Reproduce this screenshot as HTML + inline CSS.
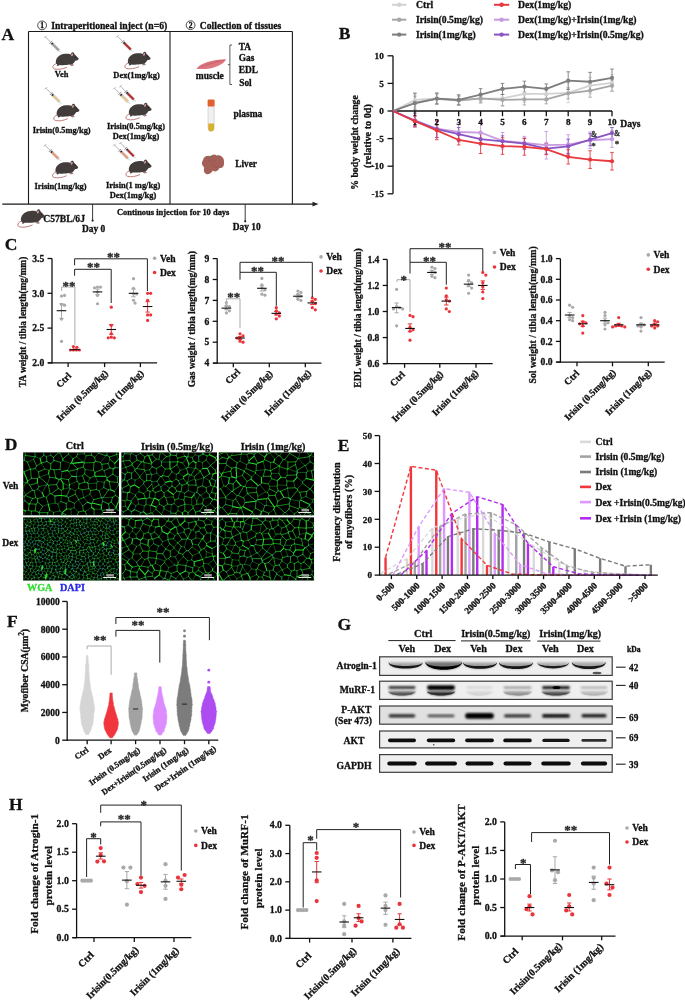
<!DOCTYPE html>
<html><head><meta charset="utf-8"><title>Irisin figure</title>
<style>
html,body{margin:0;padding:0;background:#fff;}
svg{display:block;filter:blur(0.35px);}
text{font-family:"Liberation Serif","Times New Roman",serif;font-weight:bold;stroke-width:0.3px;stroke-linejoin:round;}
</style></head><body>
<svg width="685" height="1001" viewBox="0 0 685 1001">
<defs>
<g id="mouse">
<path d="M1.8,11.4 C-2,12.4 -3.6,16 -0.4,17 C3,17.9 8,17 12,15.2" fill="none" stroke="#b9706c" stroke-width="0.9"/>
<path d="M1,11.5 C0,6.5 4,2.2 10,1.8 C13,1.4 15,1.8 16.6,2.8 L18.2,1.2 C20,2.4 21.6,4.6 23.6,6.4 C23.8,7.6 22.6,8.4 20.6,8.6 C19.6,10 18.6,11.2 17.6,12 L18.8,13.6 L16.2,13.8 L14.6,12.6 C11.5,13.2 7,13.4 4.5,13 L3,14 L1.6,13.6 L2.4,12.6 Z" fill="#423c3b"/>
<ellipse cx="17.4" cy="2.5" rx="1.7" ry="2.3" fill="#423c3b" transform="rotate(20 17.4 2.5)"/><ellipse cx="17.1" cy="2.9" rx="0.9" ry="1.5" fill="#d79a9a" transform="rotate(20 17.1 2.9)"/>
<circle cx="20.4" cy="5" r="0.55" fill="#111"/>
<path d="M14.6,12.6 L16.2,13.8 L18.8,13.6 L17.6,12 Z" fill="#d79a9a" opacity="0.7"/>
</g>
</defs>
<rect x="0" y="0" width="685" height="1001" fill="#ffffff"/>
<text x="1.5" y="40" font-size="17.5" fill="#111" stroke="#111">A</text>
<circle cx="42.1" cy="25.4" r="4.4" fill="none" stroke="#111" stroke-width="0.75"/>
<text x="42.1" y="28.1" font-size="7.6" text-anchor="middle" font-weight="normal" fill="#111" stroke="#111">1</text>
<text x="51.2" y="28.6" font-size="9.66" fill="#111" stroke="#111">Intraperitioneal inject (n=6)</text>
<circle cx="190.6" cy="25.2" r="4.4" fill="none" stroke="#111" stroke-width="0.75"/>
<text x="190.6" y="27.9" font-size="7.6" text-anchor="middle" font-weight="normal" fill="#111" stroke="#111">2</text>
<text x="199.8" y="28.6" font-size="9.66" fill="#111" stroke="#111">Collection of tissues</text>
<line x1="28.5" y1="31.5" x2="292.4" y2="31.5" stroke="#1a1a1a" stroke-width="1.1"/>
<line x1="28.5" y1="31.5" x2="28.5" y2="204" stroke="#1a1a1a" stroke-width="1.1"/>
<line x1="170" y1="31.5" x2="170" y2="204" stroke="#1a1a1a" stroke-width="1.1"/>
<line x1="292.4" y1="31.5" x2="292.4" y2="204" stroke="#1a1a1a" stroke-width="1.1"/>
<line x1="2.3" y1="204.1" x2="313.5" y2="204.1" stroke="#1a1a1a" stroke-width="1.2"/>
<polygon points="312.5,201.7 318.5,204.1 312.5,206.5" fill="#222" stroke="none" stroke-width="1"/>
<line x1="92.6" y1="204" x2="92.6" y2="220.6" stroke="#222" stroke-width="0.9"/>
<circle cx="92.6" cy="220.6" r="1.1" fill="#222" stroke="none" stroke-width="1"/>
<line x1="245.2" y1="204" x2="245.2" y2="221.3" stroke="#222" stroke-width="0.9"/>
<circle cx="245.2" cy="221.3" r="1.1" fill="#222" stroke="none" stroke-width="1"/>
<text x="82" y="232" font-size="9.42" fill="#111" stroke="#111">Day 0</text>
<text x="232.7" y="230.4" font-size="9.42" fill="#111" stroke="#111">Day 10</text>
<text x="117" y="215.2" font-size="8.45" fill="#111" stroke="#111">Continous injection for 10 days</text>
<text x="43.3" y="222" font-size="9.62" fill="#111" stroke="#111">C57BL/6J</text>
<use href="#mouse" transform="translate(20 209) scale(1.05)"/>
<g transform="translate(61 52.5) rotate(225)"><line x1="0" y1="0" x2="3" y2="0" stroke="#6aa6ad" stroke-width="0.5"/><rect x="3" y="-1.25" width="11.5" height="2.5" fill="#eeeeee" stroke="#8a8a8a" stroke-width="0.35"/><rect x="3.2" y="-1.0" width="8.6" height="2.0" fill="#9a9a9a"/><rect x="11.8" y="-1.0" width="1.5" height="2.0" fill="#222"/><line x1="14.5" y1="-2" x2="14.5" y2="2" stroke="#888" stroke-width="0.7"/><line x1="14.5" y1="0" x2="22" y2="0" stroke="#999" stroke-width="0.7"/><line x1="22" y1="-1.6" x2="22" y2="1.6" stroke="#999" stroke-width="0.7"/></g>
<use href="#mouse" transform="translate(55 52) scale(1)"/>
<text x="61.5" y="77.3" font-size="8.4" text-anchor="middle" fill="#111" stroke="#111">Veh</text>
<g transform="translate(133 51.8) rotate(225)"><line x1="0" y1="0" x2="3" y2="0" stroke="#6aa6ad" stroke-width="0.5"/><rect x="3" y="-1.25" width="11.5" height="2.5" fill="#eeeeee" stroke="#8a8a8a" stroke-width="0.35"/><rect x="3.2" y="-1.0" width="8.6" height="2.0" fill="#b52a2a"/><rect x="11.8" y="-1.0" width="1.5" height="2.0" fill="#222"/><line x1="14.5" y1="-2" x2="14.5" y2="2" stroke="#888" stroke-width="0.7"/><line x1="14.5" y1="0" x2="22" y2="0" stroke="#999" stroke-width="0.7"/><line x1="22" y1="-1.6" x2="22" y2="1.6" stroke="#999" stroke-width="0.7"/></g>
<use href="#mouse" transform="translate(127 51.5) scale(1)"/>
<text x="136.6" y="78.3" font-size="8.46" text-anchor="middle" fill="#111" stroke="#111">Dex(1mg/kg)</text>
<g transform="translate(61.5 103.8) rotate(225)"><line x1="0" y1="0" x2="3" y2="0" stroke="#6aa6ad" stroke-width="0.5"/><rect x="3" y="-1.25" width="11.5" height="2.5" fill="#eeeeee" stroke="#8a8a8a" stroke-width="0.35"/><rect x="3.2" y="-1.0" width="8.6" height="2.0" fill="#e6c68e"/><rect x="11.8" y="-1.0" width="1.5" height="2.0" fill="#222"/><line x1="14.5" y1="-2" x2="14.5" y2="2" stroke="#888" stroke-width="0.7"/><line x1="14.5" y1="0" x2="22" y2="0" stroke="#999" stroke-width="0.7"/><line x1="22" y1="-1.6" x2="22" y2="1.6" stroke="#999" stroke-width="0.7"/></g>
<use href="#mouse" transform="translate(55.8 103.5) scale(1)"/>
<text x="61.7" y="132.7" font-size="8.39" text-anchor="middle" fill="#111" stroke="#111">Irisin(0.5mg/kg)</text>
<g transform="translate(130 103.8) rotate(225)"><line x1="0" y1="0" x2="3" y2="0" stroke="#6aa6ad" stroke-width="0.5"/><rect x="3" y="-1.25" width="11.5" height="2.5" fill="#eeeeee" stroke="#8a8a8a" stroke-width="0.35"/><rect x="3.2" y="-1.0" width="8.6" height="2.0" fill="#e6c68e"/><rect x="11.8" y="-1.0" width="1.5" height="2.0" fill="#222"/><line x1="14.5" y1="-2" x2="14.5" y2="2" stroke="#888" stroke-width="0.7"/><line x1="14.5" y1="0" x2="22" y2="0" stroke="#999" stroke-width="0.7"/><line x1="22" y1="-1.6" x2="22" y2="1.6" stroke="#999" stroke-width="0.7"/></g>
<g transform="translate(136 101.8) rotate(225)"><line x1="0" y1="0" x2="3" y2="0" stroke="#6aa6ad" stroke-width="0.5"/><rect x="3" y="-1.25" width="11.5" height="2.5" fill="#eeeeee" stroke="#8a8a8a" stroke-width="0.35"/><rect x="3.2" y="-1.0" width="8.6" height="2.0" fill="#b52a2a"/><rect x="11.8" y="-1.0" width="1.5" height="2.0" fill="#222"/><line x1="14.5" y1="-2" x2="14.5" y2="2" stroke="#888" stroke-width="0.7"/><line x1="14.5" y1="0" x2="22" y2="0" stroke="#999" stroke-width="0.7"/><line x1="22" y1="-1.6" x2="22" y2="1.6" stroke="#999" stroke-width="0.7"/></g>
<use href="#mouse" transform="translate(128 102.5) scale(1)"/>
<text x="136" y="128.8" font-size="8.39" text-anchor="middle" fill="#111" stroke="#111">Irisin(0.5mg/kg)</text>
<text x="136" y="139.3" font-size="8.46" text-anchor="middle" fill="#111" stroke="#111">Dex(1mg/kg)</text>
<g transform="translate(60.5 160.8) rotate(225)"><line x1="0" y1="0" x2="3" y2="0" stroke="#6aa6ad" stroke-width="0.5"/><rect x="3" y="-1.25" width="11.5" height="2.5" fill="#eeeeee" stroke="#8a8a8a" stroke-width="0.35"/><rect x="3.2" y="-1.0" width="8.6" height="2.0" fill="#e8987a"/><rect x="11.8" y="-1.0" width="1.5" height="2.0" fill="#222"/><line x1="14.5" y1="-2" x2="14.5" y2="2" stroke="#888" stroke-width="0.7"/><line x1="14.5" y1="0" x2="22" y2="0" stroke="#999" stroke-width="0.7"/><line x1="22" y1="-1.6" x2="22" y2="1.6" stroke="#999" stroke-width="0.7"/></g>
<use href="#mouse" transform="translate(54.6 160.5) scale(1)"/>
<text x="60.6" y="189" font-size="8.46" text-anchor="middle" fill="#111" stroke="#111">Irisin(1mg/kg)</text>
<g transform="translate(130 160.5) rotate(225)"><line x1="0" y1="0" x2="3" y2="0" stroke="#6aa6ad" stroke-width="0.5"/><rect x="3" y="-1.25" width="11.5" height="2.5" fill="#eeeeee" stroke="#8a8a8a" stroke-width="0.35"/><rect x="3.2" y="-1.0" width="8.6" height="2.0" fill="#e8987a"/><rect x="11.8" y="-1.0" width="1.5" height="2.0" fill="#222"/><line x1="14.5" y1="-2" x2="14.5" y2="2" stroke="#888" stroke-width="0.7"/><line x1="14.5" y1="0" x2="22" y2="0" stroke="#999" stroke-width="0.7"/><line x1="22" y1="-1.6" x2="22" y2="1.6" stroke="#999" stroke-width="0.7"/></g>
<g transform="translate(136 158.5) rotate(225)"><line x1="0" y1="0" x2="3" y2="0" stroke="#6aa6ad" stroke-width="0.5"/><rect x="3" y="-1.25" width="11.5" height="2.5" fill="#eeeeee" stroke="#8a8a8a" stroke-width="0.35"/><rect x="3.2" y="-1.0" width="8.6" height="2.0" fill="#b52a2a"/><rect x="11.8" y="-1.0" width="1.5" height="2.0" fill="#222"/><line x1="14.5" y1="-2" x2="14.5" y2="2" stroke="#888" stroke-width="0.7"/><line x1="14.5" y1="0" x2="22" y2="0" stroke="#999" stroke-width="0.7"/><line x1="22" y1="-1.6" x2="22" y2="1.6" stroke="#999" stroke-width="0.7"/></g>
<use href="#mouse" transform="translate(128 159.4) scale(1)"/>
<text x="133.1" y="188.4" font-size="8.46" text-anchor="middle" fill="#111" stroke="#111">Irisin(1 mg/kg)</text>
<text x="133" y="198.4" font-size="8.46" text-anchor="middle" fill="#111" stroke="#111">Dex(1mg/kg)</text>
<path d="M196.4,68.9 C200,63 212,59.6 226.2,59.2 C223,65.5 211,70.2 196.4,68.9 Z" fill="#de7680" stroke="none" stroke-width="1"/>
<path d="M199,67.8 C207,64.5 216,62 224.5,60.2 M201,66.5 C209,63.2 217,61 224,60.6" fill="none" stroke="#b8555f" stroke-width="0.35"/>
<text x="195.8" y="79.2" font-size="9.51" fill="#111" stroke="#111">muscle</text>
<line x1="229.9" y1="45" x2="229.9" y2="84.5" stroke="#333" stroke-width="0.8"/>
<line x1="229.9" y1="45" x2="232" y2="45" stroke="#333" stroke-width="0.8"/>
<line x1="229.9" y1="84.5" x2="232" y2="84.5" stroke="#333" stroke-width="0.8"/>
<line x1="227.8" y1="64.7" x2="229.9" y2="64.7" stroke="#333" stroke-width="0.8"/>
<text x="238.7" y="50" font-size="9.35" fill="#111" stroke="#111">TA</text>
<text x="238.7" y="61.2" font-size="9.35" fill="#111" stroke="#111">Gas</text>
<text x="238.7" y="73.4" font-size="9.35" fill="#111" stroke="#111">EDL</text>
<text x="239.2" y="86.2" font-size="9.35" fill="#111" stroke="#111">Sol</text>
<rect x="208" y="105" width="6.2" height="26" fill="#f0f0f0" stroke="#b8b8b8" stroke-width="0.5" rx="3"/>
<path d="M208.2,123.5 L214,123.5 L214,128.5 A2.9,2.9 0 0 1 208.2,128.5 Z" fill="#d8b030" stroke="none" stroke-width="1"/>
<rect x="207.6" y="99.5" width="7" height="7" fill="#e0602f" stroke="none" stroke-width="1" rx="1.2"/>
<text x="233.4" y="116.9" font-size="9.46" fill="#111" stroke="#111">plasma</text>
<path d="M203,160 C204,156 208,155 211,156.5 C212,154 215,153.8 216.5,155.5 C220,154.5 224.3,157 224,162 C224.5,166 222.5,168.5 219.5,168 C218,171.5 214.5,172.5 213,170.5 C210.5,174.5 206.5,175.5 204.5,172.5 C203,170 205,167.5 203.5,166.5 C201.5,165 201.5,162 203,160 Z" fill="#a35f58" stroke="none" stroke-width="1"/>
<path d="M208,160 C211,162 214,162 216,160 M212,163 C213,166 215,168 218,167" fill="none" stroke="#8c4c46" stroke-width="0.4"/>
<circle cx="211.2" cy="156.5" r="0.9" fill="#3c8a3c" stroke="none" stroke-width="1"/>
<text x="235.2" y="166.6" font-size="9.35" fill="#111" stroke="#111">Liver</text>
<text x="338.8" y="39.4" font-size="17.5" fill="#111" stroke="#111">B</text>
<line x1="392" y1="4.8" x2="406.3" y2="4.8" stroke="#d2d2d2" stroke-width="2"/>
<circle cx="399.2" cy="4.8" r="2.2" fill="#d2d2d2" stroke="none" stroke-width="1"/>
<text x="416" y="8.4" font-size="9.7" fill="#111" stroke="#111">Ctrl</text>
<line x1="392" y1="19.7" x2="406.3" y2="19.7" stroke="#a6a6a6" stroke-width="2"/>
<circle cx="399.2" cy="19.7" r="2.2" fill="#a6a6a6" stroke="none" stroke-width="1"/>
<text x="416" y="23.3" font-size="9.7" fill="#111" stroke="#111">Irisin(0.5mg/kg)</text>
<line x1="392" y1="34.6" x2="406.3" y2="34.6" stroke="#7e7e7e" stroke-width="2"/>
<circle cx="399.2" cy="34.6" r="2.2" fill="#7e7e7e" stroke="none" stroke-width="1"/>
<text x="416" y="38.2" font-size="9.7" fill="#111" stroke="#111">Irisin(1mg/kg)</text>
<line x1="494" y1="4.8" x2="509.2" y2="4.8" stroke="#e8383e" stroke-width="2"/>
<circle cx="501.6" cy="4.8" r="2.2" fill="#e8383e" stroke="none" stroke-width="1"/>
<text x="518" y="8.4" font-size="9.7" fill="#111" stroke="#111">Dex(1mg/kg)</text>
<line x1="494" y1="19.7" x2="509.2" y2="19.7" stroke="#c79be0" stroke-width="2"/>
<circle cx="501.6" cy="19.7" r="2.2" fill="#c79be0" stroke="none" stroke-width="1"/>
<text x="518" y="23.3" font-size="9.7" fill="#111" stroke="#111">Dex(1mg/kg)+Irisin(1mg/kg)</text>
<line x1="494" y1="34.6" x2="509.2" y2="34.6" stroke="#8a55c2" stroke-width="2"/>
<circle cx="501.6" cy="34.6" r="2.2" fill="#8a55c2" stroke="none" stroke-width="1"/>
<text x="518" y="38.2" font-size="9.7" fill="#111" stroke="#111">Dex(1mg/kg)+Irisin(0.5mg/kg)</text>
<line x1="393" y1="55.8" x2="393" y2="193.8" stroke="#111" stroke-width="1.3"/>
<line x1="387.5" y1="55.8" x2="393" y2="55.8" stroke="#111" stroke-width="1.3"/>
<text x="383.8" y="59" font-size="9.2" text-anchor="end" fill="#111" stroke="#111">10</text>
<line x1="387.5" y1="83.4" x2="393" y2="83.4" stroke="#111" stroke-width="1.3"/>
<text x="383.8" y="86.6" font-size="9.2" text-anchor="end" fill="#111" stroke="#111">5</text>
<line x1="387.5" y1="111" x2="393" y2="111" stroke="#111" stroke-width="1.3"/>
<text x="383.8" y="114.2" font-size="9.2" text-anchor="end" fill="#111" stroke="#111">0</text>
<line x1="387.5" y1="138.6" x2="393" y2="138.6" stroke="#111" stroke-width="1.3"/>
<text x="383.8" y="141.8" font-size="9.2" text-anchor="end" fill="#111" stroke="#111">-5</text>
<line x1="387.5" y1="166.2" x2="393" y2="166.2" stroke="#111" stroke-width="1.3"/>
<text x="383.8" y="169.4" font-size="9.2" text-anchor="end" fill="#111" stroke="#111">-10</text>
<line x1="387.5" y1="193.8" x2="393" y2="193.8" stroke="#111" stroke-width="1.3"/>
<text x="383.8" y="197" font-size="9.2" text-anchor="end" fill="#111" stroke="#111">-15</text>
<text x="357.5" y="142.5" font-size="9.75" text-anchor="middle" fill="#111" stroke="#111" transform="rotate(-90 357.5 142.5)">% body weight change</text>
<text x="371" y="136" font-size="10.2" text-anchor="middle" fill="#111" stroke="#111" transform="rotate(-90 371 136)">(relative to 0d)</text>
<line x1="414.9" y1="92.78" x2="414.9" y2="107.14" stroke="#d2d2d2" stroke-width="0.9"/>
<line x1="413.1" y1="92.78" x2="416.7" y2="92.78" stroke="#d2d2d2" stroke-width="0.9"/>
<line x1="413.1" y1="107.14" x2="416.7" y2="107.14" stroke="#d2d2d2" stroke-width="0.9"/>
<line x1="436.8" y1="92.78" x2="436.8" y2="103.82" stroke="#d2d2d2" stroke-width="0.9"/>
<line x1="435" y1="92.78" x2="438.6" y2="92.78" stroke="#d2d2d2" stroke-width="0.9"/>
<line x1="435" y1="103.82" x2="438.6" y2="103.82" stroke="#d2d2d2" stroke-width="0.9"/>
<line x1="458.7" y1="94.44" x2="458.7" y2="105.48" stroke="#d2d2d2" stroke-width="0.9"/>
<line x1="456.9" y1="94.44" x2="460.5" y2="94.44" stroke="#d2d2d2" stroke-width="0.9"/>
<line x1="456.9" y1="105.48" x2="460.5" y2="105.48" stroke="#d2d2d2" stroke-width="0.9"/>
<line x1="480.6" y1="94.44" x2="480.6" y2="103.27" stroke="#d2d2d2" stroke-width="0.9"/>
<line x1="478.8" y1="94.44" x2="482.4" y2="94.44" stroke="#d2d2d2" stroke-width="0.9"/>
<line x1="478.8" y1="103.27" x2="482.4" y2="103.27" stroke="#d2d2d2" stroke-width="0.9"/>
<line x1="502.5" y1="90.02" x2="502.5" y2="106.58" stroke="#d2d2d2" stroke-width="0.9"/>
<line x1="500.7" y1="90.02" x2="504.3" y2="90.02" stroke="#d2d2d2" stroke-width="0.9"/>
<line x1="500.7" y1="106.58" x2="504.3" y2="106.58" stroke="#d2d2d2" stroke-width="0.9"/>
<line x1="524.4" y1="85.61" x2="524.4" y2="102.17" stroke="#d2d2d2" stroke-width="0.9"/>
<line x1="522.6" y1="85.61" x2="526.2" y2="85.61" stroke="#d2d2d2" stroke-width="0.9"/>
<line x1="522.6" y1="102.17" x2="526.2" y2="102.17" stroke="#d2d2d2" stroke-width="0.9"/>
<line x1="546.3" y1="87.26" x2="546.3" y2="100.51" stroke="#d2d2d2" stroke-width="0.9"/>
<line x1="544.5" y1="87.26" x2="548.1" y2="87.26" stroke="#d2d2d2" stroke-width="0.9"/>
<line x1="544.5" y1="100.51" x2="548.1" y2="100.51" stroke="#d2d2d2" stroke-width="0.9"/>
<line x1="568.2" y1="82.85" x2="568.2" y2="102.72" stroke="#d2d2d2" stroke-width="0.9"/>
<line x1="566.4" y1="82.85" x2="570" y2="82.85" stroke="#d2d2d2" stroke-width="0.9"/>
<line x1="566.4" y1="102.72" x2="570" y2="102.72" stroke="#d2d2d2" stroke-width="0.9"/>
<line x1="590.1" y1="77.33" x2="590.1" y2="93.89" stroke="#d2d2d2" stroke-width="0.9"/>
<line x1="588.3" y1="77.33" x2="591.9" y2="77.33" stroke="#d2d2d2" stroke-width="0.9"/>
<line x1="588.3" y1="93.89" x2="591.9" y2="93.89" stroke="#d2d2d2" stroke-width="0.9"/>
<line x1="612" y1="74.57" x2="612" y2="91.13" stroke="#d2d2d2" stroke-width="0.9"/>
<line x1="610.2" y1="74.57" x2="613.8" y2="74.57" stroke="#d2d2d2" stroke-width="0.9"/>
<line x1="610.2" y1="91.13" x2="613.8" y2="91.13" stroke="#d2d2d2" stroke-width="0.9"/>
<line x1="414.9" y1="96.1" x2="414.9" y2="109.34" stroke="#a6a6a6" stroke-width="0.9"/>
<line x1="413.1" y1="96.1" x2="416.7" y2="96.1" stroke="#a6a6a6" stroke-width="0.9"/>
<line x1="413.1" y1="109.34" x2="416.7" y2="109.34" stroke="#a6a6a6" stroke-width="0.9"/>
<line x1="436.8" y1="93.89" x2="436.8" y2="103.82" stroke="#a6a6a6" stroke-width="0.9"/>
<line x1="435" y1="93.89" x2="438.6" y2="93.89" stroke="#a6a6a6" stroke-width="0.9"/>
<line x1="435" y1="103.82" x2="438.6" y2="103.82" stroke="#a6a6a6" stroke-width="0.9"/>
<line x1="458.7" y1="96.1" x2="458.7" y2="104.93" stroke="#a6a6a6" stroke-width="0.9"/>
<line x1="456.9" y1="96.1" x2="460.5" y2="96.1" stroke="#a6a6a6" stroke-width="0.9"/>
<line x1="456.9" y1="104.93" x2="460.5" y2="104.93" stroke="#a6a6a6" stroke-width="0.9"/>
<line x1="480.6" y1="93.89" x2="480.6" y2="102.72" stroke="#a6a6a6" stroke-width="0.9"/>
<line x1="478.8" y1="93.89" x2="482.4" y2="93.89" stroke="#a6a6a6" stroke-width="0.9"/>
<line x1="478.8" y1="102.72" x2="482.4" y2="102.72" stroke="#a6a6a6" stroke-width="0.9"/>
<line x1="502.5" y1="94.44" x2="502.5" y2="105.48" stroke="#a6a6a6" stroke-width="0.9"/>
<line x1="500.7" y1="94.44" x2="504.3" y2="94.44" stroke="#a6a6a6" stroke-width="0.9"/>
<line x1="500.7" y1="105.48" x2="504.3" y2="105.48" stroke="#a6a6a6" stroke-width="0.9"/>
<line x1="524.4" y1="93.89" x2="524.4" y2="104.93" stroke="#a6a6a6" stroke-width="0.9"/>
<line x1="522.6" y1="93.89" x2="526.2" y2="93.89" stroke="#a6a6a6" stroke-width="0.9"/>
<line x1="522.6" y1="104.93" x2="526.2" y2="104.93" stroke="#a6a6a6" stroke-width="0.9"/>
<line x1="546.3" y1="94.99" x2="546.3" y2="103.82" stroke="#a6a6a6" stroke-width="0.9"/>
<line x1="544.5" y1="94.99" x2="548.1" y2="94.99" stroke="#a6a6a6" stroke-width="0.9"/>
<line x1="544.5" y1="103.82" x2="548.1" y2="103.82" stroke="#a6a6a6" stroke-width="0.9"/>
<line x1="568.2" y1="87.82" x2="568.2" y2="98.86" stroke="#a6a6a6" stroke-width="0.9"/>
<line x1="566.4" y1="87.82" x2="570" y2="87.82" stroke="#a6a6a6" stroke-width="0.9"/>
<line x1="566.4" y1="98.86" x2="570" y2="98.86" stroke="#a6a6a6" stroke-width="0.9"/>
<line x1="590.1" y1="83.95" x2="590.1" y2="97.2" stroke="#a6a6a6" stroke-width="0.9"/>
<line x1="588.3" y1="83.95" x2="591.9" y2="83.95" stroke="#a6a6a6" stroke-width="0.9"/>
<line x1="588.3" y1="97.2" x2="591.9" y2="97.2" stroke="#a6a6a6" stroke-width="0.9"/>
<line x1="612" y1="80.09" x2="612" y2="91.13" stroke="#a6a6a6" stroke-width="0.9"/>
<line x1="610.2" y1="80.09" x2="613.8" y2="80.09" stroke="#a6a6a6" stroke-width="0.9"/>
<line x1="610.2" y1="91.13" x2="613.8" y2="91.13" stroke="#a6a6a6" stroke-width="0.9"/>
<line x1="414.9" y1="93.34" x2="414.9" y2="113.21" stroke="#7e7e7e" stroke-width="0.9"/>
<line x1="413.1" y1="93.34" x2="416.7" y2="93.34" stroke="#7e7e7e" stroke-width="0.9"/>
<line x1="413.1" y1="113.21" x2="416.7" y2="113.21" stroke="#7e7e7e" stroke-width="0.9"/>
<line x1="436.8" y1="93.06" x2="436.8" y2="104.1" stroke="#7e7e7e" stroke-width="0.9"/>
<line x1="435" y1="93.06" x2="438.6" y2="93.06" stroke="#7e7e7e" stroke-width="0.9"/>
<line x1="435" y1="104.1" x2="438.6" y2="104.1" stroke="#7e7e7e" stroke-width="0.9"/>
<line x1="458.7" y1="94.99" x2="458.7" y2="104.93" stroke="#7e7e7e" stroke-width="0.9"/>
<line x1="456.9" y1="94.99" x2="460.5" y2="94.99" stroke="#7e7e7e" stroke-width="0.9"/>
<line x1="456.9" y1="104.93" x2="460.5" y2="104.93" stroke="#7e7e7e" stroke-width="0.9"/>
<line x1="480.6" y1="88.64" x2="480.6" y2="100.79" stroke="#7e7e7e" stroke-width="0.9"/>
<line x1="478.8" y1="88.64" x2="482.4" y2="88.64" stroke="#7e7e7e" stroke-width="0.9"/>
<line x1="478.8" y1="100.79" x2="482.4" y2="100.79" stroke="#7e7e7e" stroke-width="0.9"/>
<line x1="502.5" y1="83.4" x2="502.5" y2="94.44" stroke="#7e7e7e" stroke-width="0.9"/>
<line x1="500.7" y1="83.4" x2="504.3" y2="83.4" stroke="#7e7e7e" stroke-width="0.9"/>
<line x1="500.7" y1="94.44" x2="504.3" y2="94.44" stroke="#7e7e7e" stroke-width="0.9"/>
<line x1="524.4" y1="81.19" x2="524.4" y2="92.23" stroke="#7e7e7e" stroke-width="0.9"/>
<line x1="522.6" y1="81.19" x2="526.2" y2="81.19" stroke="#7e7e7e" stroke-width="0.9"/>
<line x1="522.6" y1="92.23" x2="526.2" y2="92.23" stroke="#7e7e7e" stroke-width="0.9"/>
<line x1="546.3" y1="83.95" x2="546.3" y2="93.89" stroke="#7e7e7e" stroke-width="0.9"/>
<line x1="544.5" y1="83.95" x2="548.1" y2="83.95" stroke="#7e7e7e" stroke-width="0.9"/>
<line x1="544.5" y1="93.89" x2="548.1" y2="93.89" stroke="#7e7e7e" stroke-width="0.9"/>
<line x1="568.2" y1="71.81" x2="568.2" y2="89.47" stroke="#7e7e7e" stroke-width="0.9"/>
<line x1="566.4" y1="71.81" x2="570" y2="71.81" stroke="#7e7e7e" stroke-width="0.9"/>
<line x1="566.4" y1="89.47" x2="570" y2="89.47" stroke="#7e7e7e" stroke-width="0.9"/>
<line x1="590.1" y1="72.36" x2="590.1" y2="91.13" stroke="#7e7e7e" stroke-width="0.9"/>
<line x1="588.3" y1="72.36" x2="591.9" y2="72.36" stroke="#7e7e7e" stroke-width="0.9"/>
<line x1="588.3" y1="91.13" x2="591.9" y2="91.13" stroke="#7e7e7e" stroke-width="0.9"/>
<line x1="612" y1="69.05" x2="612" y2="86.71" stroke="#7e7e7e" stroke-width="0.9"/>
<line x1="610.2" y1="69.05" x2="613.8" y2="69.05" stroke="#7e7e7e" stroke-width="0.9"/>
<line x1="610.2" y1="86.71" x2="613.8" y2="86.71" stroke="#7e7e7e" stroke-width="0.9"/>
<line x1="414.9" y1="113.21" x2="414.9" y2="127.56" stroke="#c79be0" stroke-width="0.9"/>
<line x1="413.1" y1="113.21" x2="416.7" y2="113.21" stroke="#c79be0" stroke-width="0.9"/>
<line x1="413.1" y1="127.56" x2="416.7" y2="127.56" stroke="#c79be0" stroke-width="0.9"/>
<line x1="436.8" y1="119.83" x2="436.8" y2="137.5" stroke="#c79be0" stroke-width="0.9"/>
<line x1="435" y1="119.83" x2="438.6" y2="119.83" stroke="#c79be0" stroke-width="0.9"/>
<line x1="435" y1="137.5" x2="438.6" y2="137.5" stroke="#c79be0" stroke-width="0.9"/>
<line x1="458.7" y1="122.04" x2="458.7" y2="141.91" stroke="#c79be0" stroke-width="0.9"/>
<line x1="456.9" y1="122.04" x2="460.5" y2="122.04" stroke="#c79be0" stroke-width="0.9"/>
<line x1="456.9" y1="141.91" x2="460.5" y2="141.91" stroke="#c79be0" stroke-width="0.9"/>
<line x1="480.6" y1="121.49" x2="480.6" y2="143.57" stroke="#c79be0" stroke-width="0.9"/>
<line x1="478.8" y1="121.49" x2="482.4" y2="121.49" stroke="#c79be0" stroke-width="0.9"/>
<line x1="478.8" y1="143.57" x2="482.4" y2="143.57" stroke="#c79be0" stroke-width="0.9"/>
<line x1="502.5" y1="132.53" x2="502.5" y2="149.09" stroke="#c79be0" stroke-width="0.9"/>
<line x1="500.7" y1="132.53" x2="504.3" y2="132.53" stroke="#c79be0" stroke-width="0.9"/>
<line x1="500.7" y1="149.09" x2="504.3" y2="149.09" stroke="#c79be0" stroke-width="0.9"/>
<line x1="524.4" y1="136.39" x2="524.4" y2="149.64" stroke="#c79be0" stroke-width="0.9"/>
<line x1="522.6" y1="136.39" x2="526.2" y2="136.39" stroke="#c79be0" stroke-width="0.9"/>
<line x1="522.6" y1="149.64" x2="526.2" y2="149.64" stroke="#c79be0" stroke-width="0.9"/>
<line x1="546.3" y1="131.42" x2="546.3" y2="159.02" stroke="#c79be0" stroke-width="0.9"/>
<line x1="544.5" y1="131.42" x2="548.1" y2="131.42" stroke="#c79be0" stroke-width="0.9"/>
<line x1="544.5" y1="159.02" x2="548.1" y2="159.02" stroke="#c79be0" stroke-width="0.9"/>
<line x1="568.2" y1="134.74" x2="568.2" y2="154.61" stroke="#c79be0" stroke-width="0.9"/>
<line x1="566.4" y1="134.74" x2="570" y2="134.74" stroke="#c79be0" stroke-width="0.9"/>
<line x1="566.4" y1="154.61" x2="570" y2="154.61" stroke="#c79be0" stroke-width="0.9"/>
<line x1="590.1" y1="131.98" x2="590.1" y2="148.54" stroke="#c79be0" stroke-width="0.9"/>
<line x1="588.3" y1="131.98" x2="591.9" y2="131.98" stroke="#c79be0" stroke-width="0.9"/>
<line x1="588.3" y1="148.54" x2="591.9" y2="148.54" stroke="#c79be0" stroke-width="0.9"/>
<line x1="612" y1="130.87" x2="612" y2="147.43" stroke="#c79be0" stroke-width="0.9"/>
<line x1="610.2" y1="130.87" x2="613.8" y2="130.87" stroke="#c79be0" stroke-width="0.9"/>
<line x1="610.2" y1="147.43" x2="613.8" y2="147.43" stroke="#c79be0" stroke-width="0.9"/>
<line x1="414.9" y1="115.97" x2="414.9" y2="125.9" stroke="#8a55c2" stroke-width="0.9"/>
<line x1="413.1" y1="115.97" x2="416.7" y2="115.97" stroke="#8a55c2" stroke-width="0.9"/>
<line x1="413.1" y1="125.9" x2="416.7" y2="125.9" stroke="#8a55c2" stroke-width="0.9"/>
<line x1="436.8" y1="120.94" x2="436.8" y2="137.5" stroke="#8a55c2" stroke-width="0.9"/>
<line x1="435" y1="120.94" x2="438.6" y2="120.94" stroke="#8a55c2" stroke-width="0.9"/>
<line x1="435" y1="137.5" x2="438.6" y2="137.5" stroke="#8a55c2" stroke-width="0.9"/>
<line x1="458.7" y1="127.56" x2="458.7" y2="140.81" stroke="#8a55c2" stroke-width="0.9"/>
<line x1="456.9" y1="127.56" x2="460.5" y2="127.56" stroke="#8a55c2" stroke-width="0.9"/>
<line x1="456.9" y1="140.81" x2="460.5" y2="140.81" stroke="#8a55c2" stroke-width="0.9"/>
<line x1="480.6" y1="133.63" x2="480.6" y2="144.67" stroke="#8a55c2" stroke-width="0.9"/>
<line x1="478.8" y1="133.63" x2="482.4" y2="133.63" stroke="#8a55c2" stroke-width="0.9"/>
<line x1="478.8" y1="144.67" x2="482.4" y2="144.67" stroke="#8a55c2" stroke-width="0.9"/>
<line x1="502.5" y1="135.84" x2="502.5" y2="146.88" stroke="#8a55c2" stroke-width="0.9"/>
<line x1="500.7" y1="135.84" x2="504.3" y2="135.84" stroke="#8a55c2" stroke-width="0.9"/>
<line x1="500.7" y1="146.88" x2="504.3" y2="146.88" stroke="#8a55c2" stroke-width="0.9"/>
<line x1="524.4" y1="138.05" x2="524.4" y2="149.09" stroke="#8a55c2" stroke-width="0.9"/>
<line x1="522.6" y1="138.05" x2="526.2" y2="138.05" stroke="#8a55c2" stroke-width="0.9"/>
<line x1="522.6" y1="149.09" x2="526.2" y2="149.09" stroke="#8a55c2" stroke-width="0.9"/>
<line x1="546.3" y1="143.02" x2="546.3" y2="154.06" stroke="#8a55c2" stroke-width="0.9"/>
<line x1="544.5" y1="143.02" x2="548.1" y2="143.02" stroke="#8a55c2" stroke-width="0.9"/>
<line x1="544.5" y1="154.06" x2="548.1" y2="154.06" stroke="#8a55c2" stroke-width="0.9"/>
<line x1="568.2" y1="139.15" x2="568.2" y2="153.5" stroke="#8a55c2" stroke-width="0.9"/>
<line x1="566.4" y1="139.15" x2="570" y2="139.15" stroke="#8a55c2" stroke-width="0.9"/>
<line x1="566.4" y1="153.5" x2="570" y2="153.5" stroke="#8a55c2" stroke-width="0.9"/>
<line x1="590.1" y1="133.63" x2="590.1" y2="145.78" stroke="#8a55c2" stroke-width="0.9"/>
<line x1="588.3" y1="133.63" x2="591.9" y2="133.63" stroke="#8a55c2" stroke-width="0.9"/>
<line x1="588.3" y1="145.78" x2="591.9" y2="145.78" stroke="#8a55c2" stroke-width="0.9"/>
<line x1="612" y1="127.56" x2="612" y2="138.6" stroke="#8a55c2" stroke-width="0.9"/>
<line x1="610.2" y1="127.56" x2="613.8" y2="127.56" stroke="#8a55c2" stroke-width="0.9"/>
<line x1="610.2" y1="138.6" x2="613.8" y2="138.6" stroke="#8a55c2" stroke-width="0.9"/>
<line x1="414.9" y1="115.69" x2="414.9" y2="126.73" stroke="#e8383e" stroke-width="0.9"/>
<line x1="413.1" y1="115.69" x2="416.7" y2="115.69" stroke="#e8383e" stroke-width="0.9"/>
<line x1="413.1" y1="126.73" x2="416.7" y2="126.73" stroke="#e8383e" stroke-width="0.9"/>
<line x1="436.8" y1="120.94" x2="436.8" y2="139.7" stroke="#e8383e" stroke-width="0.9"/>
<line x1="435" y1="120.94" x2="438.6" y2="120.94" stroke="#e8383e" stroke-width="0.9"/>
<line x1="435" y1="139.7" x2="438.6" y2="139.7" stroke="#e8383e" stroke-width="0.9"/>
<line x1="458.7" y1="135.01" x2="458.7" y2="144.95" stroke="#e8383e" stroke-width="0.9"/>
<line x1="456.9" y1="135.01" x2="460.5" y2="135.01" stroke="#e8383e" stroke-width="0.9"/>
<line x1="456.9" y1="144.95" x2="460.5" y2="144.95" stroke="#e8383e" stroke-width="0.9"/>
<line x1="480.6" y1="133.63" x2="480.6" y2="153.5" stroke="#e8383e" stroke-width="0.9"/>
<line x1="478.8" y1="133.63" x2="482.4" y2="133.63" stroke="#e8383e" stroke-width="0.9"/>
<line x1="478.8" y1="153.5" x2="482.4" y2="153.5" stroke="#e8383e" stroke-width="0.9"/>
<line x1="502.5" y1="137.77" x2="502.5" y2="154.33" stroke="#e8383e" stroke-width="0.9"/>
<line x1="500.7" y1="137.77" x2="504.3" y2="137.77" stroke="#e8383e" stroke-width="0.9"/>
<line x1="500.7" y1="154.33" x2="504.3" y2="154.33" stroke="#e8383e" stroke-width="0.9"/>
<line x1="524.4" y1="138.6" x2="524.4" y2="155.16" stroke="#e8383e" stroke-width="0.9"/>
<line x1="522.6" y1="138.6" x2="526.2" y2="138.6" stroke="#e8383e" stroke-width="0.9"/>
<line x1="522.6" y1="155.16" x2="526.2" y2="155.16" stroke="#e8383e" stroke-width="0.9"/>
<line x1="546.3" y1="143.57" x2="546.3" y2="154.61" stroke="#e8383e" stroke-width="0.9"/>
<line x1="544.5" y1="143.57" x2="548.1" y2="143.57" stroke="#e8383e" stroke-width="0.9"/>
<line x1="544.5" y1="154.61" x2="548.1" y2="154.61" stroke="#e8383e" stroke-width="0.9"/>
<line x1="568.2" y1="149.64" x2="568.2" y2="163.99" stroke="#e8383e" stroke-width="0.9"/>
<line x1="566.4" y1="149.64" x2="570" y2="149.64" stroke="#e8383e" stroke-width="0.9"/>
<line x1="566.4" y1="163.99" x2="570" y2="163.99" stroke="#e8383e" stroke-width="0.9"/>
<line x1="590.1" y1="150.74" x2="590.1" y2="168.41" stroke="#e8383e" stroke-width="0.9"/>
<line x1="588.3" y1="150.74" x2="591.9" y2="150.74" stroke="#e8383e" stroke-width="0.9"/>
<line x1="588.3" y1="168.41" x2="591.9" y2="168.41" stroke="#e8383e" stroke-width="0.9"/>
<line x1="612" y1="152.4" x2="612" y2="170.06" stroke="#e8383e" stroke-width="0.9"/>
<line x1="610.2" y1="152.4" x2="613.8" y2="152.4" stroke="#e8383e" stroke-width="0.9"/>
<line x1="610.2" y1="170.06" x2="613.8" y2="170.06" stroke="#e8383e" stroke-width="0.9"/>
<line x1="393" y1="111" x2="612" y2="111" stroke="#111" stroke-width="1.3"/>
<line x1="414.9" y1="111" x2="414.9" y2="116.2" stroke="#111" stroke-width="1.3"/>
<text x="414.9" y="125.3" font-size="9.2" text-anchor="middle" fill="#111" stroke="#111">1</text>
<line x1="436.8" y1="111" x2="436.8" y2="116.2" stroke="#111" stroke-width="1.3"/>
<text x="436.8" y="125.3" font-size="9.2" text-anchor="middle" fill="#111" stroke="#111">2</text>
<line x1="458.7" y1="111" x2="458.7" y2="116.2" stroke="#111" stroke-width="1.3"/>
<text x="458.7" y="125.3" font-size="9.2" text-anchor="middle" fill="#111" stroke="#111">3</text>
<line x1="480.6" y1="111" x2="480.6" y2="116.2" stroke="#111" stroke-width="1.3"/>
<text x="480.6" y="125.3" font-size="9.2" text-anchor="middle" fill="#111" stroke="#111">4</text>
<line x1="502.5" y1="111" x2="502.5" y2="116.2" stroke="#111" stroke-width="1.3"/>
<text x="502.5" y="125.3" font-size="9.2" text-anchor="middle" fill="#111" stroke="#111">5</text>
<line x1="524.4" y1="111" x2="524.4" y2="116.2" stroke="#111" stroke-width="1.3"/>
<text x="524.4" y="125.3" font-size="9.2" text-anchor="middle" fill="#111" stroke="#111">6</text>
<line x1="546.3" y1="111" x2="546.3" y2="116.2" stroke="#111" stroke-width="1.3"/>
<text x="546.3" y="125.3" font-size="9.2" text-anchor="middle" fill="#111" stroke="#111">7</text>
<line x1="568.2" y1="111" x2="568.2" y2="116.2" stroke="#111" stroke-width="1.3"/>
<text x="568.2" y="125.3" font-size="9.2" text-anchor="middle" fill="#111" stroke="#111">8</text>
<line x1="590.1" y1="111" x2="590.1" y2="116.2" stroke="#111" stroke-width="1.3"/>
<text x="590.1" y="125.3" font-size="9.2" text-anchor="middle" fill="#111" stroke="#111">9</text>
<line x1="612" y1="111" x2="612" y2="116.2" stroke="#111" stroke-width="1.3"/>
<text x="612" y="125.3" font-size="9.2" text-anchor="middle" fill="#111" stroke="#111">10</text>
<text x="620.3" y="126.5" font-size="9.6" fill="#111" stroke="#111">Days</text>
<polyline points="393,111 414.9,99.96 436.8,98.3 458.7,99.96 480.6,98.86 502.5,98.3 524.4,93.89 546.3,93.89 568.2,92.78 590.1,85.61 612,82.85" fill="none" stroke="#d2d2d2" stroke-width="1.8" stroke-linejoin="round"/>
<circle cx="414.9" cy="99.96" r="2.1" fill="#d2d2d2" stroke="none" stroke-width="1"/>
<circle cx="436.8" cy="98.3" r="2.1" fill="#d2d2d2" stroke="none" stroke-width="1"/>
<circle cx="458.7" cy="99.96" r="2.1" fill="#d2d2d2" stroke="none" stroke-width="1"/>
<circle cx="480.6" cy="98.86" r="2.1" fill="#d2d2d2" stroke="none" stroke-width="1"/>
<circle cx="502.5" cy="98.3" r="2.1" fill="#d2d2d2" stroke="none" stroke-width="1"/>
<circle cx="524.4" cy="93.89" r="2.1" fill="#d2d2d2" stroke="none" stroke-width="1"/>
<circle cx="546.3" cy="93.89" r="2.1" fill="#d2d2d2" stroke="none" stroke-width="1"/>
<circle cx="568.2" cy="92.78" r="2.1" fill="#d2d2d2" stroke="none" stroke-width="1"/>
<circle cx="590.1" cy="85.61" r="2.1" fill="#d2d2d2" stroke="none" stroke-width="1"/>
<circle cx="612" cy="82.85" r="2.1" fill="#d2d2d2" stroke="none" stroke-width="1"/>
<polyline points="393,111 414.9,102.72 436.8,98.86 458.7,100.51 480.6,98.3 502.5,99.96 524.4,99.41 546.3,99.41 568.2,93.34 590.1,90.58 612,85.61" fill="none" stroke="#a6a6a6" stroke-width="1.8" stroke-linejoin="round"/>
<circle cx="414.9" cy="102.72" r="2.1" fill="#a6a6a6" stroke="none" stroke-width="1"/>
<circle cx="436.8" cy="98.86" r="2.1" fill="#a6a6a6" stroke="none" stroke-width="1"/>
<circle cx="458.7" cy="100.51" r="2.1" fill="#a6a6a6" stroke="none" stroke-width="1"/>
<circle cx="480.6" cy="98.3" r="2.1" fill="#a6a6a6" stroke="none" stroke-width="1"/>
<circle cx="502.5" cy="99.96" r="2.1" fill="#a6a6a6" stroke="none" stroke-width="1"/>
<circle cx="524.4" cy="99.41" r="2.1" fill="#a6a6a6" stroke="none" stroke-width="1"/>
<circle cx="546.3" cy="99.41" r="2.1" fill="#a6a6a6" stroke="none" stroke-width="1"/>
<circle cx="568.2" cy="93.34" r="2.1" fill="#a6a6a6" stroke="none" stroke-width="1"/>
<circle cx="590.1" cy="90.58" r="2.1" fill="#a6a6a6" stroke="none" stroke-width="1"/>
<circle cx="612" cy="85.61" r="2.1" fill="#a6a6a6" stroke="none" stroke-width="1"/>
<polyline points="393,111 414.9,103.27 436.8,98.58 458.7,99.96 480.6,94.72 502.5,88.92 524.4,86.71 546.3,88.92 568.2,80.64 590.1,81.74 612,77.88" fill="none" stroke="#7e7e7e" stroke-width="1.8" stroke-linejoin="round"/>
<circle cx="414.9" cy="103.27" r="2.1" fill="#7e7e7e" stroke="none" stroke-width="1"/>
<circle cx="436.8" cy="98.58" r="2.1" fill="#7e7e7e" stroke="none" stroke-width="1"/>
<circle cx="458.7" cy="99.96" r="2.1" fill="#7e7e7e" stroke="none" stroke-width="1"/>
<circle cx="480.6" cy="94.72" r="2.1" fill="#7e7e7e" stroke="none" stroke-width="1"/>
<circle cx="502.5" cy="88.92" r="2.1" fill="#7e7e7e" stroke="none" stroke-width="1"/>
<circle cx="524.4" cy="86.71" r="2.1" fill="#7e7e7e" stroke="none" stroke-width="1"/>
<circle cx="546.3" cy="88.92" r="2.1" fill="#7e7e7e" stroke="none" stroke-width="1"/>
<circle cx="568.2" cy="80.64" r="2.1" fill="#7e7e7e" stroke="none" stroke-width="1"/>
<circle cx="590.1" cy="81.74" r="2.1" fill="#7e7e7e" stroke="none" stroke-width="1"/>
<circle cx="612" cy="77.88" r="2.1" fill="#7e7e7e" stroke="none" stroke-width="1"/>
<polyline points="393,111 414.9,120.38 436.8,128.66 458.7,131.98 480.6,132.53 502.5,140.81 524.4,143.02 546.3,145.22 568.2,144.67 590.1,140.26 612,139.15" fill="none" stroke="#c79be0" stroke-width="1.8" stroke-linejoin="round"/>
<circle cx="414.9" cy="120.38" r="2.1" fill="#c79be0" stroke="none" stroke-width="1"/>
<circle cx="436.8" cy="128.66" r="2.1" fill="#c79be0" stroke="none" stroke-width="1"/>
<circle cx="458.7" cy="131.98" r="2.1" fill="#c79be0" stroke="none" stroke-width="1"/>
<circle cx="480.6" cy="132.53" r="2.1" fill="#c79be0" stroke="none" stroke-width="1"/>
<circle cx="502.5" cy="140.81" r="2.1" fill="#c79be0" stroke="none" stroke-width="1"/>
<circle cx="524.4" cy="143.02" r="2.1" fill="#c79be0" stroke="none" stroke-width="1"/>
<circle cx="546.3" cy="145.22" r="2.1" fill="#c79be0" stroke="none" stroke-width="1"/>
<circle cx="568.2" cy="144.67" r="2.1" fill="#c79be0" stroke="none" stroke-width="1"/>
<circle cx="590.1" cy="140.26" r="2.1" fill="#c79be0" stroke="none" stroke-width="1"/>
<circle cx="612" cy="139.15" r="2.1" fill="#c79be0" stroke="none" stroke-width="1"/>
<polyline points="393,111 414.9,120.94 436.8,129.22 458.7,134.18 480.6,139.15 502.5,141.36 524.4,143.57 546.3,148.54 568.2,146.33 590.1,139.7 612,133.08" fill="none" stroke="#8a55c2" stroke-width="1.8" stroke-linejoin="round"/>
<circle cx="414.9" cy="120.94" r="2.1" fill="#8a55c2" stroke="none" stroke-width="1"/>
<circle cx="436.8" cy="129.22" r="2.1" fill="#8a55c2" stroke="none" stroke-width="1"/>
<circle cx="458.7" cy="134.18" r="2.1" fill="#8a55c2" stroke="none" stroke-width="1"/>
<circle cx="480.6" cy="139.15" r="2.1" fill="#8a55c2" stroke="none" stroke-width="1"/>
<circle cx="502.5" cy="141.36" r="2.1" fill="#8a55c2" stroke="none" stroke-width="1"/>
<circle cx="524.4" cy="143.57" r="2.1" fill="#8a55c2" stroke="none" stroke-width="1"/>
<circle cx="546.3" cy="148.54" r="2.1" fill="#8a55c2" stroke="none" stroke-width="1"/>
<circle cx="568.2" cy="146.33" r="2.1" fill="#8a55c2" stroke="none" stroke-width="1"/>
<circle cx="590.1" cy="139.7" r="2.1" fill="#8a55c2" stroke="none" stroke-width="1"/>
<circle cx="612" cy="133.08" r="2.1" fill="#8a55c2" stroke="none" stroke-width="1"/>
<polyline points="393,111 414.9,121.21 436.8,130.32 458.7,139.98 480.6,143.57 502.5,146.05 524.4,146.88 546.3,149.09 568.2,156.82 590.1,159.58 612,161.23" fill="none" stroke="#e8383e" stroke-width="1.8" stroke-linejoin="round"/>
<circle cx="414.9" cy="121.21" r="2.1" fill="#e8383e" stroke="none" stroke-width="1"/>
<circle cx="436.8" cy="130.32" r="2.1" fill="#e8383e" stroke="none" stroke-width="1"/>
<circle cx="458.7" cy="139.98" r="2.1" fill="#e8383e" stroke="none" stroke-width="1"/>
<circle cx="480.6" cy="143.57" r="2.1" fill="#e8383e" stroke="none" stroke-width="1"/>
<circle cx="502.5" cy="146.05" r="2.1" fill="#e8383e" stroke="none" stroke-width="1"/>
<circle cx="524.4" cy="146.88" r="2.1" fill="#e8383e" stroke="none" stroke-width="1"/>
<circle cx="546.3" cy="149.09" r="2.1" fill="#e8383e" stroke="none" stroke-width="1"/>
<circle cx="568.2" cy="156.82" r="2.1" fill="#e8383e" stroke="none" stroke-width="1"/>
<circle cx="590.1" cy="159.58" r="2.1" fill="#e8383e" stroke="none" stroke-width="1"/>
<circle cx="612" cy="161.23" r="2.1" fill="#e8383e" stroke="none" stroke-width="1"/>
<text x="594" y="137.3" font-size="7.4" text-anchor="middle" fill="#333" stroke="#333">&amp;</text>
<text x="617.2" y="136.4" font-size="7.4" text-anchor="middle" fill="#333" stroke="#333">&amp;</text>
<text x="593.6" y="149.3" font-size="9" text-anchor="middle" fill="#333" stroke="#333">*</text>
<text x="617" y="146.6" font-size="9" text-anchor="middle" fill="#333" stroke="#333">*</text>
<text x="4.8" y="249.7" font-size="17.5" fill="#111" stroke="#111">C</text>
<line x1="52" y1="258.5" x2="52" y2="363.4" stroke="#111" stroke-width="1.3"/>
<line x1="48" y1="362.9" x2="157.1" y2="362.9" stroke="#111" stroke-width="1.3"/>
<line x1="47.5" y1="362.9" x2="52" y2="362.9" stroke="#111" stroke-width="1.3"/>
<text x="44.2" y="366.1" font-size="9.6" text-anchor="end" fill="#111" stroke="#111">2.0</text>
<line x1="47.5" y1="328.1" x2="52" y2="328.1" stroke="#111" stroke-width="1.3"/>
<text x="44.2" y="331.3" font-size="9.6" text-anchor="end" fill="#111" stroke="#111">2.5</text>
<line x1="47.5" y1="293.3" x2="52" y2="293.3" stroke="#111" stroke-width="1.3"/>
<text x="44.2" y="296.5" font-size="9.6" text-anchor="end" fill="#111" stroke="#111">3.0</text>
<line x1="47.5" y1="258.5" x2="52" y2="258.5" stroke="#111" stroke-width="1.3"/>
<text x="44.2" y="261.7" font-size="9.6" text-anchor="end" fill="#111" stroke="#111">3.5</text>
<line x1="68.1" y1="362.9" x2="68.1" y2="367.1" stroke="#111" stroke-width="1.3"/>
<line x1="104.6" y1="362.9" x2="104.6" y2="367.1" stroke="#111" stroke-width="1.3"/>
<line x1="140.4" y1="362.9" x2="140.4" y2="367.1" stroke="#111" stroke-width="1.3"/>
<text x="25.8" y="322" font-size="9.4" text-anchor="middle" fill="#111" stroke="#111" transform="rotate(-90 25.8 322)">TA weight / tibia length(mg/mm)</text>
<text x="71.9" y="376.3" font-size="9.5" text-anchor="end" fill="#111" stroke="#111" transform="rotate(-45 71.9 376.3)">Ctrl</text>
<text x="108.4" y="373.7" font-size="9.5" text-anchor="end" fill="#111" stroke="#111" transform="rotate(-45 108.4 373.7)">Irisin (0.5mg/kg)</text>
<text x="144.2" y="373.7" font-size="9.5" text-anchor="end" fill="#111" stroke="#111" transform="rotate(-45 144.2 373.7)">Irisin (1mg/kg)</text>
<circle cx="61.5" cy="296.08" r="1.6" fill="#a9a9a9" stroke="none" stroke-width="1"/>
<circle cx="64.54" cy="295.39" r="1.6" fill="#a9a9a9" stroke="none" stroke-width="1"/>
<circle cx="61.5" cy="304.44" r="1.6" fill="#a9a9a9" stroke="none" stroke-width="1"/>
<circle cx="64.54" cy="305.13" r="1.6" fill="#a9a9a9" stroke="none" stroke-width="1"/>
<circle cx="61.5" cy="319.05" r="1.6" fill="#a9a9a9" stroke="none" stroke-width="1"/>
<circle cx="61.5" cy="341.32" r="1.6" fill="#a9a9a9" stroke="none" stroke-width="1"/>
<line x1="61.5" y1="318.36" x2="61.5" y2="303.74" stroke="#a9a9a9" stroke-width="1"/>
<line x1="59.3" y1="318.36" x2="63.7" y2="318.36" stroke="#a9a9a9" stroke-width="1"/>
<line x1="59.3" y1="303.74" x2="63.7" y2="303.74" stroke="#a9a9a9" stroke-width="1"/>
<line x1="56.7" y1="310.7" x2="66.3" y2="310.7" stroke="#111" stroke-width="1.1"/>
<circle cx="73.4" cy="346.54" r="1.6" fill="#e8343a" stroke="none" stroke-width="1"/>
<circle cx="76.9" cy="347.24" r="1.6" fill="#e8343a" stroke="none" stroke-width="1"/>
<circle cx="70.4" cy="350.02" r="1.6" fill="#e8343a" stroke="none" stroke-width="1"/>
<circle cx="73.4" cy="350.02" r="1.6" fill="#e8343a" stroke="none" stroke-width="1"/>
<circle cx="76.4" cy="350.02" r="1.6" fill="#e8343a" stroke="none" stroke-width="1"/>
<circle cx="79.4" cy="350.02" r="1.6" fill="#e8343a" stroke="none" stroke-width="1"/>
<line x1="74.9" y1="350.02" x2="74.9" y2="348.98" stroke="#e8343a" stroke-width="1"/>
<line x1="72.7" y1="350.02" x2="77.1" y2="350.02" stroke="#e8343a" stroke-width="1"/>
<line x1="72.7" y1="348.98" x2="77.1" y2="348.98" stroke="#e8343a" stroke-width="1"/>
<line x1="70.1" y1="349.68" x2="79.7" y2="349.68" stroke="#111" stroke-width="1.1"/>
<circle cx="97.5" cy="287.04" r="1.6" fill="#a9a9a9" stroke="none" stroke-width="1"/>
<circle cx="100.54" cy="287.04" r="1.6" fill="#a9a9a9" stroke="none" stroke-width="1"/>
<circle cx="94.46" cy="287.73" r="1.6" fill="#a9a9a9" stroke="none" stroke-width="1"/>
<circle cx="97.5" cy="291.91" r="1.6" fill="#a9a9a9" stroke="none" stroke-width="1"/>
<circle cx="97.5" cy="295.39" r="1.6" fill="#a9a9a9" stroke="none" stroke-width="1"/>
<circle cx="97.5" cy="303.74" r="1.6" fill="#a9a9a9" stroke="none" stroke-width="1"/>
<line x1="97.5" y1="294.69" x2="97.5" y2="289.12" stroke="#a9a9a9" stroke-width="1"/>
<line x1="95.3" y1="294.69" x2="99.7" y2="294.69" stroke="#a9a9a9" stroke-width="1"/>
<line x1="95.3" y1="289.12" x2="99.7" y2="289.12" stroke="#a9a9a9" stroke-width="1"/>
<line x1="92.7" y1="291.91" x2="102.3" y2="291.91" stroke="#111" stroke-width="1.1"/>
<circle cx="111.3" cy="307.22" r="1.6" fill="#e8343a" stroke="none" stroke-width="1"/>
<circle cx="111.3" cy="325.32" r="1.6" fill="#e8343a" stroke="none" stroke-width="1"/>
<circle cx="111.3" cy="333.67" r="1.6" fill="#e8343a" stroke="none" stroke-width="1"/>
<circle cx="111.3" cy="337.15" r="1.6" fill="#e8343a" stroke="none" stroke-width="1"/>
<circle cx="114.34" cy="337.84" r="1.6" fill="#e8343a" stroke="none" stroke-width="1"/>
<circle cx="108.26" cy="337.84" r="1.6" fill="#e8343a" stroke="none" stroke-width="1"/>
<line x1="111.3" y1="334.36" x2="111.3" y2="324.62" stroke="#e8343a" stroke-width="1"/>
<line x1="109.1" y1="334.36" x2="113.5" y2="334.36" stroke="#e8343a" stroke-width="1"/>
<line x1="109.1" y1="324.62" x2="113.5" y2="324.62" stroke="#e8343a" stroke-width="1"/>
<line x1="106.5" y1="329.49" x2="116.1" y2="329.49" stroke="#111" stroke-width="1.1"/>
<circle cx="133.5" cy="278.68" r="1.6" fill="#a9a9a9" stroke="none" stroke-width="1"/>
<circle cx="133.5" cy="288.43" r="1.6" fill="#a9a9a9" stroke="none" stroke-width="1"/>
<circle cx="133.5" cy="294" r="1.6" fill="#a9a9a9" stroke="none" stroke-width="1"/>
<circle cx="136.54" cy="294" r="1.6" fill="#a9a9a9" stroke="none" stroke-width="1"/>
<circle cx="133.5" cy="300.26" r="1.6" fill="#a9a9a9" stroke="none" stroke-width="1"/>
<circle cx="135.02" cy="303.04" r="1.6" fill="#a9a9a9" stroke="none" stroke-width="1"/>
<line x1="133.5" y1="296.78" x2="133.5" y2="289.12" stroke="#a9a9a9" stroke-width="1"/>
<line x1="131.3" y1="296.78" x2="135.7" y2="296.78" stroke="#a9a9a9" stroke-width="1"/>
<line x1="131.3" y1="289.12" x2="135.7" y2="289.12" stroke="#a9a9a9" stroke-width="1"/>
<line x1="128.7" y1="293.3" x2="138.3" y2="293.3" stroke="#111" stroke-width="1.1"/>
<circle cx="147.6" cy="293.3" r="1.6" fill="#e8343a" stroke="none" stroke-width="1"/>
<circle cx="150.64" cy="293.3" r="1.6" fill="#e8343a" stroke="none" stroke-width="1"/>
<circle cx="147.6" cy="300.26" r="1.6" fill="#e8343a" stroke="none" stroke-width="1"/>
<circle cx="147.6" cy="314.88" r="1.6" fill="#e8343a" stroke="none" stroke-width="1"/>
<circle cx="150.64" cy="314.88" r="1.6" fill="#e8343a" stroke="none" stroke-width="1"/>
<circle cx="147.6" cy="320.44" r="1.6" fill="#e8343a" stroke="none" stroke-width="1"/>
<line x1="147.6" y1="312.09" x2="147.6" y2="301.65" stroke="#e8343a" stroke-width="1"/>
<line x1="145.4" y1="312.09" x2="149.8" y2="312.09" stroke="#e8343a" stroke-width="1"/>
<line x1="145.4" y1="301.65" x2="149.8" y2="301.65" stroke="#e8343a" stroke-width="1"/>
<line x1="142.8" y1="306.52" x2="152.4" y2="306.52" stroke="#111" stroke-width="1.1"/>
<polyline points="61.6,291 61.6,287 74.9,287 74.9,344.7" fill="none" stroke="#aaaaaa" stroke-width="1"/>
<text x="69" y="289.8" font-size="13" text-anchor="middle" font-weight="normal" fill="#222" stroke="#222" stroke-width="0.15">**</text>
<polyline points="74.6,275.7 74.6,269.3 111.2,269.3 111.2,303" fill="none" stroke="#222" stroke-width="1"/>
<text x="93.4" y="271.4" font-size="13" text-anchor="middle" font-weight="normal" fill="#222" stroke="#222" stroke-width="0.15">**</text>
<polyline points="74.6,265.3 74.6,258.8 147.4,258.8 147.4,291" fill="none" stroke="#222" stroke-width="1"/>
<text x="113.4" y="260.9" font-size="13" text-anchor="middle" font-weight="normal" fill="#222" stroke="#222" stroke-width="0.15">**</text>
<circle cx="154.6" cy="258.2" r="1.8" fill="#a9a9a9" stroke="none" stroke-width="1"/>
<circle cx="154.6" cy="272.5" r="1.8" fill="#e8343a" stroke="none" stroke-width="1"/>
<text x="159.9" y="261.5" font-size="9.6" fill="#111" stroke="#111">Veh</text>
<text x="159.9" y="275.8" font-size="9.6" fill="#111" stroke="#111">Dex</text>
<line x1="217.2" y1="258.6" x2="217.2" y2="363.6" stroke="#111" stroke-width="1.3"/>
<line x1="213.2" y1="363.1" x2="321.4" y2="363.1" stroke="#111" stroke-width="1.3"/>
<line x1="212.7" y1="363.1" x2="217.2" y2="363.1" stroke="#111" stroke-width="1.3"/>
<text x="209.4" y="366.3" font-size="9.6" text-anchor="end" fill="#111" stroke="#111">4</text>
<line x1="212.7" y1="342.2" x2="217.2" y2="342.2" stroke="#111" stroke-width="1.3"/>
<text x="209.4" y="345.4" font-size="9.6" text-anchor="end" fill="#111" stroke="#111">5</text>
<line x1="212.7" y1="321.3" x2="217.2" y2="321.3" stroke="#111" stroke-width="1.3"/>
<text x="209.4" y="324.5" font-size="9.6" text-anchor="end" fill="#111" stroke="#111">6</text>
<line x1="212.7" y1="300.4" x2="217.2" y2="300.4" stroke="#111" stroke-width="1.3"/>
<text x="209.4" y="303.6" font-size="9.6" text-anchor="end" fill="#111" stroke="#111">7</text>
<line x1="212.7" y1="279.5" x2="217.2" y2="279.5" stroke="#111" stroke-width="1.3"/>
<text x="209.4" y="282.7" font-size="9.6" text-anchor="end" fill="#111" stroke="#111">8</text>
<line x1="212.7" y1="258.6" x2="217.2" y2="258.6" stroke="#111" stroke-width="1.3"/>
<text x="209.4" y="261.8" font-size="9.6" text-anchor="end" fill="#111" stroke="#111">9</text>
<line x1="233.3" y1="363.1" x2="233.3" y2="367.3" stroke="#111" stroke-width="1.3"/>
<line x1="269.3" y1="363.1" x2="269.3" y2="367.3" stroke="#111" stroke-width="1.3"/>
<line x1="305.3" y1="363.1" x2="305.3" y2="367.3" stroke="#111" stroke-width="1.3"/>
<text x="195.1" y="319.2" font-size="9.5" text-anchor="middle" fill="#111" stroke="#111" transform="rotate(-90 195.1 319.2)">Gas weight / tibia length(mg/mm)</text>
<text x="240.9" y="372.6" font-size="9.5" text-anchor="end" fill="#111" stroke="#111" transform="rotate(-45 240.9 372.6)">Ctrl</text>
<text x="273.1" y="373.9" font-size="9.5" text-anchor="end" fill="#111" stroke="#111" transform="rotate(-45 273.1 373.9)">Irisin (0.5mg/kg)</text>
<text x="311.4" y="373.4" font-size="9.5" text-anchor="end" fill="#111" stroke="#111" transform="rotate(-45 311.4 373.4)">Irisin (1mg/kg)</text>
<circle cx="226.4" cy="302.49" r="1.6" fill="#a9a9a9" stroke="none" stroke-width="1"/>
<circle cx="226.4" cy="305.62" r="1.6" fill="#a9a9a9" stroke="none" stroke-width="1"/>
<circle cx="229.44" cy="306.67" r="1.6" fill="#a9a9a9" stroke="none" stroke-width="1"/>
<circle cx="226.4" cy="308.76" r="1.6" fill="#a9a9a9" stroke="none" stroke-width="1"/>
<circle cx="229.44" cy="310.85" r="1.6" fill="#a9a9a9" stroke="none" stroke-width="1"/>
<circle cx="226.4" cy="312.94" r="1.6" fill="#a9a9a9" stroke="none" stroke-width="1"/>
<line x1="226.4" y1="309.81" x2="226.4" y2="306.25" stroke="#a9a9a9" stroke-width="1"/>
<line x1="224.2" y1="309.81" x2="228.6" y2="309.81" stroke="#a9a9a9" stroke-width="1"/>
<line x1="224.2" y1="306.25" x2="228.6" y2="306.25" stroke="#a9a9a9" stroke-width="1"/>
<line x1="221.6" y1="308.13" x2="231.2" y2="308.13" stroke="#111" stroke-width="1.1"/>
<circle cx="240" cy="333.84" r="1.6" fill="#e8343a" stroke="none" stroke-width="1"/>
<circle cx="243.04" cy="335.93" r="1.6" fill="#e8343a" stroke="none" stroke-width="1"/>
<circle cx="240" cy="338.02" r="1.6" fill="#e8343a" stroke="none" stroke-width="1"/>
<circle cx="236.96" cy="338.02" r="1.6" fill="#e8343a" stroke="none" stroke-width="1"/>
<circle cx="240" cy="341.16" r="1.6" fill="#e8343a" stroke="none" stroke-width="1"/>
<circle cx="243.04" cy="342.2" r="1.6" fill="#e8343a" stroke="none" stroke-width="1"/>
<line x1="240" y1="339.48" x2="240" y2="336.56" stroke="#e8343a" stroke-width="1"/>
<line x1="237.8" y1="339.48" x2="242.2" y2="339.48" stroke="#e8343a" stroke-width="1"/>
<line x1="237.8" y1="336.56" x2="242.2" y2="336.56" stroke="#e8343a" stroke-width="1"/>
<line x1="235.2" y1="338.02" x2="244.8" y2="338.02" stroke="#111" stroke-width="1.1"/>
<circle cx="261.9" cy="278.46" r="1.6" fill="#a9a9a9" stroke="none" stroke-width="1"/>
<circle cx="261.9" cy="284.73" r="1.6" fill="#a9a9a9" stroke="none" stroke-width="1"/>
<circle cx="261.9" cy="287.86" r="1.6" fill="#a9a9a9" stroke="none" stroke-width="1"/>
<circle cx="264.94" cy="289.95" r="1.6" fill="#a9a9a9" stroke="none" stroke-width="1"/>
<circle cx="261.9" cy="294.13" r="1.6" fill="#a9a9a9" stroke="none" stroke-width="1"/>
<circle cx="264.94" cy="295.18" r="1.6" fill="#a9a9a9" stroke="none" stroke-width="1"/>
<line x1="261.9" y1="291" x2="261.9" y2="285.77" stroke="#a9a9a9" stroke-width="1"/>
<line x1="259.7" y1="291" x2="264.1" y2="291" stroke="#a9a9a9" stroke-width="1"/>
<line x1="259.7" y1="285.77" x2="264.1" y2="285.77" stroke="#a9a9a9" stroke-width="1"/>
<line x1="257.1" y1="288.28" x2="266.7" y2="288.28" stroke="#111" stroke-width="1.1"/>
<circle cx="276.3" cy="307.72" r="1.6" fill="#e8343a" stroke="none" stroke-width="1"/>
<circle cx="276.3" cy="310.85" r="1.6" fill="#e8343a" stroke="none" stroke-width="1"/>
<circle cx="279.34" cy="312.94" r="1.6" fill="#e8343a" stroke="none" stroke-width="1"/>
<circle cx="276.3" cy="313.99" r="1.6" fill="#e8343a" stroke="none" stroke-width="1"/>
<circle cx="279.34" cy="316.08" r="1.6" fill="#e8343a" stroke="none" stroke-width="1"/>
<circle cx="276.3" cy="318.79" r="1.6" fill="#e8343a" stroke="none" stroke-width="1"/>
<line x1="276.3" y1="315.03" x2="276.3" y2="311.48" stroke="#e8343a" stroke-width="1"/>
<line x1="274.1" y1="315.03" x2="278.5" y2="315.03" stroke="#e8343a" stroke-width="1"/>
<line x1="274.1" y1="311.48" x2="278.5" y2="311.48" stroke="#e8343a" stroke-width="1"/>
<line x1="271.5" y1="313.36" x2="281.1" y2="313.36" stroke="#111" stroke-width="1.1"/>
<circle cx="297.9" cy="291" r="1.6" fill="#a9a9a9" stroke="none" stroke-width="1"/>
<circle cx="300.94" cy="292.46" r="1.6" fill="#a9a9a9" stroke="none" stroke-width="1"/>
<circle cx="297.9" cy="294.13" r="1.6" fill="#a9a9a9" stroke="none" stroke-width="1"/>
<circle cx="300.94" cy="296.22" r="1.6" fill="#a9a9a9" stroke="none" stroke-width="1"/>
<circle cx="297.9" cy="299.36" r="1.6" fill="#a9a9a9" stroke="none" stroke-width="1"/>
<circle cx="300.94" cy="300.4" r="1.6" fill="#a9a9a9" stroke="none" stroke-width="1"/>
<line x1="297.9" y1="297.68" x2="297.9" y2="294.55" stroke="#a9a9a9" stroke-width="1"/>
<line x1="295.7" y1="297.68" x2="300.1" y2="297.68" stroke="#a9a9a9" stroke-width="1"/>
<line x1="295.7" y1="294.55" x2="300.1" y2="294.55" stroke="#a9a9a9" stroke-width="1"/>
<line x1="293.1" y1="296.22" x2="302.7" y2="296.22" stroke="#111" stroke-width="1.1"/>
<circle cx="312.3" cy="297.89" r="1.6" fill="#e8343a" stroke="none" stroke-width="1"/>
<circle cx="315.34" cy="299.36" r="1.6" fill="#e8343a" stroke="none" stroke-width="1"/>
<circle cx="312.3" cy="301.45" r="1.6" fill="#e8343a" stroke="none" stroke-width="1"/>
<circle cx="315.34" cy="303.54" r="1.6" fill="#e8343a" stroke="none" stroke-width="1"/>
<circle cx="312.3" cy="307.72" r="1.6" fill="#e8343a" stroke="none" stroke-width="1"/>
<circle cx="315.34" cy="309.81" r="1.6" fill="#e8343a" stroke="none" stroke-width="1"/>
<line x1="312.3" y1="304.58" x2="312.3" y2="301.03" stroke="#e8343a" stroke-width="1"/>
<line x1="310.1" y1="304.58" x2="314.5" y2="304.58" stroke="#e8343a" stroke-width="1"/>
<line x1="310.1" y1="301.03" x2="314.5" y2="301.03" stroke="#e8343a" stroke-width="1"/>
<line x1="307.5" y1="302.91" x2="317.1" y2="302.91" stroke="#111" stroke-width="1.1"/>
<polyline points="226.4,300.8 226.4,298.8 240,298.8 240,328.1" fill="none" stroke="#aaaaaa" stroke-width="1"/>
<text x="233.8" y="301.4" font-size="13" text-anchor="middle" font-weight="normal" fill="#222" stroke="#222" stroke-width="0.15">**</text>
<polyline points="240,279.7 240,272.3 276.3,272.3 276.3,305.8" fill="none" stroke="#222" stroke-width="1"/>
<text x="257.6" y="274.6" font-size="13" text-anchor="middle" font-weight="normal" fill="#222" stroke="#222" stroke-width="0.15">**</text>
<polyline points="240,272.3 240,262.3 312.3,262.3 312.3,297" fill="none" stroke="#222" stroke-width="1"/>
<text x="278" y="264.7" font-size="13" text-anchor="middle" font-weight="normal" fill="#222" stroke="#222" stroke-width="0.15">**</text>
<circle cx="321" cy="256.9" r="1.8" fill="#a9a9a9" stroke="none" stroke-width="1"/>
<circle cx="321" cy="271" r="1.8" fill="#e8343a" stroke="none" stroke-width="1"/>
<text x="326.3" y="260.2" font-size="9.6" fill="#111" stroke="#111">Veh</text>
<text x="326.3" y="274.3" font-size="9.6" fill="#111" stroke="#111">Dex</text>
<line x1="387.2" y1="259.4" x2="387.2" y2="364.1" stroke="#111" stroke-width="1.3"/>
<line x1="383.2" y1="363.6" x2="492.7" y2="363.6" stroke="#111" stroke-width="1.3"/>
<line x1="382.7" y1="363.6" x2="387.2" y2="363.6" stroke="#111" stroke-width="1.3"/>
<text x="379.4" y="366.8" font-size="9.6" text-anchor="end" fill="#111" stroke="#111">0.6</text>
<line x1="382.7" y1="337.55" x2="387.2" y2="337.55" stroke="#111" stroke-width="1.3"/>
<text x="379.4" y="340.75" font-size="9.6" text-anchor="end" fill="#111" stroke="#111">0.8</text>
<line x1="382.7" y1="311.5" x2="387.2" y2="311.5" stroke="#111" stroke-width="1.3"/>
<text x="379.4" y="314.7" font-size="9.6" text-anchor="end" fill="#111" stroke="#111">1.0</text>
<line x1="382.7" y1="285.45" x2="387.2" y2="285.45" stroke="#111" stroke-width="1.3"/>
<text x="379.4" y="288.65" font-size="9.6" text-anchor="end" fill="#111" stroke="#111">1.2</text>
<line x1="382.7" y1="259.4" x2="387.2" y2="259.4" stroke="#111" stroke-width="1.3"/>
<text x="379.4" y="262.6" font-size="9.6" text-anchor="end" fill="#111" stroke="#111">1.4</text>
<line x1="404.6" y1="363.6" x2="404.6" y2="367.8" stroke="#111" stroke-width="1.3"/>
<line x1="439.8" y1="363.6" x2="439.8" y2="367.8" stroke="#111" stroke-width="1.3"/>
<line x1="476" y1="363.6" x2="476" y2="367.8" stroke="#111" stroke-width="1.3"/>
<text x="361.2" y="318" font-size="9.5" text-anchor="middle" fill="#111" stroke="#111" transform="rotate(-90 361.2 318)">EDL weight / tibia length(mg/mm)</text>
<text x="405.6" y="375" font-size="9.5" text-anchor="end" fill="#111" stroke="#111" transform="rotate(-45 405.6 375)">Ctrl</text>
<text x="443.6" y="374.4" font-size="9.5" text-anchor="end" fill="#111" stroke="#111" transform="rotate(-45 443.6 374.4)">Irisin (0.5mg/kg)</text>
<text x="478.8" y="373.4" font-size="9.5" text-anchor="end" fill="#111" stroke="#111" transform="rotate(-45 478.8 373.4)">Irisin (1mg/kg)</text>
<circle cx="396.6" cy="289.36" r="1.6" fill="#a9a9a9" stroke="none" stroke-width="1"/>
<circle cx="396.6" cy="306.29" r="1.6" fill="#a9a9a9" stroke="none" stroke-width="1"/>
<circle cx="399.64" cy="307.59" r="1.6" fill="#a9a9a9" stroke="none" stroke-width="1"/>
<circle cx="393.56" cy="308.9" r="1.6" fill="#a9a9a9" stroke="none" stroke-width="1"/>
<circle cx="402.68" cy="308.9" r="1.6" fill="#a9a9a9" stroke="none" stroke-width="1"/>
<circle cx="396.6" cy="325.83" r="1.6" fill="#a9a9a9" stroke="none" stroke-width="1"/>
<line x1="396.6" y1="312.8" x2="396.6" y2="303.03" stroke="#a9a9a9" stroke-width="1"/>
<line x1="394.4" y1="312.8" x2="398.8" y2="312.8" stroke="#a9a9a9" stroke-width="1"/>
<line x1="394.4" y1="303.03" x2="398.8" y2="303.03" stroke="#a9a9a9" stroke-width="1"/>
<line x1="391.8" y1="307.59" x2="401.4" y2="307.59" stroke="#111" stroke-width="1.1"/>
<circle cx="410" cy="315.41" r="1.6" fill="#e8343a" stroke="none" stroke-width="1"/>
<circle cx="413.04" cy="316.71" r="1.6" fill="#e8343a" stroke="none" stroke-width="1"/>
<circle cx="410" cy="327.13" r="1.6" fill="#e8343a" stroke="none" stroke-width="1"/>
<circle cx="413.04" cy="329.74" r="1.6" fill="#e8343a" stroke="none" stroke-width="1"/>
<circle cx="410" cy="331.04" r="1.6" fill="#e8343a" stroke="none" stroke-width="1"/>
<circle cx="410" cy="340.16" r="1.6" fill="#e8343a" stroke="none" stroke-width="1"/>
<line x1="410" y1="331.69" x2="410" y2="323.87" stroke="#e8343a" stroke-width="1"/>
<line x1="407.8" y1="331.69" x2="412.2" y2="331.69" stroke="#e8343a" stroke-width="1"/>
<line x1="407.8" y1="323.87" x2="412.2" y2="323.87" stroke="#e8343a" stroke-width="1"/>
<line x1="405.2" y1="328.43" x2="414.8" y2="328.43" stroke="#111" stroke-width="1.1"/>
<circle cx="431.9" cy="267.22" r="1.6" fill="#a9a9a9" stroke="none" stroke-width="1"/>
<circle cx="434.94" cy="268.52" r="1.6" fill="#a9a9a9" stroke="none" stroke-width="1"/>
<circle cx="431.9" cy="271.12" r="1.6" fill="#a9a9a9" stroke="none" stroke-width="1"/>
<circle cx="434.94" cy="272.43" r="1.6" fill="#a9a9a9" stroke="none" stroke-width="1"/>
<circle cx="431.9" cy="276.33" r="1.6" fill="#a9a9a9" stroke="none" stroke-width="1"/>
<circle cx="434.94" cy="277.63" r="1.6" fill="#a9a9a9" stroke="none" stroke-width="1"/>
<line x1="431.9" y1="274.38" x2="431.9" y2="270.47" stroke="#a9a9a9" stroke-width="1"/>
<line x1="429.7" y1="274.38" x2="434.1" y2="274.38" stroke="#a9a9a9" stroke-width="1"/>
<line x1="429.7" y1="270.47" x2="434.1" y2="270.47" stroke="#a9a9a9" stroke-width="1"/>
<line x1="427.1" y1="272.43" x2="436.7" y2="272.43" stroke="#111" stroke-width="1.1"/>
<circle cx="446.3" cy="288.06" r="1.6" fill="#e8343a" stroke="none" stroke-width="1"/>
<circle cx="446.3" cy="295.87" r="1.6" fill="#e8343a" stroke="none" stroke-width="1"/>
<circle cx="446.3" cy="299.78" r="1.6" fill="#e8343a" stroke="none" stroke-width="1"/>
<circle cx="449.34" cy="301.08" r="1.6" fill="#e8343a" stroke="none" stroke-width="1"/>
<circle cx="446.3" cy="308.9" r="1.6" fill="#e8343a" stroke="none" stroke-width="1"/>
<circle cx="449.34" cy="311.5" r="1.6" fill="#e8343a" stroke="none" stroke-width="1"/>
<line x1="446.3" y1="304.99" x2="446.3" y2="297.17" stroke="#e8343a" stroke-width="1"/>
<line x1="444.1" y1="304.99" x2="448.5" y2="304.99" stroke="#e8343a" stroke-width="1"/>
<line x1="444.1" y1="297.17" x2="448.5" y2="297.17" stroke="#e8343a" stroke-width="1"/>
<line x1="441.5" y1="301.08" x2="451.1" y2="301.08" stroke="#111" stroke-width="1.1"/>
<circle cx="468.6" cy="275.03" r="1.6" fill="#a9a9a9" stroke="none" stroke-width="1"/>
<circle cx="468.6" cy="280.24" r="1.6" fill="#a9a9a9" stroke="none" stroke-width="1"/>
<circle cx="471.64" cy="282.85" r="1.6" fill="#a9a9a9" stroke="none" stroke-width="1"/>
<circle cx="468.6" cy="285.45" r="1.6" fill="#a9a9a9" stroke="none" stroke-width="1"/>
<circle cx="471.64" cy="288.06" r="1.6" fill="#a9a9a9" stroke="none" stroke-width="1"/>
<circle cx="468.6" cy="293.27" r="1.6" fill="#a9a9a9" stroke="none" stroke-width="1"/>
<line x1="468.6" y1="286.75" x2="468.6" y2="281.54" stroke="#a9a9a9" stroke-width="1"/>
<line x1="466.4" y1="286.75" x2="470.8" y2="286.75" stroke="#a9a9a9" stroke-width="1"/>
<line x1="466.4" y1="281.54" x2="470.8" y2="281.54" stroke="#a9a9a9" stroke-width="1"/>
<line x1="463.8" y1="284.15" x2="473.4" y2="284.15" stroke="#111" stroke-width="1.1"/>
<circle cx="482.8" cy="272.43" r="1.6" fill="#e8343a" stroke="none" stroke-width="1"/>
<circle cx="485.84" cy="275.03" r="1.6" fill="#e8343a" stroke="none" stroke-width="1"/>
<circle cx="482.8" cy="282.85" r="1.6" fill="#e8343a" stroke="none" stroke-width="1"/>
<circle cx="482.8" cy="286.75" r="1.6" fill="#e8343a" stroke="none" stroke-width="1"/>
<circle cx="482.8" cy="291.96" r="1.6" fill="#e8343a" stroke="none" stroke-width="1"/>
<circle cx="482.8" cy="298.48" r="1.6" fill="#e8343a" stroke="none" stroke-width="1"/>
<line x1="482.8" y1="289.36" x2="482.8" y2="280.89" stroke="#e8343a" stroke-width="1"/>
<line x1="480.6" y1="289.36" x2="485" y2="289.36" stroke="#e8343a" stroke-width="1"/>
<line x1="480.6" y1="280.89" x2="485" y2="280.89" stroke="#e8343a" stroke-width="1"/>
<line x1="478" y1="285.45" x2="487.6" y2="285.45" stroke="#111" stroke-width="1.1"/>
<polyline points="397,282 397,279.7 410,279.7 410,312" fill="none" stroke="#aaaaaa" stroke-width="1"/>
<text x="403.8" y="283.8" font-size="13" text-anchor="middle" font-weight="normal" fill="#222" stroke="#222" stroke-width="0.15">*</text>
<polyline points="410,273.5 410,262.3 446.3,262.3 446.3,284.7" fill="none" stroke="#222" stroke-width="1"/>
<text x="429.5" y="264.9" font-size="13" text-anchor="middle" font-weight="normal" fill="#222" stroke="#222" stroke-width="0.15">**</text>
<polyline points="410,262.3 410,248.7 482.8,248.7 482.8,271" fill="none" stroke="#222" stroke-width="1"/>
<text x="445" y="251.1" font-size="13" text-anchor="middle" font-weight="normal" fill="#222" stroke="#222" stroke-width="0.15">**</text>
<circle cx="494.5" cy="252.5" r="1.8" fill="#a9a9a9" stroke="none" stroke-width="1"/>
<circle cx="494.5" cy="267" r="1.8" fill="#e8343a" stroke="none" stroke-width="1"/>
<text x="499.8" y="255.8" font-size="9.6" fill="#111" stroke="#111">Veh</text>
<text x="499.8" y="270.3" font-size="9.6" fill="#111" stroke="#111">Dex</text>
<line x1="560.4" y1="258.6" x2="560.4" y2="362.6" stroke="#111" stroke-width="1.3"/>
<line x1="556.4" y1="362.1" x2="664.7" y2="362.1" stroke="#111" stroke-width="1.3"/>
<line x1="555.9" y1="362.1" x2="560.4" y2="362.1" stroke="#111" stroke-width="1.3"/>
<text x="552.6" y="365.3" font-size="9.6" text-anchor="end" fill="#111" stroke="#111">0.0</text>
<line x1="555.9" y1="341.4" x2="560.4" y2="341.4" stroke="#111" stroke-width="1.3"/>
<text x="552.6" y="344.6" font-size="9.6" text-anchor="end" fill="#111" stroke="#111">0.2</text>
<line x1="555.9" y1="320.7" x2="560.4" y2="320.7" stroke="#111" stroke-width="1.3"/>
<text x="552.6" y="323.9" font-size="9.6" text-anchor="end" fill="#111" stroke="#111">0.4</text>
<line x1="555.9" y1="300" x2="560.4" y2="300" stroke="#111" stroke-width="1.3"/>
<text x="552.6" y="303.2" font-size="9.6" text-anchor="end" fill="#111" stroke="#111">0.6</text>
<line x1="555.9" y1="279.3" x2="560.4" y2="279.3" stroke="#111" stroke-width="1.3"/>
<text x="552.6" y="282.5" font-size="9.6" text-anchor="end" fill="#111" stroke="#111">0.8</text>
<line x1="555.9" y1="258.6" x2="560.4" y2="258.6" stroke="#111" stroke-width="1.3"/>
<text x="552.6" y="261.8" font-size="9.6" text-anchor="end" fill="#111" stroke="#111">1.0</text>
<line x1="577" y1="362.1" x2="577" y2="366.3" stroke="#111" stroke-width="1.3"/>
<line x1="612.5" y1="362.1" x2="612.5" y2="366.3" stroke="#111" stroke-width="1.3"/>
<line x1="648.3" y1="362.1" x2="648.3" y2="366.3" stroke="#111" stroke-width="1.3"/>
<text x="536.3" y="314.9" font-size="9.8" text-anchor="middle" fill="#111" stroke="#111" transform="rotate(-90 536.3 314.9)">Sol weight / tibia length(mg/mm)</text>
<text x="579.8" y="373.9" font-size="9.5" text-anchor="end" fill="#111" stroke="#111" transform="rotate(-45 579.8 373.9)">Ctrl</text>
<text x="616.3" y="372.9" font-size="9.5" text-anchor="end" fill="#111" stroke="#111" transform="rotate(-45 616.3 372.9)">Irisin (0.5mg/kg)</text>
<text x="652.1" y="372.9" font-size="9.5" text-anchor="end" fill="#111" stroke="#111" transform="rotate(-45 652.1 372.9)">Irisin (1mg/kg)</text>
<circle cx="569.6" cy="305.18" r="1.6" fill="#a9a9a9" stroke="none" stroke-width="1"/>
<circle cx="572.64" cy="307.25" r="1.6" fill="#a9a9a9" stroke="none" stroke-width="1"/>
<circle cx="569.6" cy="315.53" r="1.6" fill="#a9a9a9" stroke="none" stroke-width="1"/>
<circle cx="572.64" cy="317.6" r="1.6" fill="#a9a9a9" stroke="none" stroke-width="1"/>
<circle cx="569.6" cy="319.67" r="1.6" fill="#a9a9a9" stroke="none" stroke-width="1"/>
<circle cx="572.64" cy="320.7" r="1.6" fill="#a9a9a9" stroke="none" stroke-width="1"/>
<line x1="569.6" y1="317.6" x2="569.6" y2="312.42" stroke="#a9a9a9" stroke-width="1"/>
<line x1="567.4" y1="317.6" x2="571.8" y2="317.6" stroke="#a9a9a9" stroke-width="1"/>
<line x1="567.4" y1="312.42" x2="571.8" y2="312.42" stroke="#a9a9a9" stroke-width="1"/>
<line x1="564.8" y1="315.01" x2="574.4" y2="315.01" stroke="#111" stroke-width="1.1"/>
<circle cx="582.8" cy="315.53" r="1.6" fill="#e8343a" stroke="none" stroke-width="1"/>
<circle cx="582.8" cy="321.74" r="1.6" fill="#e8343a" stroke="none" stroke-width="1"/>
<circle cx="585.84" cy="322.77" r="1.6" fill="#e8343a" stroke="none" stroke-width="1"/>
<circle cx="579.76" cy="323.81" r="1.6" fill="#e8343a" stroke="none" stroke-width="1"/>
<circle cx="582.8" cy="325.88" r="1.6" fill="#e8343a" stroke="none" stroke-width="1"/>
<circle cx="582.8" cy="333.12" r="1.6" fill="#e8343a" stroke="none" stroke-width="1"/>
<line x1="582.8" y1="326.39" x2="582.8" y2="321.22" stroke="#e8343a" stroke-width="1"/>
<line x1="580.6" y1="326.39" x2="585" y2="326.39" stroke="#e8343a" stroke-width="1"/>
<line x1="580.6" y1="321.22" x2="585" y2="321.22" stroke="#e8343a" stroke-width="1"/>
<line x1="578" y1="323.81" x2="587.6" y2="323.81" stroke="#111" stroke-width="1.1"/>
<circle cx="605" cy="312.42" r="1.6" fill="#a9a9a9" stroke="none" stroke-width="1"/>
<circle cx="605" cy="315.53" r="1.6" fill="#a9a9a9" stroke="none" stroke-width="1"/>
<circle cx="605" cy="320.7" r="1.6" fill="#a9a9a9" stroke="none" stroke-width="1"/>
<circle cx="608.04" cy="322.77" r="1.6" fill="#a9a9a9" stroke="none" stroke-width="1"/>
<circle cx="605" cy="324.84" r="1.6" fill="#a9a9a9" stroke="none" stroke-width="1"/>
<circle cx="605" cy="328.98" r="1.6" fill="#a9a9a9" stroke="none" stroke-width="1"/>
<line x1="605" y1="323.29" x2="605" y2="318.11" stroke="#a9a9a9" stroke-width="1"/>
<line x1="602.8" y1="323.29" x2="607.2" y2="323.29" stroke="#a9a9a9" stroke-width="1"/>
<line x1="602.8" y1="318.11" x2="607.2" y2="318.11" stroke="#a9a9a9" stroke-width="1"/>
<line x1="600.2" y1="320.7" x2="609.8" y2="320.7" stroke="#111" stroke-width="1.1"/>
<circle cx="618.7" cy="317.6" r="1.6" fill="#e8343a" stroke="none" stroke-width="1"/>
<circle cx="618.7" cy="324.84" r="1.6" fill="#e8343a" stroke="none" stroke-width="1"/>
<circle cx="621.74" cy="325.88" r="1.6" fill="#e8343a" stroke="none" stroke-width="1"/>
<circle cx="615.66" cy="325.88" r="1.6" fill="#e8343a" stroke="none" stroke-width="1"/>
<circle cx="624.78" cy="326.91" r="1.6" fill="#e8343a" stroke="none" stroke-width="1"/>
<circle cx="612.62" cy="326.91" r="1.6" fill="#e8343a" stroke="none" stroke-width="1"/>
<line x1="618.7" y1="326.39" x2="618.7" y2="323.29" stroke="#e8343a" stroke-width="1"/>
<line x1="616.5" y1="326.39" x2="620.9" y2="326.39" stroke="#e8343a" stroke-width="1"/>
<line x1="616.5" y1="323.29" x2="620.9" y2="323.29" stroke="#e8343a" stroke-width="1"/>
<line x1="613.9" y1="324.84" x2="623.5" y2="324.84" stroke="#111" stroke-width="1.1"/>
<circle cx="641" cy="317.6" r="1.6" fill="#a9a9a9" stroke="none" stroke-width="1"/>
<circle cx="641" cy="323.81" r="1.6" fill="#a9a9a9" stroke="none" stroke-width="1"/>
<circle cx="644.04" cy="324.84" r="1.6" fill="#a9a9a9" stroke="none" stroke-width="1"/>
<circle cx="637.96" cy="325.88" r="1.6" fill="#a9a9a9" stroke="none" stroke-width="1"/>
<circle cx="641" cy="326.91" r="1.6" fill="#a9a9a9" stroke="none" stroke-width="1"/>
<circle cx="641" cy="331.05" r="1.6" fill="#a9a9a9" stroke="none" stroke-width="1"/>
<line x1="641" y1="326.39" x2="641" y2="323.29" stroke="#a9a9a9" stroke-width="1"/>
<line x1="638.8" y1="326.39" x2="643.2" y2="326.39" stroke="#a9a9a9" stroke-width="1"/>
<line x1="638.8" y1="323.29" x2="643.2" y2="323.29" stroke="#a9a9a9" stroke-width="1"/>
<line x1="636.2" y1="324.84" x2="645.8" y2="324.84" stroke="#111" stroke-width="1.1"/>
<circle cx="654.7" cy="320.7" r="1.6" fill="#e8343a" stroke="none" stroke-width="1"/>
<circle cx="657.74" cy="321.74" r="1.6" fill="#e8343a" stroke="none" stroke-width="1"/>
<circle cx="654.7" cy="323.81" r="1.6" fill="#e8343a" stroke="none" stroke-width="1"/>
<circle cx="657.74" cy="325.88" r="1.6" fill="#e8343a" stroke="none" stroke-width="1"/>
<circle cx="651.66" cy="325.88" r="1.6" fill="#e8343a" stroke="none" stroke-width="1"/>
<circle cx="654.7" cy="327.95" r="1.6" fill="#e8343a" stroke="none" stroke-width="1"/>
<line x1="654.7" y1="325.88" x2="654.7" y2="323.29" stroke="#e8343a" stroke-width="1"/>
<line x1="652.5" y1="325.88" x2="656.9" y2="325.88" stroke="#e8343a" stroke-width="1"/>
<line x1="652.5" y1="323.29" x2="656.9" y2="323.29" stroke="#e8343a" stroke-width="1"/>
<line x1="649.9" y1="324.84" x2="659.5" y2="324.84" stroke="#111" stroke-width="1.1"/>
<circle cx="648.3" cy="254.9" r="1.8" fill="#a9a9a9" stroke="none" stroke-width="1"/>
<circle cx="648.3" cy="269.3" r="1.8" fill="#e8343a" stroke="none" stroke-width="1"/>
<text x="653.6" y="258.2" font-size="9.6" fill="#111" stroke="#111">Veh</text>
<text x="653.6" y="272.6" font-size="9.6" fill="#111" stroke="#111">Dex</text>
<text x="4.8" y="450.4" font-size="17.5" fill="#111" stroke="#111">D</text>
<text x="74.8" y="449.4" font-size="10.1" text-anchor="middle" fill="#111" stroke="#111">Ctrl</text>
<text x="177.2" y="449.5" font-size="10.1" text-anchor="middle" fill="#111" stroke="#111">Irisin (0.5mg/kg)</text>
<text x="273.1" y="449.5" font-size="10.1" text-anchor="middle" fill="#111" stroke="#111">Irisin (1mg/kg)</text>
<text x="10.5" y="488.5" font-size="9.6" text-anchor="middle" fill="#111" stroke="#111">Veh</text>
<text x="10.3" y="546.2" font-size="9.6" text-anchor="middle" fill="#111" stroke="#111">Dex</text>
<clipPath id="clip00"><rect x="23.1" y="452.2" width="95.9" height="63.4"/></clipPath>
<g clip-path="url(#clip00)">
<rect x="23.1" y="452.2" width="95.9" height="63.4" fill="#000" stroke="none" stroke-width="1"/>
<path d="M75.28,490.77L75.4,494.11M75.28,490.77L70.09,488.56M38.48,471.81L35.02,468.69M44.99,469.07L41.43,463.04M39.63,477.24L48.57,473.79M49.1,470.25L44.99,469.07M33.57,459.21L27.47,462.13M30.55,469.26L30.34,469.17M38.98,486.48L46.24,485.02M37.63,488.97L42.21,492.84M46.24,485.02L42.21,492.84M74.5,503.3L78.39,499.87M74,507.64L78.61,512.02M74,507.64L74.5,503.3M78.39,499.87L82.7,505.78M75.28,490.77L78.45,488.33M82.02,489.85L83.71,497.52M96.48,489.36L96.77,483.07M88.1,483.73L96.77,483.07M104.25,482.2L97.45,481.58M103.76,487.52L99.12,490.8M96.77,483.07L97.45,481.58M85.18,469.62L93.49,470.53M97.45,481.58L95.32,476.34M94.78,475.77L95.32,476.34M87.62,482.76L90.12,478.13M33.57,459.21L35,456.85M19.6,480.5L25.55,483.05M35.23,456.61L40.1,458.46M70.54,463.37L62.75,460.6M70.54,463.37L67.61,470.38M62.75,460.6L60.61,462.34M62.05,471.48L60.12,469.53M43.91,455.26L46.28,456.46M49.1,470.25L50.55,469.07M63.12,483.2L69.31,485.84M63.13,489.09L69.38,487.77M69.31,485.84L69.38,487.77M60.6,478.91L61.11,478.36M49.74,477.29L47.42,484.08M50.11,493.61L51.41,493.76M62.05,471.48L61.11,478.36M46.28,497.2L43.91,496.58M38.98,486.48L37.37,482.98M37.63,488.97L34.22,490.74M25.55,483.05L22.65,489.06M22.65,489.06L25.45,494.71M22.49,509.72L20.77,504.35M89.92,493.97L83.79,497.53M83.79,497.53L87.44,502.17M85.27,511.51L91.54,507.49M94.15,509.27L101.27,509.23M89.92,493.97L93.62,499.71M102.64,501.04L102.03,498.01M118.56,483.77L117.65,482.46M120.94,474.45L117.5,477.25M120.94,474.45L124.76,476.9M76.55,456.66L83.22,462.14M77.48,454.16L84.47,453.78M83.22,462.14L84,462.55M84,462.55L86.06,455.91M84.47,453.78L86.06,455.91M76.66,451.03L77.48,454.16M25.39,450.98L25.94,442.67M32.96,450.37L31.38,442.38M25.39,450.98L25.2,451.15M46.28,456.46L50.77,455.33M59.92,452.82L64.17,448.66M73.01,458.8L68.66,454.06M69.57,484.71L77.2,481.29M68.68,471.33L71.86,476.34M77.36,469.32L76.35,476.65M82.57,475.7L76.35,476.65M61.22,490.3L61.54,495.26M48.38,504.4L55.09,503.08M87.12,516.34L93.59,518.04M101.27,509.23L102.4,510.58M102.34,513.83L102.4,510.58M102.34,513.83L97.28,518.96M25.45,494.71L25.31,495.38M20.77,504.35L24.91,500.75M24.91,500.75L24.66,496.21M24.66,496.21L25.31,495.38M122.63,450.38L118.94,449.34M125,455.47L116.65,454.25M123.82,461.94L118.48,459.25M118.48,459.25L116.42,454.71M116.42,454.71L116.65,454.25M18.45,463.35L23.26,460.52M22.82,471.71L18.45,463.35M24.2,460.18L23.26,460.52M34.71,451.09L38.95,448.6M55.09,503.08L57.99,504.07M61.71,495.47L60.83,501.59M60.83,501.59L57.99,504.07M68.97,500.91L66.09,503.39M120.94,474.45L121.52,470.67M119.87,468.1L123.82,461.94M111.71,510.06L109.35,509.03M115.88,508.58L115.99,507.44M102.34,513.83L109.2,519.56M110.82,518.64L111.71,510.06M103.13,497.59L112.55,497.34M125.54,491.16L118.32,485.51M115.36,495.53L114.39,491.52M114.39,491.52L118.32,485.51M107.19,451.22L100.44,447.18M100.59,462.48L105.87,455.63M94.73,457.41L98.58,453.28M102.23,469.41L104.16,470.68M104.16,470.68L105.72,476.32M109.88,459.31L107.95,463.58M114.73,463.34L115.13,467.58M50.77,455.33L50.57,450.34M50.57,450.34L48.46,447.82M74,507.64L71.01,508.97M71.33,517.98L71.01,508.97M53.6,512.35L59.91,511.03M59.91,511.03L62.3,512.57M57.99,504.07L59.91,511.03M24.36,515.76L28.15,521.56M24.36,515.76L25.34,510.98M25.34,510.98L28.51,509.99M53.6,512.35L49.8,510.53M49.8,510.53L47.81,512.61M48.37,504.42L42.69,506.28M31.36,517.36L37.2,519.1M37.2,519.1L39.56,516.55M28.15,521.56L31.36,517.36" fill="none" stroke="#27dc27" stroke-width="0.5" stroke-linecap="round" opacity="0.75"/>
<path d="M68.22,497.53L75.4,494.11M68.22,497.53L66.64,496.17M66.64,496.17L70.09,488.56M38.48,471.81L44.99,469.07M36.55,465.87L35.02,468.69M36.55,465.87L41.26,462.96M41.26,462.96L41.43,463.04M39.63,477.24L39.25,477.15M39.25,477.15L38.48,471.81M33.57,459.21L36.55,465.87M30.55,469.26L35.02,468.69M30.34,469.17L27.47,462.13M38.98,486.48L37.63,488.97M37.4,478.66L31.32,478.25M37.37,482.98L29.71,485.1M31.32,478.25L27.72,481.29M29.71,485.1L27.05,482.58M30.55,469.26L31.32,478.25M39.25,477.15L37.4,478.66M23.75,471.8L30.34,469.17M74.5,503.3L68.97,500.91M68.97,500.91L68.22,497.53M75.4,494.11L78.49,499.57M83.36,510.8L78.61,512.02M83.36,510.8L82.7,505.78M78.45,488.33L82.02,489.85M78.49,499.57L83.71,497.52M88.85,488.7L88.1,483.73M88.85,488.7L90.64,490.61M90.64,490.61L96.48,489.36M96.48,489.36L99.12,490.8M104.25,482.2L103.76,487.52M85.18,469.62L84.53,473.87M94.88,472.39L93.49,470.53M94.78,475.77L90.12,478.13M84.53,473.87L90.12,478.13M88.1,483.73L87.62,482.76M85.18,469.62L83.33,466.95M93.49,470.53L94.04,462.52M94.04,462.52L84.16,462.94M83.33,466.95L84.16,462.94M85.13,447.98L76.66,451.03M75.51,449.43L76.66,451.03M35,456.85L25.21,455.39M27.47,462.13L24.2,460.18M24.2,460.18L25.21,455.39M23.75,471.8L22.82,471.71M25.55,483.05L27.05,482.58M19.56,474.34L22.82,471.71M35,456.85L35.23,456.61M60.12,469.53L60.61,462.34M41.43,463.04L46.94,461.51M43.91,455.26L40.1,458.46M46.28,456.46L46.94,461.51M60.12,469.53L53.91,469.77M60.61,462.34L53.95,460.38M50.55,469.07L53.91,469.77M50.55,469.07L50.82,463.85M53.95,460.38L50.82,463.85M46.94,461.51L50.82,463.85M61.11,478.36L68.42,479.7M69.57,484.71L68.42,479.7M56.53,484.59L48.33,485.14M56.53,484.59L59.21,479.6M55.92,478.03L49.74,477.29M48.33,485.14L47.47,484.43M47.42,484.08L47.47,484.43M50.11,493.61L48.33,485.14M51.41,493.76L58.33,488.37M58.33,488.37L56.53,484.59M60.6,478.91L59.21,479.6M63.13,489.09L61.22,490.3M58.33,488.37L61.22,490.3M53.91,469.77L55.92,478.03M48.57,473.79L49.74,477.29M39.63,477.24L47.42,484.08M46.24,485.02L47.47,484.43M50.11,493.61L46.28,497.2M37.57,498.82L43.91,496.58M37.57,498.82L35.67,497.63M35.67,497.63L34.22,490.74M29.71,485.1L32.43,490.08M25.45,494.71L32.43,490.08M34.22,490.74L32.43,490.08M15.99,512.04L22.49,509.72M88.85,488.7L82.02,489.85M90.64,490.61L89.92,493.97M83.71,497.52L83.79,497.53M82.7,505.78L87.44,502.17M83.36,510.8L85.27,511.51M91.54,507.49L91.54,503.71M91.54,503.71L92.04,503.04M99.12,490.8L101.48,497.66M101.48,497.66L93.62,499.71M93.62,499.71L92.04,503.04M101.46,505.27L102.64,501.04M101.48,497.66L102.03,498.01M108.41,489.86L103.76,487.52M108.41,489.86L103.13,497.59M103.13,497.59L102.03,498.01M118.56,483.77L124.47,482.31M117.65,482.46L117.5,477.25M104.25,482.2L106.97,479.79M108.41,489.86L110.6,489.68M110.6,489.68L109.39,481.65M76.55,456.66L77.48,454.16M71.51,462.92L72.21,463.37M73.01,458.8L76.55,456.66M85.13,447.98L84.47,453.78M77.63,468.71L72.21,463.37M77.63,468.71L83.33,466.95M84.16,462.94L84,462.55M25.39,450.98L32.96,450.37M25.21,455.39L25.2,451.15M35.23,456.61L34.71,451.09M32.96,450.37L34.71,451.09M53.95,460.38L53.47,457.4M50.77,455.33L53.47,457.4M62.84,458.97L59.92,452.82M62.84,458.97L68.66,454.06M68.66,454.06L68.07,449.22M53.47,457.4L58.49,452.78M58.49,452.78L59.92,452.82M70.54,463.37L71.51,462.92M84.53,473.87L82.57,475.7M87.62,482.76L84.81,482.15M82.57,475.7L84.81,482.15M78.45,488.33L79.11,483.91M70.09,488.56L69.38,487.77M77.2,481.29L79.11,483.91M79.11,483.91L84.81,482.15M68.68,471.33L77.36,469.32M76.35,476.65L76.22,476.79M67.61,470.38L68.68,471.33M68.42,479.7L71.86,476.34M77.63,468.71L77.36,469.32M77.2,481.29L76.22,476.79M51.41,493.76L54.89,496.01M46.28,497.2L48.38,504.4M54.89,496.01L55.09,503.08M61.71,495.47L61.54,495.26M85.27,511.51L87.12,516.34M94.15,509.27L94.11,517.92M78.61,512.02L76.13,517.62M35.67,497.63L32.56,498.63M32.56,498.63L25.31,495.38M18.78,496.71L24.66,496.21M116.17,519.27L120,517.57M120,517.57L122.25,518.99M94.04,462.52L95.31,461.09M95.31,461.09L94.73,457.41M86.06,455.91L91.39,455.1M91.39,455.1L94.73,457.41M91.39,455.1L91.09,447.36M118.94,449.34L116.95,452.25M116.95,452.25L116.65,454.25M109.49,447.74L116.95,452.25M94.88,472.39L102.23,469.41M95.31,461.09L100.59,462.48M100.59,462.48L101.88,464.22M102.23,469.41L101.88,464.22M25.2,451.15L18.58,449.91M23.26,460.52L18.15,454.61M43.91,455.26L43.17,450.55M43.17,450.55L38.95,448.6M60.83,501.59L66.09,503.39M32.56,498.63L29.6,503.8M24.91,500.75L29.1,504.15M120,517.57L119.94,511.46M119.94,511.46L122.67,510.07M111.71,510.06L115.88,508.58M115.99,507.44L111.11,501.99M109.35,509.03L108.62,504.05M108.62,504.05L111.11,501.99M102.4,510.58L109.35,509.03M119.94,511.46L115.88,508.58M118.37,501.94L124.5,506.56M102.64,501.04L108.62,504.05M112.55,497.34L111.11,501.99M122.2,496.99L118.65,497.48M118.65,497.48L115.36,495.53M118.37,501.94L118.65,497.48M112.55,497.34L115.36,495.53M118.56,483.77L118.32,485.51M117.65,482.46L109.39,481.65M107.19,451.22L106.89,455.32M105.87,455.63L106.89,455.32M105.87,455.63L98.58,453.28M98.58,453.28L98.27,448.89M109.49,447.74L107.19,451.22M116.42,454.71L109.53,457.06M109.53,457.06L106.89,455.32M106.97,479.79L107.01,477.87M105.72,476.32L107.01,477.87M117.5,477.25L112.85,474.13M107.01,477.87L112.85,474.13M109.88,459.31L114.73,463.34M107.95,463.58L110.07,467.96M110.07,467.96L113.17,468.92M109.53,457.06L109.88,459.31M101.88,464.22L107.95,463.58M104.16,470.68L110.07,467.96M119.87,468.1L115.13,467.58M112.85,474.13L113.17,468.92M58.49,452.78L55.95,450.23M50.57,450.34L55.95,450.23M43.17,450.55L48.46,447.82M55.95,450.23L56.27,444.51M66.09,503.39L66.4,509.08M71.01,508.97L66.4,509.08M53.6,512.35L53.03,519.06M53.03,519.06L61.8,514.9M71.33,517.98L62.36,512.8M18.18,519.15L24.36,515.76M29.1,504.15L28.51,509.99M37.57,498.82L37.65,502.2M29.6,503.8L36.03,504.22M37.65,502.2L36.03,504.22M47.29,518.69L47.81,512.61M48.38,504.4L48.37,504.42M37.65,502.2L42.69,506.28M31.3,511.25L31.36,517.36M31.3,511.25L35.22,510.8M35.22,510.8L39,512.4M39.56,516.55L39.21,512.74M39.21,512.74L39,512.4M28.51,509.99L31.3,511.25M36.03,504.22L35.22,510.8M42.69,506.28L39,512.4M45.17,520.27L39.56,516.55M47.81,512.61L39.21,512.74" fill="none" stroke="#27dc27" stroke-width="0.66" stroke-linecap="round" opacity="0.95"/>
<path d="M49.1,470.25L48.57,473.79M37.4,478.66L37.37,482.98M27.72,481.29L27.05,482.58M23.75,471.8L27.72,481.29M78.39,499.87L78.49,499.57M94.88,472.39L94.78,475.77M41.26,462.96L40.1,458.46M62.05,471.48L67.61,470.38M63.12,483.2L63.13,489.09M60.6,478.91L63.12,483.2M69.57,484.71L69.31,485.84M59.21,479.6L55.92,478.03M42.21,492.84L43.91,496.58M22.65,489.06L17.42,489.48M87.44,502.17L91.54,503.71M91.54,507.49L94.15,509.27M101.27,509.23L101.46,505.27M101.46,505.27L92.04,503.04M106.97,479.79L109.39,481.65M71.51,462.92L73.01,458.8M72.21,463.37L83.22,462.14M62.75,460.6L62.84,458.97M71.86,476.34L76.22,476.79M54.89,496.01L61.54,495.26M66.64,496.17L61.71,495.47M87.12,516.34L83.18,523.23M121.52,470.67L119.87,468.1M29.6,503.8L29.1,504.15M118.37,501.94L115.99,507.44M110.6,489.68L114.39,491.52M95.32,476.34L105.72,476.32M115.13,467.58L113.17,468.92M118.48,459.25L114.73,463.34M61.8,514.9L62.36,512.8M62.36,512.8L62.3,512.57M61.41,522.96L61.8,514.9M66.4,509.08L62.3,512.57M22.49,509.72L25.34,510.98M49.8,510.53L48.37,504.42" fill="none" stroke="#27dc27" stroke-width="1.05" stroke-linecap="round" opacity="1"/>
<path d="M60.83,501.59h0.01M37.63,488.97h0.01M101.27,509.23h0.01M102.64,501.04h0.01M115.13,467.58h0.01M24.91,500.75h0.01M82.7,505.78h0.01M36.55,465.87h0.01M105.87,455.63h0.01M46.94,461.51h0.01M91.54,503.71h0.01M94.78,475.77h0.01M31.32,478.25h0.01M68.22,497.53h0.01M105.72,476.32h0.01M97.45,481.58h0.01M54.89,496.01h0.01M70.09,488.56h0.01M57.99,504.07h0.01M83.22,462.14h0.01M103.13,497.59h0.01M25.45,494.71h0.01M42.69,506.28h0.01M83.36,510.8h0.01M107.95,463.58h0.01M76.35,476.65h0.01M78.49,499.57h0.01M62.36,512.8h0.01M61.11,478.36h0.01M50.77,455.33h0.01M60.12,469.53h0.01M77.48,454.16h0.01M43.91,496.58h0.01M23.26,460.52h0.01M115.88,508.58h0.01M46.24,485.02h0.01M69.38,487.77h0.01M35.23,456.61h0.01M102.03,498.01h0.01M24.2,460.18h0.01M118.48,459.25h0.01M74,507.64h0.01M59.21,479.6h0.01M62.75,460.6h0.01M59.91,511.03h0.01M101.46,505.27h0.01M49.74,477.29h0.01M103.76,487.52h0.01M47.47,484.43h0.01M76.22,476.79h0.01M95.31,461.09h0.01M53.95,460.38h0.01M104.16,470.68h0.01M101.48,497.66h0.01M71.86,476.34h0.01M110.6,489.68h0.01M66.09,503.39h0.01M72.21,463.37h0.01M39.21,512.74h0.01M113.17,468.92h0.01M87.44,502.17h0.01M59.92,452.82h0.01M32.43,490.08h0.01M114.39,491.52h0.01M117.65,482.46h0.01M66.64,496.17h0.01M62.05,471.48h0.01" fill="none" stroke="#3a62e0" stroke-width="1" stroke-linecap="round" opacity="0.8"/>
<rect x="103.1" y="512" width="12.9" height="0.9" fill="#ffffff" stroke="none" stroke-width="1"/>
<rect x="106.2" y="509" width="7.6" height="2.4" fill="#9a9a9a" stroke="none" stroke-width="1"/>
</g>
<clipPath id="clip01"><rect x="23.1" y="517.2" width="95.9" height="63.5"/></clipPath>
<g clip-path="url(#clip01)">
<rect x="23.1" y="517.2" width="95.9" height="63.5" fill="#000" stroke="none" stroke-width="1"/>
<path d="M85.45,528.45L84.52,528.34M82.56,523.22L83.81,522.65M82.56,523.22L81.97,524.61M121.82,559.58L119.89,558.76M28.46,558.77L28.52,561.72M29.49,557.91L30.91,557.74M30.66,562.41L28.52,561.72M32.08,558.73L30.91,557.74M29.49,557.91L27.78,555.28M19.47,569.64L21.25,568.6M19.61,564.58L21.69,566.93M27.49,534.64L30.24,533.37M31.32,536.91L31.65,534.22M31.32,536.91L31.2,537.01M37.69,537.56L35.93,537.27M34.2,539.89L34.67,537.99M76.35,557.09L76.73,556.03M76.73,556.03L75.88,554.01M83.35,528.98L82.48,528.94M80.45,527.3L77.85,528.78M114.33,556.13L116.82,556.95M113.45,552.64L114.09,550.85M117.34,551.01L118.46,553.46M118.46,553.46L118.24,554.5M113.53,553.23L111.41,554.96M114.33,556.13L113.18,558.31M111.41,554.96L113.18,558.31M113.1,558.7L113.18,558.31M120.08,571.66L117.01,569.42M114.27,568.53L114.27,566.12M113.41,564.2L109.99,565.99M113.41,564.2L113.42,564.2M114.27,566.12L113.42,564.2M116.9,569.44L114.28,568.55M114.27,568.53L114.28,568.55M114.27,566.12L117.74,565.36M108.6,562.49L109.86,565.95M106.24,565.48L107.88,566.81M104.77,561.59L103.08,563.2M103.08,563.2L103.14,564.06M104.49,565.87L106.24,565.48M120.93,564.7L121.27,563.6M121.68,567.19L120.93,564.7M117.34,551.01L119.05,548.74M120.83,550.74L120.68,552.23M119.06,548.74L119.05,548.74M113.89,550.29L116.09,547.17M27.86,548.58L28.07,545.71M31.6,547.5L30.84,550.28M24.98,549.19L24.37,546.88M22.71,562.99L26.21,562.79M25.84,558.52L24.69,559.26M24.83,567.34L24.61,566.31M27.72,552.28L29.33,552.58M27.72,552.28L24.95,554.18M24.86,550.23L27.72,552.28M31.75,554.59L33.28,554.64M30.89,550.42L32.58,550.56M34.84,553.4L37.11,553.04M35.22,559.25L37.11,558.43M36.39,555.94L37.49,557.06M83.35,565.73L83.3,561.91M87.59,562.77L85.33,561.34M83.3,561.91L85.33,561.34M25.05,542.84L23.75,543.67M25.05,542.84L25.27,541.25M21.93,543.18L21.51,540.58M26.32,538.47L23.59,537.34M66.2,551.99L64.96,552.79M47.94,550.95L49.25,554.29M46.44,554.82L49.08,555.59M29.63,529.54L30.99,528.39M31.62,528.45L30.99,528.39M30.93,539.21L32.81,541.49M30.85,542.98L28.92,541.95M30.85,542.98L32.66,542.66M32.66,542.66L32.81,541.49M31.2,537.01L30.93,539.21M31.32,536.91L34.67,537.99M34.08,544.13L32.66,542.66M37.65,544.3L39.22,541.73M41.67,547.04L41.63,547.04M35.41,544L37.65,544.3M36.39,549.22L38.11,545.28M39.5,540.9L39.22,541.73M42.78,554.13L43.13,554.18M45.36,553.59L44.22,550.75M42.51,550.05L44.22,550.75M28.31,515.28L28.26,518.84M24.53,516.17L24.65,519.19M24.65,519.19L26.71,519.46M26.71,519.46L28.26,518.84M82.51,518.69L83.74,519.44M86.91,518.97L86.94,515.72M86.94,515.72L85.06,515.69M78.91,516.68L78.38,519.25M80.17,520.61L82.51,518.69M86.56,523.44L86.86,523.14M87.77,514.61L86.94,515.72M48.02,531.14L50.68,529.52M46.22,528.74L47.69,526.23M50.68,529.52L50.67,528.19M48.46,526.21L47.69,526.23M49.97,524.14L48.46,526.21M71.39,544.02L72.15,544.8M72.15,544.8L75.38,543.54M67.1,550.01L68.22,549.31M68.83,554.16L66.2,551.99M67.98,546.23L68.51,548.02M72.15,544.8L72.7,546.87M72.29,553.44L74.92,550.55M76.44,545.8L74.68,547.65M75.38,543.54L76.36,545.01M76.44,545.8L79.58,546.95M79.58,546.95L80.03,546.65M76.36,545.01L78.93,543.05M76.39,552L79.48,552.15M79.21,548.66L80.14,550.41M72.29,553.44L72.61,554.01M74.92,550.55L75.5,550.32M74.68,547.65L75.54,550.08M84.08,549.7L83.8,550.08M84.08,549.7L83.17,547.38M63.92,535.1L66.81,533.02M95.14,574.13L96.72,573.76M95.14,574.13L94.69,577.28M91.31,576.48L91.23,574.95M94.13,539.75L97.5,540.68M93.92,539.36L93.99,538.94M98.32,538.51L98.38,540.1M92.62,536.06L93.99,538.94M90.48,537.65L90.3,537.97M100.44,535.98L98.32,538.51M100.44,535.98L98.55,533.41M95.81,534.86L96.27,537.13M99.2,544.89L96.76,542.73M100.31,541.03L101.2,543.82M100.31,541.03L98.38,540.1M96.76,542.73L94.57,543.93M94.57,543.93L93.39,542.92M89.93,541.05L90.41,542.96M89.93,541.05L90.72,539.58M74.63,516.49L74.89,518.58M76.82,525.09L79.64,525.07M79.23,522.22L76.57,522.48M76.6,525.51L76.96,528.51M77.85,528.78L76.96,528.51M74.35,522.85L76.17,522.96M66.9,523.54L70.13,524.99M70.13,524.99L70.05,526.7M71.19,520.26L73.6,519.91M71.19,523.61L73.03,523.69M76.6,525.51L74.1,525.95M77.2,531.9L78.8,530.99M74.1,525.95L73.07,528.27M70.32,531.66L70.45,531.62M74.01,534.27L73.82,534.13M74.01,534.27L77,534.44M83.35,528.98L84,532.9M100.44,535.98L101.11,536.11M100.31,541.03L102.58,539.35M92.62,536.06L92.97,534.59M89.33,535.01L90.48,537.65M89.33,535.01L92.6,534.25M89.33,535.01L88.15,534.73M107.76,523.87L107.86,521.37M105.91,520.45L104,523.06M103.92,523.72L104,523.06M102.49,518.71L101.66,520.71M104.4,516.03L103.91,518.42M101.39,515.35L100.38,516.97M102.72,539L105.56,538.16M102.58,539.35L104.21,541.77M105.86,538.35L105.66,541.48M110.12,557.81L112.44,559.02M112.44,559.02L111.28,561.67M109.87,555.29L110.12,557.81M113.1,558.7L112.44,559.02M113.41,564.2L111.28,561.67M117.35,574.42L117.55,574.41M120.82,571.67L121.5,575.39M121.7,579.62L120.63,581.51M120.63,581.51L121.79,583.27M120.63,581.51L118.67,581.58M114.38,573.64L113.02,575.99M103.08,563.2L100,561.55M98.44,563.04L98.48,564.88M104.49,565.87L103.53,568.66M75.51,561.06L72.06,559.91M68.83,554.16L68.81,555.5M64.96,552.79L65.07,555.03M65.07,555.03L66.53,555.74M40.78,557.31L39.71,556.68M40.8,557.36L38.95,560.06M37.39,552.79L36.26,549.66M42.51,550.05L42.5,547.35M20.8,573.78L22.3,574.91M22.9,577.34L22.3,574.91M81.86,561.25L81.02,559.5M81.02,559.5L85.52,558.89M23.59,537.34L23.73,535.19M30.24,533.37L29.56,531.37M26.25,526.87L29.63,529.54M22.45,530.79L22.88,531.2M23.73,535.19L22.49,533.36M25.71,531.04L22.88,531.2M21.7,528.84L22.08,528.29M57.12,548.8L56.18,546.72M56.18,546.72L56.16,545.38M59.45,544.4L60.29,545.8M59.2,549.84L57.6,549.09M39.5,540.9L40.24,540.76M37.69,537.56L38.76,536.29M40.24,540.76L42.95,537.81M43.58,542.37L43.54,542.26M43.05,547.1L44.89,544.16M44.22,550.75L47.43,549.81M44.89,544.16L47.41,543.94M47.41,543.94L47.84,544.67M20.31,524.53L21.1,524.45M21.1,524.45L22.5,521.54M23.59,521.15L22.5,521.54M45.81,521.53L44.85,519.21M41.63,518.47L42.45,517.88M44.85,519.21L46.42,517.95M43.06,516.16L46.83,516.03M43.06,516.16L42.58,516.76M29.42,514.81L32.47,516.14M33.11,513.57L32.94,515.81M32.47,516.14L32.94,515.81M30.99,528.39L30.06,526.25M33.51,524.8L31.5,523.89M116.16,520.86L115.82,520.92M119.42,523.18L119.14,524.37M73.76,515.96L73.21,513.13M71.53,535.77L70.24,537.29M67.93,533.81L67.92,536.67M67.92,536.67L70.24,537.29M65.35,540.14L66.21,539.45M74.69,537.21L74.01,534.27M74.69,537.21L73.78,539.67M73.78,539.67L70.52,537.76M54.57,530.41L54.68,528.25M50.67,528.19L51.79,527.22M54.68,528.25L51.79,527.22M52.77,530.99L52.32,533.21M54.57,530.41L54.99,530.59M53.14,534.83L56.39,533.69M46.42,517.95L49.42,518.89M46.83,516.03L47.51,515.23M49.42,518.89L50.05,516.35M53.26,516.22L51.59,515.55M50.05,516.35L51.59,515.55M64.8,546.15L63.59,545.13M67.68,545.95L67.24,543.73M63.59,545.13L63.64,543.56M63.64,543.56L64.89,542.76M64.49,548.56L64.8,546.15M61.68,546.52L63.59,545.13M61.6,542.43L60.56,542.3M61.6,542.43L63.64,543.56M60.56,542.3L59.48,540.43M31.84,562.16L32.71,562.79M35.95,562.2L32.71,562.79M38.95,560.06L38.92,561.67M38.92,561.67L36.22,562.34M35.95,562.2L36.22,562.34M40.02,562.36L40.42,565.6M94.5,558.6L97.29,558.42M96.51,555.48L95.45,555.47M96,562.02L97.29,558.42M92.18,556.07L92.92,558.09M98.5,552.66L98.47,552.53M98.47,552.53L95.68,551.88M100.25,556.76L99.95,554.05M98.44,563.04L96,562.02M100,561.55L100.06,560.85M99.94,549.41L99.82,549.83M95.64,548.28L95.4,549.08M93.1,552.71L91.86,551.5M95.4,549.08L91.86,551.5M107.85,558.79L107.09,558.46M100.25,556.76L102.97,557.21M102.97,557.21L103.52,558.87M99.82,549.83L102.54,550.9M103.86,552.85L106.48,551.19M106.48,551.19L108.49,552.75M86.78,535.8L87.33,537.46M87,531.34L88.53,531.78M86.78,535.8L86.57,535.73M80.64,534.02L78.63,535.22M84,532.9L81.33,534.24M80.64,534.02L81.33,534.24M83.16,537.08L82.85,536.96M98.55,533.41L98.85,531.83M102.59,535.26L104.98,535.18M113.04,530.37L110.47,530.33M110.47,530.33L109.89,531.97M109.89,531.97L109.89,532.84M96.68,515.94L95.12,515.14M94.33,534.48L95.06,531.81M91.66,531.78L93.49,530.72M93.49,530.72L95.06,531.81M117.35,583.63L117.59,582.6M114.93,578.4L114.44,579.95M87.4,582.71L90.68,581.31M97.39,580.4L94.44,580.66M108.63,575.39L107.07,573.86M113.55,572.6L111.07,572.22M106.04,572.36L103.93,573.14M104.71,576.39L107.07,573.86M109.96,570.53L109.95,570.58M108.63,575.39L108.59,576.41M102.33,568.95L102.3,572.6M98.32,570.88L98.75,569.75M98.32,570.88L100.95,573.42M100.95,573.42L102.3,572.6M100.65,575.25L98,575.33M97.67,571.41L98.32,570.88M100.65,575.25L100.8,575.44M100.8,575.44L103.61,574.77M115.95,546.69L118.68,543.64M61.19,567.58L61.18,567.55M61.18,567.55L62.62,565.88M42.56,558.58L42.64,561.39M46.6,558.96L45.37,562.8M46.6,558.96L45.26,557.86M45.37,562.8L42.64,561.39M43.13,554.18L44.76,557.79M47.27,558.81L46.6,558.96M84.32,565.84L86.36,568.03M88.42,567.84L88.3,568.12M79.89,555.04L81.59,555.97M79.53,552.24L83.37,552.79M80.9,559.33L81.85,556.5M81.59,555.97L81.85,556.5M72.04,580.64L74.02,580.96M24.83,549.52L20.79,549.34M48.38,534.15L46.43,535.18M46.43,535.18L44.59,533.3M47.8,531.95L45.07,532.36M45.07,532.36L44.59,533.3M45.24,536.61L47.96,537.99M43.84,537.02L43.65,537.47M45,539.85L47.17,540.22M47.96,537.99L47.17,540.22M49.65,536.93L47.96,537.99M46.43,535.18L45.24,536.61M41.42,533.91L42.88,534.75M47.81,543.14L47.22,540.29M50.24,540.06L47.22,540.29M52.44,547.87L50.85,546.89M50.85,546.89L50.82,546.9M49.25,554.29L52.06,552.02M56.18,546.72L52.44,547.87M42.58,516.76L39.85,514.29M38.4,522.22L38.58,525.26M34.82,524L38.09,525.73M34.82,524L35.06,522.3M32.36,516.83L30.14,519.53M33.9,520.88L34.28,519.87M28.26,518.84L30.14,519.53M30.78,522.16L30.96,521.66M42.42,522.82L42.14,524.28M42.14,524.28L44.07,525.58M25.72,524.77L26.4,525.46M22.5,525.6L25.72,524.77M113.78,525.23L114.43,528.59M113.78,525.23L109.89,526.47M114.43,528.59L109.83,526.68M113.04,530.37L114.76,529.13M109,527.99L109.83,526.68M116.55,524.75L116.71,527.97M121.02,533.49L120.73,532.6M116.69,531.52L117.8,531.25M115.09,529.19L116.69,531.52M118.88,518.91L120.75,520.08M117.8,531.25L120.16,528.66M120.73,532.6L121.25,529.19M110.12,519.38L110.05,520.71M112.97,517.99L110.75,518.22M109.68,525.48L107.76,523.87M109.68,525.48L111.63,521.9M114.27,516.6L114.97,516.92M57.25,518.9L55.53,519.48M69.23,513.44L69.73,516.01M68.37,517.33L69.73,516.01M66.9,523.54L66.75,523.14M69.9,520.56L66.75,523.14M65.52,526.14L62.9,524.47M67.93,540.87L69.6,540.86M58.62,530.82L61.02,530.9M58.6,532.94L61.2,533.44M61.02,530.9L62.08,532.99M58.08,529.81L54.99,530.59M57.26,534.07L58.6,532.94M57.26,534.07L57.82,536.75M59.94,537.89L61.2,533.44M62.67,533.02L62.08,532.99M59.94,537.89L59.97,537.92M55.15,524.84L55.36,527.08M55.15,537.9L54.71,540.63M53.68,541.49L54.71,540.63M50.7,537.32L51.05,539.34M57.82,536.75L55.15,537.9M20.12,580.27L23.19,581.18M24.06,578.14L23.98,580.72M40.42,565.6L42.92,566.19M45.45,562.99L45.2,563.93M42.92,566.19L45.2,563.93M104.71,576.39L104.47,577.8M104.47,577.8L101.7,578.17M91.44,551.22L91.39,550.93M109.5,552.04L110.39,548.56M105.39,545.26L103.53,547.63M101.56,543.96L102.86,543.76M101.56,543.96L102.23,547.43M106.77,548.94L106.52,545.26M106.52,545.26L105.39,545.26M105.66,541.48L107.36,542.64M107.36,542.64L107.31,543.21M107.31,543.21L106.55,545.24M84.37,539.47L83.1,541.84M87.33,540.12L85.64,543.4M85.64,543.4L84.7,543.69M84.7,543.69L83.42,542.68M89.19,544.13L90.02,543.54M80.35,544.6L83.42,542.68M84.61,544.84L84.7,543.69M80.16,540.17L80.54,539.1M80.16,540.17L78.69,540.68M77.43,537.27L78.63,535.25M82.85,536.96L80.54,539.1M83.1,541.84L80.16,540.17M78.63,535.22L78.63,535.25M74.69,537.21L77.43,537.27M103.79,531.56L105.58,528.26M106.64,528.22L106.97,528.33M102.37,531.53L103.79,531.56M105.98,533.96L104.98,535.18M105.98,533.96L105.74,533.09M109.89,531.97L106.83,531.26M103.92,523.72L102.61,525.09M87.89,527.11L88.43,527.22M86.86,523.14L89.23,522.98M89.23,522.98L90.31,525.09M90.31,525.09L88.43,527.22M90.26,530.85L90.22,529.03M88.43,527.22L90.22,529.03M86.95,519L90.51,519.58M93.88,516L93.23,517.25M94.92,519.71L93.23,517.25M93.23,517.25L91.23,518.14M118.33,542.99L118.38,542.24M114.08,545.41L114.27,543.46M114.08,545.41L111.18,547.14M110.67,544.59L110.81,546.61M107.31,543.21L110.67,544.59M109.25,541.08L111.16,541.68M109.25,541.08L108.5,538.37M108.5,538.37L109.37,537.24M111.44,534.63L109.74,537.09M109.74,537.09L109.37,537.24M80.89,559.33L78.28,561.62M81.86,561.25L79.98,563.43M63.04,552.29L61.25,553.71M59.2,549.84L59.46,552.8M52.6,552.14L52.53,556M56.51,556.02L52.53,556M27.22,570.07L26.47,571.5M27.22,570.07L29.02,568.59M28.18,566.02L29.58,565.1M92.36,572L91.98,569.41M91.23,574.95L89.13,573.95M89.13,573.95L89,571.19M92.87,572.7L92.36,572M86.36,568.03L84.57,569.86M92.07,566.63L94.35,565.29M95.54,567.73L95.54,566.19M94.35,565.29L95.54,566.19M93.79,562.52L94.35,565.29M94.79,570.6L94.24,568.85M85.65,558.49L88.54,557.85M54.94,576.31L57.16,572.31M62.14,568.14L63.59,571.9M81.17,582.58L80.89,583.4M81.17,582.58L77.39,580.27M79.58,584.33L76.69,582.57M75.05,584.74L76.69,582.57M75.24,580.51L76.48,580.93M83.36,575.74L86.86,575.36M82.58,580.14L82.51,579.9M80.82,570.58L78.87,573.32M80.82,570.58L84.23,571.77M78.87,573.32L79.01,573.73M82.76,574.98L79.92,574.61M79.01,573.73L79.92,574.61M82.51,579.9L79.24,578.34M82.58,580.14L82.44,581.08M82.44,581.08L81.17,582.58M37.68,519.97L36.14,519.01M37.07,515.29L37.26,515.33M32.94,515.81L36.12,515.89M39.85,514.29L37.26,515.33M41.21,532.14L38.66,530.62M38.66,530.62L38.66,529.12M40.67,525.2L42.18,528.35M43.66,528.74L43.48,528.87M41.42,533.91L41.21,532.14M34.75,531.01L38.3,530.96M34.75,531.01L33.82,533.08M34.73,533.77L33.81,533.13M38.66,530.62L38.3,530.96M32.38,531.26L33.82,533.08M35.93,537.27L34.73,533.77M118.57,515.98L116.09,512.86M118.57,515.98L119.29,515.53M119.29,515.53L119.54,513.3M57.79,524.65L58.9,525.75M58.3,528.34L58.9,525.75M62.9,524.47L62.11,524.53M55.15,524.84L57.79,524.65M58.33,520.99L58.93,521.97M39.25,566.52L39.26,566.83M42.92,566.19L43.29,567.38M58.81,577.55L61.48,577.59M58.81,577.55L58.02,580.47M60.99,581.9L61.72,577.83M67.67,581.21L64.59,583.58M49.64,573.81L51.87,575.95M54.94,576.31L55.14,576.7M51.87,575.95L50.34,577.97M111.17,584.7L113.16,582.47M113.28,581.01L110.29,579.98M115.31,583.89L113.16,582.47M114.44,579.95L113.28,581.01M104.2,581.82L104.72,577.99M102.17,581.87L104.2,581.82M104.47,577.8L104.72,577.99M90.34,549.91L86.78,548.95M89.19,544.13L88.79,546.7M84.61,544.84L87.49,547.47M102.61,525.09L100.5,524.92M100.5,524.92L99.16,525.58M92.36,525.19L92.31,527.67M93.49,530.72L94.79,528.68M114.76,540.83L117,539.48M112.71,538.84L112.66,539.75M112.71,538.84L115.07,536.69M115.07,536.69L117.1,537.88M114.46,543.32L114.76,540.83M109.74,537.09L112.71,538.84M114.32,534.92L115.07,536.69M79.98,563.43L79.6,564.91M71.7,573.25L73.8,570.96M71.7,573.25L72.45,574.68M72.45,574.68L73.15,575M72.74,565.42L72.98,566.03M68.87,567.32L71.4,569.03M68.57,565.47L68.93,566.09M66.7,569.27L68.87,567.32M65.51,565.53L66.17,564.37M76.5,571.54L76.72,568.87M76.72,568.87L72.6,568.51M61.16,555.34L59.96,556.64M56.69,555.85L59.96,556.64M65.24,558.91L66.56,559.03M66.56,559.03L67.15,559.28M64.07,558.04L65.24,558.91M60.82,559.47L57.52,560.33M56.32,558.41L53.02,559.87M36.48,566.03L36.08,566.32M32.93,566.19L36.08,566.32M88.44,555.05L85.8,554.92M88.44,555.05L88.95,552.59M91.44,551.22L88.95,552.59M83.61,552.58L84.99,553.48M57.19,572.31L59.05,572.2M58.81,577.55L58.62,577.36M59.77,571.49L59.05,572.2M76.27,576.93L78.14,574.48M78.14,574.48L73.51,575.55M78.26,578.79L76.27,576.93M76.66,571.91L78.87,573.32M73.15,575L73.51,575.55M72.22,578.64L72.04,580.64M119.29,515.53L121.48,515.56M64.29,516.73L66.36,514.57M62.43,514.51L62.14,515.46M65.22,521.41L66.51,518.68M65.22,521.41L62.39,520.67M66.51,518.68L64.69,517.34M58.28,520.3L61,518.83M61.11,515.9L62.14,515.46M58.57,513.26L58.73,515.49M35.88,568.58L37.75,570.28M37.75,570.28L38.65,570.29M18.7,582.45L22.03,584.52M44.71,568.85L44.29,571.31M42.76,572.09L44.29,571.31M46.57,565.95L49.42,566.06M55.58,569.41L51.96,568.78M51.96,568.78L51.82,568.83M51.82,568.83L50.05,567.97M49.42,566.06L49.61,566.26M64.14,578.63L64.97,578.13M64.97,578.13L68.54,579.63M68.54,579.63L69.36,577.46M69.62,571.94L66.7,569.49M66.7,569.49L64.18,572.4M66.7,569.27L66.7,569.49M63.59,571.9L64.18,572.4M64.97,578.13L66.36,574.84M52.47,585.69L55.48,582.05M94.14,521.36L93.12,522.04M97.2,522.42L97.51,524.48M94.92,519.71L94.14,521.36M99.16,525.58L97.51,524.48M74.93,566.39L77.07,568.34M75.5,562.52L76.85,564.22M30.13,575.39L28.69,574.31M30.13,575.39L29.76,576.89M24.59,574.3L25.77,576.12M26.47,571.5L28.29,573.48M28.29,573.48L28.69,574.31M28.13,581.19L28.56,581.32M24.06,578.14L25.47,577.34M34.29,577.43L34.1,576.32M30.13,575.39L31.17,575.08M34.82,581.01L33.78,581.59M34.82,581.01L37.33,581.55M31.55,580.13L33.78,581.59M34.53,577.84L34.82,581.01M49.64,573.81L47.73,575.05M50.34,577.97L49.8,578.16M49.8,578.16L47.87,576.91M51.41,583.32L53.67,581.48M53.67,581.48L49.67,580.26M46.45,581.54L44.5,584.32M32.24,572.79L30.63,571.29M33.62,570.04L31.85,568.46M35.18,572.26L33.97,571.59M29.02,568.59L30.26,568.84M53,562.06L54.65,562.35M42.76,572.09L42.44,573.49M43.43,577.8L41.82,580.77M38.88,578.16L39.03,579.93M41.07,574.94L41.07,575.96" fill="none" stroke="#2ec82e" stroke-width="0.45" stroke-linecap="round" opacity="0.5"/>
<path d="M87.89,527.11L85.45,528.45M87.89,527.11L86.56,523.44M86.56,523.44L85.93,523.5M85.93,523.5L84.18,526.28M84.52,528.34L84.18,526.28M83.81,522.65L85.93,523.5M84.18,526.28L81.97,524.61M121.11,555.57L119.34,556.16M119.34,556.16L119.89,558.76M31.84,562.16L32.08,558.73M31.84,562.16L30.66,562.41M28.46,558.77L29.49,557.91M28.46,558.77L25.84,558.52M25.84,558.52L25.99,555.55M27.78,555.28L25.99,555.55M21.69,566.93L21.25,568.6M23.93,570.99L23.37,570.08M21.25,568.6L23.37,570.08M19.21,559.24L22.31,560.5M22.31,560.5L22.09,562.63M27.49,534.64L27.6,537.04M30.24,533.37L31.65,534.22M31.2,537.01L27.6,537.04M35.85,540.85L34.2,539.89M38.9,540.21L37.69,537.56M35.93,537.27L34.67,537.99M76.35,557.09L72.52,556.88M72.06,556.3L72.61,554.01M75.88,554.01L72.61,554.01M84.52,528.34L83.35,528.98M82.48,528.94L80.45,527.3M80.41,525.63L80.45,527.3M82.48,528.94L80.07,531.87M77.85,528.78L78.8,530.99M80.07,531.87L78.8,530.99M114.33,556.13L114.33,554.17M116.82,556.95L118.78,555.75M118.24,554.5L118.78,555.75M113.45,552.64L113.53,553.23M114.09,550.85L117.34,551.01M113.53,553.23L114.33,554.17M115.89,559.1L119.86,558.78M115.89,559.1L116.82,556.95M119.34,556.16L118.78,555.75M119.89,558.76L119.86,558.78M115.26,559.63L115.89,559.1M115.26,559.63L113.1,558.7M118.46,553.46L120.68,552.23M120.68,552.23L122.97,553.7M120.08,571.66L120.82,571.67M121.15,571.45L120.82,571.67M118.3,567.86L117.01,569.42M111.51,568.97L109.99,565.99M116.9,569.44L115.96,573.48M114.28,568.55L113.55,572.6M115.96,573.48L114.38,573.64M114.38,573.64L113.55,572.6M117.74,565.36L118.3,567.86M117.01,569.42L116.9,569.44M107.37,562.85L106.24,565.48M107.37,562.85L108.6,562.49M104.77,561.59L107.37,562.85M103.14,564.06L104.49,565.87M109.96,570.53L107.65,568.33M109.99,565.99L109.86,565.95M117.92,564.95L116.96,562.24M117.92,564.95L120.93,564.7M118.16,561.77L121.01,563.12M118.16,561.77L116.96,562.24M116.3,562.06L116.96,562.24M116.3,562.06L113.42,564.2M117.74,565.36L117.92,564.95M119.86,558.78L118.16,561.77M120.83,550.74L119.06,548.74M113.89,550.29L114.09,550.85M119.05,548.74L116.09,547.17M27.86,548.58L30.84,550.28M29.63,545.54L28.07,545.71M29.63,545.54L31.6,547.5M24.98,549.19L27.86,548.58M24.37,546.88L27.37,545.22M27.37,545.22L28.07,545.71M26.62,564.97L26.44,562.96M26.62,564.97L24.61,566.31M22.71,562.99L23.62,566.16M24.61,566.31L23.62,566.16M21.69,566.93L23.62,566.16M22.09,562.63L22.71,562.99M23.95,559.16L24.69,559.26M23.95,559.16L22.31,560.5M24.69,559.26L26.21,562.79M28.52,561.72L26.44,562.96M24.83,567.34L23.37,570.08M24.95,554.18L23.2,553.26M25.95,555.53L22.72,557.14M23.2,553.26L21.5,553.85M21.5,553.85L21.54,556.03M21.54,556.03L22.72,557.14M25.99,555.55L25.95,555.53M24.86,550.23L23.2,553.26M23.95,559.16L22.72,557.14M19.39,558.12L21.54,556.03M30.17,552.23L30.89,550.42M32.58,550.56L34.84,553.4M33.28,554.64L34.84,553.4M29.33,552.58L30.17,552.23M24.98,549.19L24.83,549.52M30.84,550.28L30.89,550.42M30.91,557.74L31.75,554.59M34.88,556.51L34.12,558.45M34.88,556.51L33.28,554.64M34.12,558.45L32.08,558.73M34.88,556.51L36.39,555.94M37.11,553.04L36.39,555.94M37.11,558.43L37.49,557.06M84.32,565.84L83.35,565.73M87.2,563.77L87.59,562.77M22.03,577.63L20.12,580.27M21.5,553.85L20.35,553.12M25.27,541.25L21.61,540.48M23.75,543.67L21.93,543.18M21.51,540.58L21.61,540.48M24.22,546.75L24.37,546.88M24.22,546.75L23.75,543.67M27.37,545.22L27.06,543.94M27.06,543.94L25.05,542.84M26.32,538.47L26.52,539.26M26.52,539.26L25.27,541.25M23.59,537.34L22.74,537.69M22.74,537.69L21.61,540.48M19.44,545.17L21.93,543.18M19.56,540.43L21.51,540.58M20.53,536.78L22.74,537.69M67.1,550.01L64.49,548.56M67.1,550.01L66.2,551.99M63.04,552.29L64.96,552.79M63.04,552.29L61.84,549.41M64.49,548.56L61.99,549.18M61.84,549.41L61.99,549.18M46.44,554.82L45.56,553.61M49.25,554.29L49.08,555.59M49.08,555.59L49.08,555.59M29.63,529.54L29.13,530.61M29.13,530.61L29.56,531.37M29.56,531.37L32.38,531.26M28.92,541.95L28.45,540.66M27.6,537.04L26.32,538.47M26.52,539.26L28.45,540.66M34.2,539.89L32.81,541.49M27.06,543.94L28.92,541.95M29.63,545.54L30.85,542.98M33.39,546.19L31.6,547.5M33.39,546.19L34.08,544.13M34.08,544.13L35.41,544M35.41,544L35.85,540.85M37.65,544.3L38.11,545.28M39.22,541.73L41.47,544.12M38.11,545.28L41.63,547.04M41.47,544.12L41.67,547.04M33.39,546.19L36.39,549.22M42.78,554.13L41.15,552.21M41.15,552.21L42.51,550.05M43.13,554.18L45.36,553.59M28.31,515.28L24.53,516.17M28.31,515.28L28.38,515.19M24.53,516.17L23.09,514.44M82.51,518.69L82.23,517.48M82.23,517.48L85.06,515.69M83.74,519.44L86.91,518.97M78.91,516.68L81.62,516.78M78.38,519.25L80.17,520.61M80.14,521.22L82.56,523.22M83.81,522.65L83.74,519.44M81.62,516.78L81.88,513.76M82.52,513.08L85.06,515.69M86.95,519L86.91,518.97M48.02,531.14L46.22,528.74M50.67,528.19L48.46,526.21M49.97,524.14L49.21,521.66M46.27,521.83L48.83,521.34M46.27,521.83L46.16,524.77M46.16,524.77L47.69,526.23M49.21,521.66L48.83,521.34M74.03,540.28L71.13,542.65M74.03,540.28L75.31,540.96M75.38,543.54L75.31,540.96M68.22,549.31L68.51,548.02M70.66,550.92L71.31,550.54M71.31,550.54L73.04,547.16M72.7,546.87L73.04,547.16M70.93,552.42L70.66,550.92M67.98,546.23L71.39,544.02M70.93,552.42L72.29,553.44M74.68,547.65L73.04,547.16M80.03,546.65L80.35,544.6M76.39,552L75.5,550.32M75.54,550.08L75.5,550.32M75.54,550.08L79.21,548.66M79.89,555.04L76.73,556.03M79.53,552.24L79.48,552.15M79.58,546.95L79.21,548.66M83.17,547.38L80.03,546.65M63.92,535.1L62.67,533.02M64.54,531.12L65.62,531.21M66.81,533.02L65.62,531.21M67.6,527.87L65.65,526.67M67.6,527.87L67.37,529.58M65.65,526.67L63.21,528.69M63.21,528.69L64.54,531.12M67.37,529.58L70.32,531.66M67.93,533.81L69.32,532.83M67.93,533.81L66.81,533.02M93.79,562.52L94.3,562.1M90.38,562.36L89.87,562.01M89.9,560.63L92.92,558.09M92.92,558.09L94.15,558.76M94.15,558.76L94.3,562.1M98,575.33L96.72,573.76M94.69,577.28L97.25,577.7M91.31,576.48L93.94,577.72M93.94,577.72L94.69,577.28M92.93,573.26L91.23,574.95M94.13,539.75L93.92,539.36M93.99,538.94L96.27,537.13M96.27,537.13L98.32,538.51M98.38,540.1L97.5,540.68M92.62,536.06L90.48,537.65M90.72,539.58L90.3,537.97M95.81,534.86L98.55,533.41M99.2,544.89L101.2,543.82M94.13,539.75L93.39,542.92M93.39,542.92L90.41,542.96M78.91,516.68L77.44,515.23M78.38,519.25L76.49,519.68M74.63,516.49L77.44,515.23M76.49,519.68L74.89,518.58M76.82,525.09L76.17,522.96M79.23,522.22L79.64,525.07M76.6,525.51L76.82,525.09M76.49,519.68L76.57,522.48M74.35,522.85L73.6,519.91M74.89,518.58L73.6,519.91M66.9,523.54L65.52,526.14M67.6,527.87L70.05,526.7M71.19,520.26L70.43,520.77M70.43,520.77L71.19,523.61M73.03,523.69L74.1,525.95M74.86,529.4L74.83,531.07M74.86,529.4L73.07,528.27M71.85,528.29L73.07,528.27M71.85,528.29L70.45,531.62M74.83,531.07L73.67,533.57M76.96,528.51L74.86,529.4M77.2,531.9L74.83,531.07M70.13,524.99L71.19,523.61M70.05,526.7L71.85,528.29M77,534.44L77.2,531.9M73.82,534.13L71.53,535.77M85.45,528.45L87,531.34M87,531.34L84.61,533.04M84.61,533.04L84,532.9M102.72,539L102.58,539.35M95.81,534.86L94.33,534.48M92.97,534.59L94.33,534.48M92.97,534.59L92.6,534.25M88.53,531.78L90.26,530.85M90.26,530.85L91.66,531.78M92.6,534.25L91.66,531.78M107.76,523.87L106.14,524.5M107.86,521.37L105.91,520.45M106.14,524.5L103.92,523.72M103.91,518.42L102.49,518.71M103.91,518.42L105.62,519.64M105.62,519.64L105.91,520.45M104,523.06L101.66,520.71M104.4,516.03L101.39,515.35M100.52,517.4L100.38,516.97M96.68,515.94L98.03,515.62M100.52,517.4L98.23,519.83M98.03,515.62L100.38,516.97M96.85,518.98L98.23,519.83M105.86,538.35L105.56,538.16M107.85,558.79L110.12,557.81M107.85,558.79L108.98,562.07M108.98,562.07L111.28,561.67M109.87,555.29L111.41,554.96M108.6,562.49L108.98,562.07M115.96,573.48L117.35,574.42M121.5,575.39L120,576.08M119.51,577.82L121.7,579.62M117.55,574.41L120,576.08M119.51,577.82L117.91,578.63M117.35,574.42L115.97,578.06M117.91,578.63L115.97,578.06M114.93,578.4L115.97,578.06M113.14,576.62L113.02,575.99M103.14,564.06L99.71,566.29M98.48,564.88L99.71,566.29M107.65,568.33L104.92,569.52M103.53,568.66L104.92,569.52M120.83,550.74L123.37,550.19M119.06,548.74L120.5,546.97M122.74,546.92L120.5,546.97M76.35,557.09L76.67,558.32M72.52,556.88L72.06,559.91M76.67,558.32L75.51,561.06M66.53,555.74L68.81,555.5M72.06,556.3L69.37,556.31M69.37,556.31L68.81,555.5M40.78,557.31L40.8,557.36M39.71,556.68L37.49,557.06M37.39,552.79L38.45,552.97M39.15,549.1L40.7,552.23M40.7,552.23L38.45,552.97M36.39,549.27L36.26,549.66M37.11,553.04L37.39,552.79M39.71,556.68L38.45,552.97M32.58,550.56L36.26,549.66M36.39,549.22L36.39,549.27M41.63,547.04L39.15,549.1M41.15,552.21L40.7,552.23M41.67,547.04L42.5,547.35M42.78,554.13L40.78,557.31M22.03,577.63L22.9,577.34M85.33,561.34L85.52,558.89M23.73,535.19L26.41,533.64M26.41,533.64L26.07,531.28M26.25,526.87L25.84,527.57M25.84,527.57L25.71,531.04M19.34,534.71L22.49,533.36M18.83,532.14L22.45,530.79M21.7,528.84L18.57,528.11M25.84,527.57L22.08,528.29M57.12,548.8L57.45,549.07M57.45,549.07L57.6,549.09M57.6,549.09L60.29,545.8M56.16,545.38L57.24,544.7M57.24,544.7L59.45,544.4M61.68,546.52L61.99,549.18M61.68,546.52L60.29,545.8M61.84,549.41L59.2,549.84M38.76,536.29L42.95,537.81M41.47,544.12L43.58,542.37M42.5,547.35L43.05,547.1M43.58,542.37L44.89,544.16M43.05,547.1L46.35,548.43M46.35,548.43L47.84,544.67M47.94,550.95L48.16,550.26M45.56,553.61L45.36,553.59M48.16,550.26L47.43,549.81M19.75,520.56L22.5,521.54M22.5,525.6L21.1,524.45M24.41,519.4L20.25,517.75M24.41,519.4L23.59,521.15M24.65,519.19L24.41,519.4M22.83,514.44L20.56,515.74M42.42,522.82L41.27,521.34M42.42,522.82L45.81,521.53M44.85,519.21L42.45,517.88M46.42,517.95L46.83,516.03M42.45,517.88L42.58,516.76M31.62,528.45L33.67,527.98M33.67,527.98L33.51,524.8M31.5,523.89L30.06,526.25M105.19,514.92L107.72,516.31M105.19,514.92L104.4,516.03M105.62,519.64L107.49,517.68M107.72,516.31L107.49,517.68M114.97,516.92L115.82,520.92M118.33,516.43L118.88,518.91M118.88,518.91L116.16,520.86M114.17,522.23L115.82,520.92M114.17,522.23L114.58,523.67M114.58,523.67L116.55,524.75M116.55,524.75L119.14,524.37M119.42,523.18L116.16,520.86M95.12,515.14L93.88,516M91.19,514.53L93.88,516M77.44,515.23L77.72,514.32M74.63,516.49L73.76,515.96M71.19,520.26L71.76,516.46M73.76,515.96L71.76,516.46M64.11,536.09L66.72,537.37M64.11,536.09L63.92,535.1M67.92,536.67L66.72,537.37M64.11,536.09L61.4,537.86M65.35,540.14L63.53,539.81M66.72,537.37L66.21,539.45M70.52,537.76L70.24,537.29M52.77,530.99L54.57,530.41M52.77,530.99L50.68,529.52M51.79,527.22L52.85,524.78M52.32,533.21L53.14,534.83M54.99,530.59L56.39,533.69M49.21,521.66L52.81,521.5M52.85,524.78L54.16,524.07M54.16,524.07L54.11,522.76M52.81,521.5L54.11,522.76M52.81,521.5L52.7,519.48M54.11,522.76L54.22,522.65M54.22,522.65L55.53,519.48M55.53,519.48L53.38,518.39M48.83,521.34L49.43,518.91M52.7,519.48L49.43,518.91M45.81,521.53L46.27,521.83M49.43,518.91L49.42,518.89M53.26,516.22L53.38,518.39M64.8,546.15L67.68,545.95M67.24,543.73L64.89,542.76M67.98,546.23L67.68,545.95M65.35,540.14L64.89,542.76M63.53,539.81L61.6,542.43M61.4,537.86L59.97,537.92M57.24,544.7L57.15,541.17M59.48,540.43L57.15,541.17M38.92,561.67L40.02,562.36M40.42,565.6L39.25,566.52M39.25,566.52L36.48,566.03M36.22,562.34L36.48,566.03M94.5,558.6L95.45,555.47M96.51,555.48L97.86,558.09M97.86,558.09L97.29,558.42M94.3,562.1L96,562.02M93.27,554.56L95.45,555.47M93.27,554.56L92.18,556.07M93.1,552.71L95.68,551.88M98.75,558.25L97.86,558.09M98.75,558.25L100.25,556.76M98.5,552.66L99.95,554.05M98.75,558.25L100.06,560.85M98.71,545.81L99.94,549.41M98.71,545.81L94.84,546.6M99.59,550.01L95.64,548.28M94.84,546.6L95.64,548.28M99.2,544.89L98.71,545.81M94.57,543.93L94.84,546.6M94.84,546.6L94.84,546.6M90.41,542.96L90.02,543.54M90.02,543.54L92.84,547.31M94.84,546.6L92.84,547.31M98.47,552.53L99.59,550.01M95.68,551.88L95.4,549.08M107.09,558.46L104.65,559.67M100.06,560.85L103.52,558.87M104.65,559.67L103.52,558.87M109.87,555.29L108.44,554.31M107.09,558.46L106.64,555.6M108.44,554.31L106.64,555.6M102.97,557.21L104.27,555.02M106.64,555.6L104.27,555.02M99.95,554.05L103.68,553.71M104.27,555.02L103.68,553.71M102.54,550.9L103.86,552.85M103.68,553.71L103.86,552.85M113.45,552.64L109.5,552.04M104.49,548.94L106.37,549.41M88.15,534.73L86.78,535.8M90.3,537.97L87.33,537.46M84.61,533.04L86.57,535.73M77,534.44L78.63,535.22M80.07,531.87L80.64,534.02M86.57,535.73L83.16,537.08M81.33,534.24L82.85,536.96M101.11,536.11L102.59,535.26M98.85,531.83L100.77,530.72M102.37,531.53L102.59,535.26M113.04,530.37L113.39,534.51M113.39,534.51L111.44,534.63M111.44,534.63L109.89,532.84M98.03,515.62L99.45,512.59M101.39,515.35L101.42,512.64M98.85,531.83L97.33,530.63M97.33,530.63L95.06,531.81M118.67,581.58L117.59,582.6M117.59,582.6L114.44,579.95M87.4,582.71L86.99,580.31M89.72,578.33L87.89,578.37M87.89,578.37L86.99,580.31M91.31,576.48L89.72,578.33M93.94,577.72L93.89,579.99M97.25,577.7L97.98,579.06M97.98,579.06L97.39,580.4M93.89,579.99L94.44,580.66M110.61,574.66L111.07,572.22M106.77,572.78L107.07,573.86M109.95,570.58L111.07,572.22M113.02,575.99L110.61,574.66M106.04,572.36L106.77,572.78M103.61,574.77L104.71,576.39M104.92,569.52L106.04,572.36M113.14,576.62L110.48,578.24M92.93,573.26L92.87,572.7M96.72,573.76L97.67,571.41M92.87,572.7L94.79,570.6M97.67,571.41L94.79,570.6M100.21,568.49L98.75,569.75M100.21,568.49L102.33,568.95M99.71,566.29L100.21,568.49M103.53,568.66L102.33,568.95M103.93,573.14L102.3,572.6M100.65,575.25L100.95,573.42M122.46,543.02L118.85,543.76M115.95,546.69L116.09,547.17M118.68,543.64L118.85,543.76M72.06,559.91L71.77,560.06M69.37,556.31L68.81,557.9M68.81,557.9L71.77,560.06M65.33,567.95L65.51,565.53M65.33,567.95L62.14,568.14M65.51,565.53L62.62,565.88M61.19,567.58L62.14,568.14M42.56,558.58L44.76,557.79M44.76,557.79L45.26,557.86M40.8,557.36L42.56,558.58M40.02,562.36L42.64,561.39M46.44,554.82L45.26,557.86M49.08,555.59L47.27,558.81M90.38,562.36L90.81,566.08M89.87,562.01L87.59,562.77M88.42,567.84L90.81,566.08M86.36,568.03L88.3,568.12M81.59,555.97L83.37,552.79M80.89,559.33L76.67,558.32M80.89,559.33L80.9,559.33M83.8,550.08L83.61,552.58M83.37,552.79L83.61,552.58M73.57,583.94L74.02,580.96M69.77,582.01L72.04,580.64M69.77,582.01L69.91,583.46M24.22,546.75L20.34,546.71M48.46,533.68L47.8,531.95M48.46,533.68L48.38,534.15M52.32,533.21L48.46,533.68M48.02,531.14L47.8,531.95M45.24,536.61L43.84,537.02M49.65,536.93L48.38,534.15M42.88,534.75L44.59,533.3M42.88,534.75L43.84,537.02M38.76,536.29L39.09,535.35M39.09,535.35L41.42,533.91M42.95,537.81L43.65,537.47M43.54,542.26L45,539.85M49.68,542.48L50.24,540.06M49.68,542.48L47.81,543.14M47.41,543.94L47.81,543.14M48.82,550.03L50.82,546.9M53.52,549.88L52.84,552M52.06,552.02L52.6,552.14M52.84,552L52.6,552.14M48.16,550.26L48.82,550.03M57.12,548.8L53.52,549.88M53.3,543.42L50.85,546.89M53.3,543.42L56.16,545.38M53.24,543.13L49.68,542.48M43.06,516.16L44.26,512.63M38.4,522.22L37.82,521.62M38.58,525.26L38.09,525.73M37.82,521.62L35.06,522.3M32.36,516.83L34.28,519.87M30.96,521.66L33.9,520.88M34.82,524L33.51,524.8M31.5,523.89L30.78,522.16M35.06,522.3L33.9,520.88M41.27,521.34L38.4,522.22M42.14,524.28L40.67,525.2M46.22,528.74L43.66,528.74M44.07,525.58L43.66,528.74M33.67,527.98L34.27,528.26M38.09,525.73L37.61,527.4M34.27,528.26L37.61,527.4M27.42,521.8L29.96,522.41M27.42,521.8L25.63,524.26M29.96,522.41L26.94,525.38M26.4,525.46L26.94,525.38M26.71,519.46L27.42,521.8M30.78,522.16L29.96,522.41M23.59,521.15L25.63,524.26M26.25,526.87L26.4,525.46M47.51,515.23L46.86,513.24M109.89,526.47L109.83,526.68M109,527.99L110.47,530.33M114.76,529.13L115.09,529.19M114.58,523.67L113.78,525.23M116.71,527.97L115.09,529.19M121.02,533.49L119.59,534.77M120.73,532.6L117.8,531.25M119.59,534.77L116.49,532.79M116.49,532.79L116.69,531.52M113.39,534.51L114.32,534.92M114.32,534.92L116.49,532.79M119.42,523.18L121.04,521.41M119.14,524.37L119.78,525.36M119.78,525.36L123.55,525.18M116.71,527.97L119.51,527.87M119.78,525.36L119.51,527.87M119.51,527.87L120.16,528.66M120.16,528.66L121.25,529.19M110.12,519.38L110.75,518.22M110.05,520.71L111.63,521.9M111.63,521.9L113.66,522.01M109.92,515.25L107.72,516.31M109.92,515.25L110.75,518.22M107.86,521.37L110.05,520.71M114.27,516.6L112.97,517.99M114.17,522.23L113.66,522.01M109.68,525.48L109.89,526.47M120.62,537.93L122.39,537.47M120.62,537.93L119,537.04M119,537.04L119.59,534.77M120.62,537.93L121.12,540.31M57.25,518.9L58.28,520.3M54.22,522.65L58.33,520.99M58.28,520.3L58.33,520.99M70.43,520.77L69.9,520.56M68.37,517.33L67.75,518.44M69.9,520.56L67.75,518.44M62.9,524.47L65.33,521.85M66.75,523.14L65.33,521.85M67.54,543.4L67.93,540.87M67.54,543.4L71.07,542.62M71.07,542.62L69.6,540.86M66.21,539.45L67.93,540.87M67.24,543.73L67.54,543.4M71.13,542.65L71.07,542.62M70.52,537.76L69.6,540.86M62.08,532.99L61.2,533.44M58.08,529.81L58.62,530.82M56.39,533.69L57.26,534.07M58.08,529.81L58.45,528.78M58.45,528.78L61.75,528.62M61.75,528.62L61.02,530.9M57.82,536.75L59.94,537.89M63.21,528.69L62.13,528.37M61.75,528.62L62.13,528.37M54.68,528.25L55.36,527.08M58.45,528.78L58.3,528.34M58.3,528.34L55.36,527.08M54.16,524.07L55.15,524.84M52.91,536.15L50.7,537.32M57.15,541.17L54.71,540.63M53.14,534.83L52.91,536.15M53.24,543.13L53.68,541.49M50.24,540.06L51.05,539.34M22.9,577.34L24.06,578.14M45.37,562.8L45.45,562.99M100.8,575.44L101.7,578.17M101.12,583.88L102.17,581.87M98.27,583.91L97.93,581.78M102.17,581.87L101.66,580.47M97.93,581.78L97.39,580.4M101.66,580.47L101.42,578.56M101.42,578.56L101.7,578.17M92.84,547.31L92.72,547.43M92.72,547.43L91.39,550.93M113.89,550.29L111.15,547.96M110.39,548.56L111.15,547.96M105.39,545.26L102.86,543.76M102.23,547.43L103.53,547.63M104.49,548.94L103.53,547.63M104.21,541.77L102.86,543.76M101.2,543.82L101.56,543.96M99.94,549.41L102.23,547.43M84.37,539.47L86.79,539.18M87.33,540.12L86.79,539.18M83.1,541.84L83.42,542.68M87.33,537.46L86.79,539.18M83.16,537.08L84.37,539.47M89.93,541.05L87.33,540.12M89.19,544.13L85.64,543.4M83.17,547.38L84.61,544.84M80.54,539.1L78.63,535.25M77.75,540.39L78.69,540.68M78.93,543.05L78.69,540.68M75.31,540.96L77.75,540.39M105.74,533.09L103.79,531.56M105.74,533.09L106.83,531.26M106.83,531.26L106.97,528.33M105.58,528.26L106.64,528.22M105.98,533.96L106.82,534.13M109.89,532.84L106.82,534.13M100.77,530.72L100.87,530.22M103.67,527.39L100.87,530.22M103.67,527.39L105.58,528.26M109,527.99L106.97,528.33M102.61,525.09L103.67,527.39M89.23,522.98L91.13,521.05M91.13,521.05L90.51,519.58M89.4,514.96L91.23,518.14M96.85,518.98L94.92,519.71M97.33,530.63L96.29,528.91M100.87,530.22L99.12,525.79M96.29,528.91L99.12,525.79M121.12,540.31L118.38,542.24M118.68,543.64L118.33,542.99M114.27,543.46L111.45,542.25M111.45,542.25L110.67,544.59M111.18,547.14L110.81,546.61M115.95,546.69L114.08,545.41M114.46,543.32L118.33,542.99M114.46,543.32L114.27,543.46M111.15,547.96L111.18,547.14M106.55,545.24L110.81,546.61M107.36,542.64L109.25,541.08M111.45,542.25L111.16,541.68M90.68,581.31L91.98,583.63M94.02,582.7L91.98,583.63M94.02,582.7L97.07,585.12M75.63,561.47L78.28,561.62M80.9,559.33L81.02,559.5M78.28,561.62L79.98,563.43M72.87,564.5L75.5,562.52M72.87,564.5L70.46,562.31M71.77,560.06L70.34,561.9M75.63,561.47L75.5,562.52M55.99,552.7L56.82,554.15M59.46,552.8L56.82,554.15M56.82,554.15L56.69,555.85M49.08,555.59L51.82,556.63M52.53,556L51.82,556.63M23.93,570.99L25.94,571.61M24.59,574.3L25.94,571.61M24.83,567.34L27.22,570.07M25.94,571.61L26.47,571.5M29.02,568.59L28.18,566.02M32.71,562.79L32.81,565.92M29.58,565.1L32.81,565.92M92.36,572L89,571.19M91.98,569.41L88.81,569.32M88.81,569.32L88.63,570.53M89,571.19L88.63,570.53M84.57,569.86L84.46,571.64M85.66,571.97L88.63,570.53M88.3,568.12L88.81,569.32M85.66,571.97L87.26,574.64M92.07,566.63L92.71,568.67M95.54,567.73L94.24,568.85M94.24,568.85L92.71,568.67M91.98,569.41L92.71,568.67M98.75,569.75L95.54,567.73M98.48,564.88L95.54,566.19M85.52,558.89L85.65,558.49M85.65,558.49L84.42,556.8M89.9,560.63L88.54,557.85M92.18,556.07L89.07,556.22M53.37,575.39L52.99,573.23M56.16,571.36L52.99,573.23M56.16,571.36L57.16,572.31M61.19,567.58L60.37,568.69M60.37,568.69L59.77,571.49M59.77,571.49L63.59,571.9M76.69,582.57L76.48,580.93M76.48,580.93L77.39,580.27M75.24,580.51L74.02,580.96M83.46,577.83L83.36,575.74M83.46,577.83L87.88,578.36M87.89,578.37L87.88,578.36M86.99,580.31L82.58,580.14M82.51,579.9L83.46,577.83M87.26,574.64L86.86,575.36M84.23,571.77L84.46,571.64M82.76,574.98L83.36,575.74M79.92,574.61L79.24,578.34M77.39,580.27L78.26,578.79M78.26,578.79L79.24,578.34M37.68,519.97L39.66,518.34M36.14,519.01L36.12,515.89M39.66,518.34L37.26,515.33M36.12,515.89L37.07,515.29M37.82,521.62L37.68,519.97M34.28,519.87L36.14,519.01M43.48,528.87L43.22,530.35M42.18,528.35L38.66,529.12M43.22,530.35L41.21,532.14M45.07,532.36L43.22,530.35M37.61,527.4L38.66,529.12M34.73,533.77L37.53,533.18M37.53,533.18L38.3,530.96M33.82,533.08L33.81,533.13M31.65,534.22L33.81,533.13M39.09,535.35L37.53,533.18M114.27,516.6L113.49,514.9M109.92,515.25L110.09,514.93M118.33,516.43L118.57,515.98M61.39,525.57L58.9,525.75M61.39,525.57L62.11,524.53M62.11,524.53L61.08,522.41M57.79,524.65L58.93,521.97M58.93,521.97L61.08,522.41M62.13,528.37L61.39,525.57M51.59,515.55L51.21,512.21M47.27,558.81L49.1,559.63M49.1,559.63L51.82,557.96M39.26,566.83L41.57,569.22M43.29,567.38L41.57,569.22M60.99,581.9L60.31,581.84M60.31,581.84L58.02,580.47M61.48,577.59L61.72,577.83M60.99,581.9L62.87,583.4M64.32,580.49L63.21,583.32M64.32,580.49L64.14,578.63M61.72,577.83L64.14,578.63M68.8,580.97L69.77,582.01M60.31,581.84L57.56,585.05M53.37,575.39L51.87,575.95M52.99,573.23L51.08,571.97M50.48,572.31L51.08,571.97M50.48,572.31L49.64,573.81M54.08,579.35L50.34,577.97M108.72,583.69L109.13,580.76M113.16,582.47L113.28,581.01M110.29,579.98L109.13,580.76M110.48,578.24L110.29,579.98M105.25,582.32L106.93,579.41M105.25,582.32L104.2,581.82M104.72,577.99L106.46,578.55M106.46,578.55L106.93,579.41M106.37,584.1L105.25,582.32M109.13,580.76L106.93,579.41M108.59,576.41L106.46,578.55M87.49,547.47L88.79,546.7M87.49,547.47L86.78,548.95M88.79,546.7L89.12,546.94M84.08,549.7L86.14,549.6M101.66,520.71L100.29,521.4M98.23,519.83L98.46,520.54M100.29,521.4L100.5,524.92M99.12,525.79L99.16,525.58M90.31,525.09L92.36,525.19M90.22,529.03L92.31,527.67M96.29,528.91L95.21,528.57M94.79,528.68L95.21,528.57M117.1,537.88L117,539.48M111.16,541.68L112.66,539.75M119,537.04L117.1,537.88M82.44,581.08L86.18,584.02M83.35,565.73L82.73,566.1M79.6,564.91L82.73,566.1M80.82,570.58L80.7,569.38M84.57,569.86L82.38,567.83M82.38,567.83L82.73,566.1M72.74,565.42L68.93,566.09M72.98,566.03L72.6,568.51M68.87,567.32L68.93,566.09M71.4,569.03L72.56,568.56M72.56,568.56L72.6,568.51M72.87,564.5L72.74,565.42M68.57,565.47L70.46,562.31M66.7,569.27L65.33,567.95M68.57,565.47L66.17,564.37M70.02,571.92L71.7,573.25M70.02,571.92L71.4,569.03M61.16,555.34L63.97,556.39M59.96,556.64L60.83,559.46M60.83,559.46L64.07,558.04M63.97,556.39L64.07,558.04M61.25,553.71L61.16,555.34M65.07,555.03L63.97,556.39M65.87,563.51L63.53,562.51M67.79,561.14L67.15,559.28M66.17,564.37L65.87,563.51M70.34,561.9L67.79,561.14M62.62,565.88L63.16,562.53M63.16,562.53L63.53,562.51M60.82,559.47L60.83,559.46M60.82,559.47L61.84,562.05M63.16,562.53L61.84,562.05M68.81,557.9L67.15,559.28M66.53,555.74L66.56,559.03M56.51,556.02L56.32,558.41M57.52,560.33L56.32,558.41M51.82,557.96L53.02,559.87M32.81,565.92L32.93,566.19M87.65,551.8L84.99,553.48M84.99,553.48L85.8,554.92M84.42,556.8L85.8,554.92M89.07,556.22L88.44,555.05M86.14,549.6L87.65,551.8M58.63,576.87L57.19,572.31M58.63,576.87L60.03,573.64M60.03,573.64L59.05,572.2M58.62,577.36L55.14,576.7M57.16,572.31L57.19,572.31M61.48,577.59L62.3,574.73M60.37,568.69L55.64,569.33M55.64,569.33L55.58,569.41M76.27,576.93L74.1,576.84M73.51,575.55L74.08,576.82M74.1,576.84L74.08,576.82M75.24,580.51L74.1,576.84M64.29,516.73L62.14,515.46M62.39,520.67L62.24,520.14M62.24,520.14L64.69,517.34M67.75,518.44L66.51,518.68M65.33,521.85L65.22,521.41M61.08,522.41L62.39,520.67M61,518.83L61.11,515.9M64.29,516.73L64.69,517.34M55.28,515.46L55.04,511.88M55.28,515.46L57.39,516.17M57.39,516.17L58.73,515.49M61.11,515.9L58.73,515.49M53.26,516.22L55.28,515.46M57.25,518.9L57.39,516.17M39.26,566.83L38.65,570.29M36.08,566.32L35.88,568.58M41.57,569.22L41.12,570.8M41.12,570.8L39.04,570.65M38.65,570.29L39.04,570.65M23.19,581.18L22.08,584.49M44.71,568.85L46.62,568.26M47.76,570.99L47.99,568.82M47.76,570.99L46.21,572.16M46.21,572.16L44.29,571.31M46.62,568.26L47.99,568.82M43.29,567.38L44.71,568.85M42.76,572.09L41.12,570.8M45.2,563.93L46.57,565.95M46.57,565.95L46.62,568.26M45.45,562.99L48.57,563.1M49.42,566.06L48.57,563.1M49.1,559.63L49.83,562.26M48.57,563.1L49.83,562.26M50.48,572.31L47.76,570.99M47.99,568.82L50.05,567.97M50.05,567.97L49.61,566.26M68.8,580.97L68.54,579.63M69.33,576.88L69.36,577.46M69.62,571.94L66.78,574.83M66.78,574.83L66.36,574.84M64.18,572.4L64.3,573.28M70.02,571.92L69.62,571.94M62.3,574.73L64.3,573.28M57.14,585.19L55.48,582.05M54.08,579.35L54.45,581.25M58.02,580.47L55.46,581.97M54.45,581.25L55.46,581.97M55.46,581.97L55.48,582.05M93.37,524.21L94.99,525.01M93.37,524.21L93.12,522.04M94.99,525.01L97.51,524.48M92.36,525.19L93.37,524.21M95.21,528.57L94.99,525.01M91.13,521.05L93.12,522.04M98.46,520.54L97.2,522.42M76.85,564.22L78.59,565.41M76.85,564.22L74.93,566.39M78.59,565.41L77.94,567.77M77.07,568.34L77.94,567.77M79.6,564.91L78.59,565.41M72.98,566.03L74.93,566.39M80.7,569.38L77.94,567.77M76.72,568.87L77.07,568.34M28.69,574.31L25.77,576.12M29.76,576.89L28.17,578.51M28.17,578.51L25.47,577.34M25.47,577.34L25.77,576.12M28.13,581.19L28.17,578.51M31.45,578.92L31.55,580.13M31.45,578.92L29.76,576.89M23.98,580.72L26.76,581.96M38.61,573.74L39.04,570.65M38.61,573.74L36.56,574.53M36.56,574.53L36.16,574.45M35.18,572.26L36.16,574.45M38.5,577.88L34.53,577.84M38.5,577.88L36.56,574.53M34.29,577.43L34.53,577.84M36.16,574.45L34.1,576.32M31.17,575.08L34.1,576.32M26.76,581.96L26.46,584.4M28.56,581.32L30.6,583.5M51.96,568.78L53.13,565.5M49.61,566.26L52.44,563.84M52.44,563.84L53.13,565.5M49.83,562.26L52.46,562.52M52.44,563.84L52.46,562.52M53.02,559.87L53,562.06M53,562.06L52.46,562.52M47.87,576.91L47.73,575.05M46.21,572.16L46.97,574.41M46.97,574.41L47.73,575.05M49.26,583.07L48.68,581.88M54.45,581.25L53.67,581.48M49.8,578.16L49.67,580.26M46.45,581.54L48.68,581.88M33.97,571.59L32.24,572.79M33.97,571.59L33.62,570.04M30.26,568.84L31.85,568.46M31.17,575.08L32.24,572.79M35.88,568.58L33.62,570.04M28.29,573.48L30.63,571.29M32.93,566.19L31.85,568.46M57.01,561.7L59.02,564.49M54.65,562.35L56.12,565.96M58.92,565.17L59.02,564.49M58.92,565.17L56.57,566.27M56.57,566.27L56.12,565.96M57.52,560.33L57.01,561.7M61.84,562.05L59.02,564.49M53.13,565.5L56.12,565.96M61.18,567.55L58.92,565.17M55.64,569.33L56.57,566.27M46.97,574.41L44.52,574.96M44.52,574.96L42.44,573.49M38.61,573.74L41.07,574.94M47.87,576.91L45.8,578.24M44.52,574.96L44.08,577.69M45.8,578.24L44.08,577.69M46.45,581.54L45.95,580.74M45.8,578.24L45.95,580.74M42.42,583.67L41.87,580.85M45.95,580.74L41.87,580.85M41.07,575.96L43.43,577.8M41.82,580.77L39.03,579.93M44.08,577.69L43.43,577.8M38.5,577.88L38.88,578.16M41.87,580.85L41.82,580.77M37.33,581.55L39.03,579.93" fill="none" stroke="#2ec82e" stroke-width="0.54" stroke-linecap="round" opacity="0.7"/>
<path d="M23.93,570.99L20.85,573.42M19.9,563.71L22.09,562.63M35.85,540.85L38.9,540.21M72.52,556.88L72.06,556.3M81.97,524.61L80.41,525.63M114.33,554.17L118.24,554.5M121.58,567.29L118.3,567.86M114.27,568.53L111.51,568.97M107.88,566.81L109.86,565.95M109.96,570.53L111.51,568.97M107.65,568.33L107.88,566.81M115.26,559.63L116.3,562.06M26.21,562.79L26.44,562.96M24.95,554.18L25.95,555.53M27.78,555.28L29.33,552.58M30.17,552.23L31.75,554.59M24.86,550.23L24.83,549.52M35.22,559.25L34.12,558.45M84.32,565.84L87.2,563.77M19.41,577.09L22.03,577.63M47.94,550.95L45.56,553.61M32.38,531.26L31.62,528.45M30.93,539.21L28.45,540.66M39.5,540.9L38.9,540.21M81.62,516.78L82.23,517.48M80.14,521.22L80.17,520.61M86.86,523.14L86.95,519M71.13,542.65L71.39,544.02M68.22,549.31L70.66,550.92M68.51,548.02L72.7,546.87M70.93,552.42L68.83,554.16M74.92,550.55L71.31,550.54M76.44,545.8L76.36,545.01M78.93,543.05L80.35,544.6M79.48,552.15L80.14,550.41M75.88,554.01L76.39,552M79.89,555.04L79.53,552.24M83.8,550.08L80.14,550.41M62.67,533.02L64.54,531.12M67.37,529.58L65.62,531.21M70.32,531.66L69.32,532.83M93.79,562.52L90.38,562.36M89.87,562.01L89.9,560.63M98,575.33L97.25,577.7M92.93,573.26L95.14,574.13M90.72,539.58L93.92,539.36M96.76,542.73L97.5,540.68M76.57,522.48L76.17,522.96M80.41,525.63L79.64,525.07M80.14,521.22L79.23,522.22M65.52,526.14L65.65,526.67M74.35,522.85L73.03,523.69M73.67,533.57L70.45,531.62M73.82,534.13L73.67,533.57M71.53,535.77L69.32,532.83M101.11,536.11L102.72,539M88.53,531.78L88.15,534.73M100.52,517.4L102.49,518.71M96.68,515.94L96.85,518.98M105.66,541.48L104.21,541.77M120.08,571.66L117.55,574.41M120,576.08L119.51,577.82M118.67,581.58L117.91,578.63M114.93,578.4L113.14,576.62M98.44,563.04L100,561.55M37.11,558.43L38.95,560.06M39.15,549.1L36.39,549.27M81.86,561.25L83.3,561.91M27.49,534.64L26.41,533.64M29.13,530.61L26.07,531.28M26.07,531.28L25.71,531.04M22.49,533.36L22.88,531.2M21.7,528.84L22.45,530.79M40.24,540.76L43.54,542.26M46.35,548.43L47.43,549.81M22.08,528.29L22.5,525.6M41.27,521.34L41.63,518.47M114.97,516.92L118.33,516.43M63.53,539.81L61.4,537.86M49.97,524.14L52.85,524.78M53.38,518.39L52.7,519.48M47.51,515.23L50.05,516.35M60.56,542.3L59.45,544.4M59.48,540.43L59.97,537.92M35.22,559.25L35.95,562.2M94.15,558.76L94.5,558.6M93.27,554.56L93.1,552.71M98.5,552.66L96.51,555.48M99.59,550.01L99.82,549.83M104.77,561.59L104.65,559.67M108.44,554.31L108.49,552.75M109.5,552.04L108.49,552.75M102.54,550.9L104.49,548.94M106.48,551.19L106.37,549.41M100.77,530.72L102.37,531.53M105.56,538.16L104.98,535.18M89.72,578.33L90.89,580.31M90.68,581.31L90.89,580.31M90.89,580.31L93.89,579.99M108.63,575.39L110.61,574.66M106.77,572.78L109.95,570.58M103.93,573.14L103.61,574.77M108.59,576.41L110.48,578.24M120.5,546.97L118.85,543.76M87.2,563.77L88.42,567.84M43.65,537.47L45,539.85M47.17,540.22L47.22,540.29M48.82,550.03L52.06,552.02M53.52,549.88L52.44,547.87M47.84,544.67L50.82,546.9M55.99,552.7L57.45,549.07M55.99,552.7L52.84,552M53.3,543.42L53.24,543.13M30.14,519.53L30.96,521.66M32.47,516.14L32.36,516.83M38.58,525.26L40.67,525.2M46.16,524.77L44.07,525.58M25.63,524.26L25.72,524.77M30.06,526.25L26.94,525.38M114.76,529.13L114.43,528.59M120.75,520.08L121.04,521.41M112.97,517.99L113.66,522.01M107.49,517.68L110.12,519.38M71.76,516.46L69.73,516.01M74.03,540.28L73.78,539.67M58.62,530.82L58.6,532.94M55.15,537.9L52.91,536.15M53.68,541.49L51.05,539.34M49.65,536.93L50.7,537.32M23.19,581.18L23.98,580.72M97.93,581.78L101.66,580.47M97.98,579.06L101.42,578.56M91.86,551.5L91.44,551.22M106.37,549.41L106.77,548.94M106.77,548.94L110.39,548.56M106.55,545.24L106.52,545.26M77.75,540.39L77.43,537.27M106.14,524.5L106.64,528.22M90.51,519.58L91.23,518.14M105.86,538.35L108.5,538.37M106.82,534.13L109.37,537.24M94.44,580.66L94.02,582.7M75.51,561.06L75.63,561.47M70.46,562.31L70.34,561.9M61.25,553.71L59.46,552.8M56.69,555.85L56.51,556.02M22.3,574.91L24.59,574.3M26.62,564.97L28.18,566.02M30.66,562.41L29.58,565.1M85.66,571.97L84.46,571.64M89.13,573.95L87.26,574.64M90.81,566.08L92.07,566.63M81.85,556.5L84.42,556.8M89.07,556.22L88.54,557.85M53.37,575.39L54.94,576.31M87.88,578.36L86.86,575.36M84.23,571.77L82.76,574.98M41.63,518.47L39.66,518.34M36.38,511.99L37.07,515.29M43.48,528.87L42.18,528.35M34.27,528.26L34.75,531.01M51.82,556.63L51.82,557.96M67.67,581.21L64.32,580.49M68.8,580.97L67.67,581.21M54.08,579.35L55.14,576.7M90.34,549.91L89.12,546.94M92.72,547.43L89.12,546.94M91.39,550.93L90.34,549.91M86.14,549.6L86.78,548.95M100.29,521.4L98.46,520.54M92.31,527.67L94.79,528.68M114.76,540.83L112.66,539.75M118.38,542.24L117,539.48M80.7,569.38L82.38,567.83M76.66,571.91L73.15,575M76.66,571.91L76.5,571.54M73.8,570.96L76.5,571.54M73.8,570.96L72.56,568.56M65.87,563.51L67.79,561.14M63.53,562.51L65.24,558.91M88.95,552.59L87.65,551.8M58.62,577.36L58.63,576.87M62.3,574.73L60.03,573.64M56.16,571.36L55.58,569.41M79.01,573.73L78.14,574.48M72.22,578.64L74.08,576.82M120.75,520.08L122.25,518.71M68.37,517.33L66.36,514.57M61,518.83L62.24,520.14M51.08,571.97L51.82,568.83M72.22,578.64L69.36,577.46M72.45,574.68L69.33,576.88M66.36,574.84L64.3,573.28M69.33,576.88L66.78,574.83M94.14,521.36L97.2,522.42M28.56,581.32L31.55,580.13M26.76,581.96L28.13,581.19M37.75,570.28L35.18,572.26M31.45,578.92L34.29,577.43M37.33,581.55L37.93,583.92M33.78,581.59L32.74,583.78M49.67,580.26L48.68,581.88M30.63,571.29L30.26,568.84M57.01,561.7L54.65,562.35M41.07,574.94L42.44,573.49M41.07,575.96L38.88,578.16" fill="none" stroke="#2ec82e" stroke-width="0.66" stroke-linecap="round" opacity="0.95"/>
<ellipse cx="35.05" cy="550.65" rx="1.08" ry="2.59" fill="#3cf03c" opacity="0.85" transform="rotate(4.12 35.05 550.65)"/>
<ellipse cx="111.71" cy="546.03" rx="0.62" ry="2.21" fill="#3cf03c" opacity="0.85" transform="rotate(-27.29 111.71 546.03)"/>
<ellipse cx="42.09" cy="567.69" rx="0.98" ry="2.71" fill="#3cf03c" opacity="0.85" transform="rotate(11.45 42.09 567.69)"/>
<ellipse cx="76.16" cy="541.38" rx="0.61" ry="2.1" fill="#3cf03c" opacity="0.85" transform="rotate(-28.27 76.16 541.38)"/>
<ellipse cx="50.58" cy="521.03" rx="0.93" ry="1.57" fill="#3cf03c" opacity="0.85" transform="rotate(-9.68 50.58 521.03)"/>
<ellipse cx="65.38" cy="571.51" rx="1.14" ry="3" fill="#3cf03c" opacity="0.85" transform="rotate(0.82 65.38 571.51)"/>
<ellipse cx="93.73" cy="564.01" rx="0.84" ry="3.38" fill="#3cf03c" opacity="0.85" transform="rotate(-6.11 93.73 564.01)"/>
<ellipse cx="103.5" cy="544.09" rx="1.09" ry="2.47" fill="#3cf03c" opacity="0.85" transform="rotate(-13.42 103.5 544.09)"/>
<ellipse cx="46.07" cy="576.32" rx="1.12" ry="3.14" fill="#3cf03c" opacity="0.85" transform="rotate(13.03 46.07 576.32)"/>
<path d="M52.84,552h0.01M90.34,549.91h0.01M98.48,564.88h0.01M32.66,542.66h0.01M61.25,553.71h0.01M58.63,576.87h0.01M85.45,528.45h0.01M113.45,552.64h0.01M82.38,567.83h0.01M74.93,566.39h0.01M94.92,519.71h0.01M49.61,566.26h0.01M39.66,518.34h0.01M46.6,558.96h0.01M57.12,548.8h0.01M71.19,523.61h0.01M97.39,580.4h0.01M31.85,568.46h0.01M98,575.33h0.01M58.45,528.78h0.01M86.95,519h0.01M78.28,561.62h0.01M72.04,580.64h0.01M50.82,546.9h0.01M79.98,563.43h0.01M29.56,531.37h0.01M56.57,566.27h0.01M100.87,530.22h0.01M51.82,556.63h0.01M86.86,575.36h0.01M94.14,521.36h0.01M41.47,544.12h0.01M52.6,552.14h0.01M93.94,577.72h0.01M110.12,557.81h0.01M65.65,526.67h0.01M47.27,558.81h0.01M25.05,542.84h0.01M39.15,549.1h0.01M73.8,570.96h0.01M42.92,566.19h0.01M38.95,560.06h0.01M27.37,545.22h0.01M82.76,574.98h0.01M56.12,565.96h0.01M100.95,573.42h0.01M77.39,580.27h0.01M28.69,574.31h0.01M43.13,554.18h0.01M54.22,522.65h0.01M62.39,520.67h0.01M61.19,567.58h0.01M48.82,550.03h0.01M90.3,537.97h0.01M79.23,522.22h0.01M24.37,546.88h0.01M71.07,542.62h0.01M81.02,559.5h0.01M73.03,523.69h0.01M71.7,573.25h0.01M29.13,530.61h0.01M47.96,537.99h0.01M103.53,568.66h0.01M49.08,555.59h0.01M45.56,553.61h0.01M27.49,534.64h0.01M83.8,550.08h0.01M33.97,571.59h0.01M115.82,520.92h0.01M30.24,533.37h0.01M113.66,522.01h0.01M63.92,535.1h0.01M53.3,543.42h0.01M81.85,556.5h0.01M52.77,530.99h0.01M36.39,549.22h0.01M28.92,541.95h0.01M94.35,565.29h0.01M64.8,546.15h0.01M73.6,519.91h0.01M37.53,533.18h0.01M104.49,548.94h0.01M24.95,554.18h0.01M56.16,545.38h0.01M51.79,527.22h0.01M39.71,556.68h0.01M102.72,539h0.01M106.37,549.41h0.01M67.1,550.01h0.01M70.66,550.92h0.01M52.32,533.21h0.01M35.95,562.2h0.01M91.44,551.22h0.01M92.92,558.09h0.01M82.58,580.14h0.01M76.85,564.22h0.01M46.16,524.77h0.01M25.27,541.25h0.01M57.79,524.65h0.01M86.91,518.97h0.01M58.9,525.75h0.01M69.33,576.88h0.01M100,561.55h0.01M83.37,552.79h0.01M60.37,568.69h0.01M59.45,544.4h0.01M59.05,572.2h0.01M63.21,528.69h0.01M69.32,532.83h0.01M32.24,572.79h0.01M65.33,567.95h0.01M103.08,563.2h0.01M107.49,517.68h0.01M93.79,562.52h0.01M72.06,559.91h0.01M53.68,541.49h0.01M72.56,568.56h0.01M54.99,530.59h0.01M86.56,523.44h0.01M76.17,522.96h0.01M29.58,565.1h0.01M80.82,570.58h0.01M87,531.34h0.01M55.58,569.41h0.01M48.38,534.15h0.01M101.7,578.17h0.01M105.39,545.26h0.01M80.16,540.17h0.01M58.3,528.34h0.01M49.8,578.16h0.01M41.07,574.94h0.01M37.11,558.43h0.01M111.41,554.96h0.01M84.61,533.04h0.01M103.61,574.77h0.01M54.57,530.41h0.01M95.81,534.86h0.01M110.29,579.98h0.01M27.06,543.94h0.01M104.49,565.87h0.01M23.75,543.67h0.01M23.73,535.19h0.01M49.83,562.26h0.01M53.38,518.39h0.01M72.6,568.51h0.01M46.42,517.95h0.01M97.25,577.7h0.01M30.96,521.66h0.01M82.51,579.9h0.01M75.24,580.51h0.01M103.67,527.39h0.01M117.8,531.25h0.01M84.46,571.64h0.01M83.17,547.38h0.01M52.44,563.84h0.01M57.15,541.17h0.01M41.42,533.91h0.01M80.7,569.38h0.01M93.89,579.99h0.01M54.08,579.35h0.01M72.61,554.01h0.01M73.82,534.13h0.01M37.65,544.3h0.01M80.03,546.65h0.01M99.59,550.01h0.01M52.53,556h0.01M109.83,526.68h0.01M24.83,567.34h0.01M107.36,542.64h0.01M102.59,535.26h0.01M41.57,569.22h0.01M39.26,566.83h0.01M32.58,550.56h0.01M68.81,557.9h0.01M66.36,574.84h0.01M30.06,526.25h0.01M42.64,561.39h0.01M110.48,578.24h0.01M65.87,563.51h0.01M54.11,522.76h0.01M102.3,572.6h0.01M100.65,575.25h0.01M40.78,557.31h0.01M80.45,527.3h0.01M104.72,577.99h0.01M90.72,539.58h0.01M118.46,553.46h0.01M84.52,528.34h0.01M88.44,555.05h0.01M87.89,527.11h0.01M74.89,518.58h0.01M38.4,522.22h0.01M98.71,545.81h0.01M91.86,551.5h0.01M26.41,533.64h0.01M94.84,546.6h0.01M60.82,559.47h0.01M62.08,532.99h0.01M74.86,529.4h0.01M107.65,568.33h0.01M45.36,553.59h0.01M111.28,561.67h0.01M43.66,528.74h0.01M100.21,568.49h0.01M25.71,531.04h0.01M43.22,530.35h0.01M109.25,541.08h0.01M92.97,534.59h0.01M109.5,552.04h0.01M81.97,524.61h0.01M113.39,534.51h0.01M79.48,552.15h0.01M50.34,577.97h0.01M40.8,557.36h0.01M61.6,542.43h0.01M59.77,571.49h0.01M90.26,530.85h0.01M51.96,568.78h0.01M76.6,525.51h0.01M42.76,572.09h0.01M66.51,518.68h0.01M47.99,568.82h0.01M64.18,572.4h0.01M50.67,528.19h0.01M63.53,539.81h0.01M90.02,543.54h0.01M89.87,562.01h0.01M74.68,547.65h0.01M75.5,562.52h0.01M43.54,542.26h0.01M85.65,558.49h0.01M68.22,549.31h0.01M34.08,544.13h0.01M72.52,556.88h0.01M114.58,523.67h0.01M25.84,527.57h0.01M91.66,531.78h0.01M28.46,558.77h0.01M109,527.99h0.01M106.55,545.24h0.01M102.54,550.9h0.01M84,532.9h0.01M78.59,565.41h0.01M69.37,556.31h0.01M71.77,560.06h0.01M39.22,541.73h0.01M42.51,550.05h0.01M52.06,552.02h0.01M42.56,558.58h0.01M44.85,519.21h0.01M114.08,545.41h0.01M70.32,531.66h0.01M25.63,524.26h0.01M80.64,534.02h0.01M49.67,580.26h0.01M33.81,533.13h0.01M103.14,564.06h0.01M113.55,572.6h0.01M110.47,530.33h0.01M90.41,542.96h0.01M38.11,545.28h0.01M34.75,531.01h0.01M118.68,543.64h0.01M24.65,519.19h0.01M62.13,528.37h0.01M114.27,568.53h0.01M116.55,524.75h0.01M104.98,535.18h0.01M34.27,528.26h0.01M55.15,524.84h0.01M102.23,547.43h0.01M34.53,577.84h0.01M61.84,562.05h0.01M27.86,548.58h0.01M53.52,549.88h0.01M72.74,565.42h0.01M81.86,561.25h0.01M78.69,540.68h0.01M81.33,534.24h0.01M55.15,537.9h0.01M47.43,549.81h0.01M114.09,550.85h0.01M94.99,525.01h0.01M118.16,561.77h0.01M93.27,554.56h0.01M71.39,544.02h0.01M40.7,552.23h0.01M106.14,524.5h0.01M44.22,550.75h0.01M31.2,537.01h0.01M88.42,567.84h0.01M87.33,540.12h0.01M30.93,539.21h0.01M32.81,541.49h0.01M73.15,575h0.01M64.14,578.63h0.01M72.06,556.3h0.01M107.86,521.37h0.01M117.55,574.41h0.01M36.16,574.45h0.01M55.99,552.7h0.01M37.68,519.97h0.01M68.87,567.32h0.01M94.3,562.1h0.01M87.2,563.77h0.01M76.96,528.51h0.01M30.85,542.98h0.01M71.4,569.03h0.01M97.67,571.41h0.01M57.82,536.75h0.01M46.27,521.83h0.01M44.89,544.16h0.01M32.81,565.92h0.01M37.49,557.06h0.01M88.54,557.85h0.01M67.92,536.67h0.01M38.66,529.12h0.01M107.76,523.87h0.01M98.75,569.75h0.01M26.25,526.87h0.01M94.24,568.85h0.01M100.77,530.72h0.01M23.59,537.34h0.01M73.51,575.55h0.01M66.7,569.27h0.01M45.2,563.93h0.01M38.09,525.73h0.01M93.23,517.25h0.01M93.49,530.72h0.01M110.05,520.71h0.01M66.78,574.83h0.01M106.52,545.26h0.01M77.94,567.77h0.01M44.07,525.58h0.01M26.21,562.79h0.01M95.21,528.57h0.01M101.66,520.71h0.01M52.85,524.78h0.01M113.78,525.23h0.01M47.84,544.67h0.01M77.75,540.39h0.01M59.94,537.89h0.01M40.24,540.76h0.01M118.24,554.5h0.01M113.41,564.2h0.01M79.01,573.73h0.01M113.04,530.37h0.01M23.95,559.16h0.01M38.58,525.26h0.01M83.81,522.65h0.01M99.16,525.58h0.01M101.2,543.82h0.01M95.45,555.47h0.01M57.16,572.31h0.01M51.08,571.97h0.01M116.9,569.44h0.01M38.61,573.74h0.01M28.17,578.51h0.01M113.89,550.29h0.01M110.67,544.59h0.01M75.51,561.06h0.01M42.95,537.81h0.01M85.66,571.97h0.01M57.19,572.31h0.01M38.65,570.29h0.01M77.07,568.34h0.01M69.36,577.46h0.01M107.88,566.81h0.01M109.87,555.29h0.01M68.57,565.47h0.01M102.33,568.95h0.01M76.39,552h0.01M38.9,540.21h0.01M61.39,525.57h0.01M86.14,549.6h0.01M24.61,566.31h0.01M53.02,559.87h0.01M108.63,575.39h0.01" fill="none" stroke="#3a62e0" stroke-width="1" stroke-linecap="round" opacity="0.8"/>
<rect x="103.1" y="577.1" width="12.9" height="0.9" fill="#ffffff" stroke="none" stroke-width="1"/>
<rect x="106.2" y="574.1" width="7.6" height="2.4" fill="#9a9a9a" stroke="none" stroke-width="1"/>
</g>
<clipPath id="clip10"><rect x="121.2" y="452.2" width="95.8" height="63.4"/></clipPath>
<g clip-path="url(#clip10)">
<rect x="121.2" y="452.2" width="95.8" height="63.4" fill="#000" stroke="none" stroke-width="1"/>
<path d="M165.17,469.01L162.69,475.63M170,468.8L170.48,469.08M156.46,468.66L156.82,473.11M156.82,473.11L160.34,476.72M176.34,474.31L171.98,471.87M180.2,470.32L176.96,464.86M144.16,469.67L144.05,462.5M139.74,476.47L144.67,470.93M144.76,470.57L144.16,469.67M135.15,469.3L136.65,468.65M152.14,466.81L151.26,464.03M149.48,469.86L144.76,470.57M132.65,516.64L139.28,523.83M131.12,516.12L132.65,516.64M176.45,515.55L171.31,520.5M168.74,516.35L171.17,513.18M174.88,500.07L174.13,503.66M174.13,503.66L178.03,506.8M178.04,498.77L183.82,499.81M173.37,494.47L173.08,496.82M178.04,498.77L180.16,491.79M184.42,493.28L181.01,491.63M184.42,493.28L185.04,496.44M180.16,491.79L181.01,491.63M152.06,513.15L150.93,512.97M152.06,513.15L155.98,509.42M150.93,512.97L150.23,505.45M150.23,505.45L151.22,505.18M161.78,516.66L157.91,517.5M157.91,517.5L153.9,525.98M161.6,462.15L169.79,461.98M149.48,469.86L151.22,474.04M144.67,470.93L146.58,474.6M156.82,473.11L151.85,474.76M161.3,476.58L165.39,482.38M168.24,476.7L170.43,481.07M146.04,498.92L145.43,498.35M144.33,505.89L138.36,503.98M138.36,503.98L138.03,499.31M138.96,491.78L135.41,494.97M143.63,511.77L144.33,505.89M150.23,505.45L145.93,504.58M204.4,517.35L206.13,519.22M123.24,512.05L122.19,516.81M121.11,517.39L122.19,516.81M122.92,524.15L121.11,517.39M196.83,504.25L192.98,506.02M184.92,504.17L191.67,505.01M191.67,505.01L191.67,497.75M215.43,519.87L218.88,516.42M205.92,506.61L207.86,511.8M176.45,515.55L180.15,520.5M192.98,506.02L191.67,505.01M178.03,506.8L177.96,510.66M177.96,510.66L182.22,512.75M170.64,511.99L163.99,508.78M170.64,511.99L171.46,504.6M171.17,513.18L170.64,511.99M161.65,514.47L163.99,508.78M173.08,496.82L165.74,497.49M159.48,504.35L155.99,507.01M146.48,516.3L141.95,523.3M151.85,474.76L150.45,480.62M157.1,481.28L151.86,481.52M171.92,481.8L172.04,486.06M171.92,481.8L176.03,479.21M176.34,474.31L176.03,479.21M178.65,472.94L183.68,476.44M183.41,478.68L178.22,480.6M116.44,485.71L119.68,485.52M117.46,476.35L123.16,480.2M135.12,480.08L134.68,485.11M135.12,480.08L139.84,477.77M139.05,487.71L143.52,483.69M131.67,473.02L134.85,470.69M131.54,478.38L135.12,480.08M119.26,469.86L125.62,467.23M125.94,467.37L127.54,472.33M123.15,461.21L125.62,467.23M127.06,480.82L124.51,479.8M161.3,461.39L158.93,459.21M151.86,462.97L151.26,464.03M156.46,459.21L158.93,459.21M136.08,455.73L140.37,453.29M132.52,449.08L131.58,453.52M131.58,453.52L136.08,455.73M119.7,507.21L125.49,506.26M125.49,506.26L125.02,500.98M214.24,486.28L213.34,486.36M218.28,490.62L215.98,493.52M193.96,494.86L196.8,500.81M210.34,503.69L215.38,508.47M218,500.84L218.16,505.86M205.92,506.61L210.34,503.69M203.39,499.08L209.64,496.92M209.49,494.89L211.49,492.62M222.89,493.17L218.28,490.62M223.83,497.99L218,500.84M220.4,507.15L218.16,505.86M129.84,460.54L130.71,454.08M123.07,456.8L123.34,460.91M131.58,453.52L130.71,454.08M123.15,461.21L123.34,460.91M164.62,484.11L169.43,488.03M164.62,484.11L160.93,486.79M163.92,492.58L167.95,490.62M165.39,482.38L164.62,484.11M157.1,481.28L158.93,484.75M158.93,484.75L160.93,486.79M155.26,492.45L154.88,498.29M153.06,488.81L151.83,484.29M152.87,490.75L150.05,491.27M151.86,481.52L151.83,484.29M143.52,483.69L147.08,488.85M143.69,493.49L147.58,490.48M138.96,491.78L139.05,487.71M123.24,491.92L122.03,488.36M135.41,494.97L129.63,491.96M120.13,494.82L123.24,491.92M126.84,499.99L125.02,500.98M212.62,448.25L210.66,450.23M206.15,459.89L210.43,465.59M206.15,459.89L207.16,455.93M186.49,468.32L182.66,462.99M182.66,462.99L186.64,458.42M180.2,470.32L186.49,468.32M186.83,457.23L186.64,458.42M187.79,456.78L192.16,457.52M134.53,509.67L135.89,505.63M135.89,505.63L131.31,502.3M131.12,516.12L131.33,511.64M130.86,501.05L131.31,502.3M138.36,503.98L135.89,505.63M213.34,486.36L211.04,485.64M211.72,478.77L209.48,480.8M203.39,499.08L200.76,495.29M200.76,495.29L206.39,491.46M196.8,500.81L199.89,494.83M200.76,495.29L199.89,494.83M211.04,485.64L206.14,487.52M189.38,474.89L187.8,482M169.82,455.78L170.48,454.98M169.79,461.98L169.82,455.78M182.41,449.83L184.48,456.16M177.76,461.61L177.73,458.25M198.8,461.2L195.91,462.76M192.16,457.52L195.14,454.73M195.14,454.73L198.7,456.19M198.8,461.2L202.54,462.61M209.68,473.75L212.85,474.14M202.54,462.61L202.74,468.57M219.2,464.36L215.39,470.17M209.48,480.8L204.19,477.5M215.7,480.56L218.99,476.78M218.99,476.78L218.87,474.8M218.99,476.78L222.66,482.08M196.02,485.19L198.07,487.4M188.24,490.66L188.35,484.97M188.24,490.66L194.71,493.28M194.71,493.28L196.8,492.26M187.83,467.47L195.04,468.23M195.72,468.08L195.04,468.23M195.68,480.25L203.81,477.87M194.77,479.03L194.23,476.65M187.8,482L194.77,479.03M202.3,485.88L203.81,477.87M191.14,475.09L194.23,476.65M147.24,455.51L146.96,450.37M195.14,454.73L194.56,451.26" fill="none" stroke="#27dc27" stroke-width="0.5" stroke-linecap="round" opacity="0.75"/>
<path d="M165.17,469.01L170,468.8M170.48,469.08L171.98,471.87M171.98,471.87L168.24,476.7M162.69,475.63L168.24,476.7M165.17,469.01L161.51,465.41M156.46,468.66L161.51,465.41M160.34,476.72L161.3,476.58M170.48,469.08L176.96,464.86M178.65,472.94L180.2,470.32M178.65,472.94L176.34,474.31M204.4,517.35L199.86,518.95M204.4,517.35L205.54,514.65M199.79,510.99L205.54,514.65M199.79,510.99L195.52,512.12M195.52,512.12L195.9,517.31M199.86,518.95L195.9,517.31M141.53,461.91L143.36,461.72M141.53,461.91L136.65,468.65M136.65,468.65L144.16,469.67M144.05,462.5L143.36,461.72M139.74,476.47L134.85,470.69M144.67,470.93L144.76,470.57M135.15,469.3L134.85,470.69M152.14,466.81L149.48,469.86M151.26,464.03L144.05,462.5M132.65,516.64L138.78,516.25M141.36,523.39L138.78,516.25M131.12,516.12L129.69,517.74M195.9,517.31L192.44,519.25M163.15,523.37L161.79,516.67M171.31,520.5L168.74,516.35M161.79,516.67L168.74,516.35M176.45,515.55L175.78,513.3M175.78,513.3L171.17,513.18M174.88,500.07L178.04,498.77M178.03,506.8L184.8,504.29M184.8,504.29L184.92,504.17M184.92,504.17L183.82,499.81M174.88,500.07L173.08,496.82M173.37,494.47L176.73,491.1M176.73,491.1L180.16,491.79M185.04,496.44L183.82,499.81M155.98,509.42L155.99,507.01M161.78,516.66L161.65,514.47M161.65,514.47L155.98,509.42M152.06,513.15L155.15,516.69M157.91,517.5L155.15,516.69M176.96,464.86L177.56,461.88M177.56,461.88L169.85,462.05M161.51,465.41L161.6,462.15M169.85,462.05L169.79,461.98M151.22,474.04L146.58,474.6M156.46,468.66L152.14,466.81M151.22,474.04L151.85,474.76M146.04,498.92L145.93,504.58M144.33,505.89L145.93,504.58M143.69,493.49L145.43,498.35M143.69,493.49L138.96,491.78M135.41,494.97L135.45,495.73M135.45,495.73L138.03,499.31M146.52,514.46L150.93,512.97M218.88,516.42L221.58,518M123.24,512.05L119.81,509.05M118.3,517.18L121.11,517.39M116.7,503.79L119.7,507.21M118.78,498.99L120.13,494.82M199.79,510.99L203.64,505.24M195.52,512.12L193.12,508.15M203.64,505.24L202.41,503.86M202.41,503.86L196.83,504.25M193.12,508.15L192.98,506.02M185.04,496.44L191.67,497.75M218.88,515.52L214.49,510.59M213.58,518.86L209.27,511.98M205.54,514.65L207.86,511.8M203.64,505.24L205.92,506.61M209.27,511.98L207.86,511.8M132.07,464.82L135.15,469.3M132.07,464.82L132.15,463.46M141.53,461.91L137.11,460.06M132.15,463.46L137.11,460.06M188.16,512.44L184.87,510.88M188.16,512.44L187.92,515.29M184.87,510.88L182.22,512.75M193.12,508.15L188.16,512.44M184.8,504.29L184.87,510.88M192.44,519.25L187.92,515.29M182.15,519.31L183.39,516.79M177.96,510.66L175.78,513.3M167.62,504.05L163.94,506.63M167.62,504.05L171.46,504.6M163.94,506.63L163.99,508.78M174.13,503.66L171.46,504.6M164.16,496.09L165.74,497.49M164.16,496.09L158.69,500.22M165.74,497.49L167.62,504.05M158.69,500.22L159.48,504.35M159.48,504.35L163.94,506.63M150.84,520.18L146.48,516.3M155.15,516.69L150.84,520.18M146.52,514.46L146.48,516.3M138.78,516.25L140.88,512.54M140.88,512.54L143.63,511.77M146.58,474.6L146.68,480.66M150.45,480.62L146.68,480.66M160.34,476.72L157.1,481.28M150.45,480.62L151.86,481.52M176.03,479.21L178.22,480.6M175.05,488.01L179.77,483.77M175.05,488.01L172.04,486.06M178.22,480.6L179.77,483.77M183.68,476.44L183.41,478.68M176.73,491.1L175.05,488.01M181.01,491.63L182.17,485.25M182.17,485.25L179.77,483.77M123.16,480.2L119.68,485.52M139.84,477.77L144.14,481.62M144.14,481.62L143.52,483.69M139.74,476.47L139.84,477.77M131.67,473.02L131.54,478.38M146.68,480.66L144.14,481.62M119.26,469.86L119.45,471.15M119.45,471.15L125.25,474.33M125.62,467.23L125.94,467.37M127.54,472.33L125.25,474.33M117.67,468.18L119.26,469.86M123.15,461.21L117.15,463.22M117.4,475.91L119.45,471.15M123.16,480.2L124.51,479.8M124.51,479.8L125.25,474.33M131.67,473.02L127.54,472.33M132.07,464.82L125.94,467.37M131.54,478.38L127.06,480.82M161.6,462.15L161.3,461.39M151.86,462.97L156.46,459.21M143.36,461.72L144.82,456.97M137.11,460.06L136.08,455.73M144.82,456.97L140.37,453.29M135.44,447.16L140.46,451.28M118.87,499.36L125.02,500.98M216.51,487.21L218.28,490.62M216.51,487.21L214.24,486.28M213.34,486.36L211.49,492.62M211.49,492.62L215.98,493.52M196.83,504.25L196.8,500.81M210.34,503.69L212.69,499.42M214.6,499.37L212.69,499.42M218.16,505.86L215.38,508.47M214.49,510.59L215.38,508.47M202.41,503.86L203.39,499.08M209.64,496.92L209.49,494.89M215.98,493.52L214.6,499.37M129.84,460.54L123.34,460.91M130.71,454.08L124.62,453.62M124.62,453.62L123.07,456.8M132.15,463.46L129.84,460.54M114.73,455.69L121.79,449.07M114.79,455.81L123.07,456.8M121.9,449.09L124.62,453.62M183.41,478.68L187.17,482.95M182.17,485.25L187.14,483.55M187.14,483.55L187.17,482.95M160.93,486.79L161.34,490.44M161.34,490.44L163.92,492.58M167.95,490.62L169.43,488.03M172.04,486.06L169.43,488.03M164.16,496.09L163.92,492.58M161.34,490.44L155.26,492.45M146.04,498.92L149.17,497.73M149.17,497.73L154.15,498.59M153.06,488.81L152.87,490.75M151.83,484.29L147.08,488.85M150.05,491.27L147.58,490.48M147.58,490.48L147.08,488.85M158.93,484.75L153.06,488.81M155.26,492.45L152.87,490.75M149.17,497.73L150.05,491.27M130.46,486.56L128.75,484.81M130.46,486.56L129.63,491.96M128.75,484.81L122.03,488.36M127.59,492.77L123.24,491.92M127.06,480.82L128.75,484.81M119.68,485.52L122.03,488.36M135.45,495.73L130.86,501.05M130.86,501.05L126.84,499.99M126.84,499.99L127.59,492.77M156.46,459.21L152.25,454.85M152.25,454.85L148.65,455.72M144.82,456.97L147.24,455.51M148.65,455.72L147.24,455.51M210.66,450.23L206.89,447.52M207.16,455.93L209.59,454.81M210.43,465.59L216.4,460.08M219.18,452.96L215.35,457.8M210.66,450.23L209.59,454.81M219.29,461.93L216.4,460.08M187.83,467.47L188.92,464.26M187.83,467.47L186.54,468.33M186.49,468.32L186.54,468.33M177.56,461.88L177.76,461.61M177.76,461.61L182.66,462.99M188.01,473.77L186.54,468.33M193.37,461.23L188.92,464.26M193.37,461.23L192.16,457.52M128.09,509.26L131.33,511.64M123.24,512.05L128.09,509.26M125.49,506.26L127.74,508.4M140.88,512.54L134.53,509.67M214.24,486.28L215.7,480.56M211.72,478.77L215.7,480.56M209.49,494.89L206.39,491.46M206.39,491.46L206.14,487.52M188.01,473.77L189.38,474.89M187.17,482.95L187.8,482M165.09,448.27L160.48,450.9M160.53,451.65L160.48,450.9M160.53,451.65L166.56,456.65M166.56,456.65L169.82,455.78M155.73,448.6L160.48,450.9M158.93,459.21L160.53,451.65M154.88,448.84L152.25,454.85M161.3,461.39L166.56,456.65M178.66,449.83L176,455.65M184.48,456.16L177.73,458.25M177.73,458.25L176,455.65M170.48,454.98L176,455.65M207.16,455.93L203.17,454.13M198.8,461.2L198.7,456.19M202.54,462.61L206.15,459.89M198.7,456.19L203.17,454.13M210.42,465.73L207.34,468.36M210.42,465.73L215.39,470.17M215.39,470.17L215.86,472.98M210.43,465.59L210.42,465.73M211.72,478.77L212.85,474.14M204.19,477.5L209.68,473.75M218.87,474.8L215.86,472.98M222.54,472.99L218.87,474.8M216.51,487.21L222.29,483.46M196.02,485.19L188.35,484.97M198.07,487.4L196.8,492.26M202.3,485.88L206.14,487.52M202.3,485.88L198.07,487.4M199.89,494.83L196.8,492.26M184.42,493.28L188.24,490.66M187.14,483.55L188.35,484.97M193.96,494.86L194.71,493.28M189.38,474.89L191.14,475.09M191.14,475.09L195.04,468.23M195.91,462.76L195.72,468.08M202.74,468.57L200.21,471.04M200.21,471.04L195.72,468.08M195.68,480.25L194.77,479.03M194.23,476.65L200.22,471.46M200.22,471.46L204.04,477.5M203.81,477.87L204.04,477.5M196.02,485.19L195.68,480.25M200.21,471.04L200.22,471.46M204.19,477.5L204.04,477.5M143.61,448.55L146.96,450.37M151.21,447.51L146.96,450.37M140.46,451.28L143.61,448.55M194.56,451.26L199.66,447.66M187.79,456.78L189.43,448.97" fill="none" stroke="#27dc27" stroke-width="0.66" stroke-linecap="round" opacity="0.95"/>
<path d="M162.69,475.63L161.3,476.58M155.99,507.01L151.22,505.18M161.79,516.67L161.78,516.66M170,468.8L169.85,462.05M170.43,481.07L165.39,482.38M145.43,498.35L138.03,499.31M143.63,511.77L146.52,514.46M218.88,515.52L222.2,511.98M218.88,515.52L218.88,516.42M117.95,511.53L119.81,509.05M119.7,507.21L119.81,509.05M129.69,517.74L122.19,516.81M120.13,494.82L114.91,490.4M214.49,510.59L209.27,511.98M187.92,515.29L183.39,516.79M182.22,512.75L183.39,516.79M170.43,481.07L171.92,481.8M139.05,487.71L134.68,485.11M140.37,453.29L140.46,451.28M191.67,497.75L193.96,494.86M214.6,499.37L218,500.84M209.64,496.92L212.69,499.42M173.37,494.47L167.95,490.62M158.69,500.22L154.88,498.29M151.22,505.18L154.15,498.59M154.88,498.29L154.15,498.59M129.63,491.96L127.59,492.77M134.68,485.11L130.46,486.56M151.86,462.97L148.65,455.72M209.59,454.81L215.35,457.8M215.35,457.8L216.4,460.08M188.92,464.26L186.64,458.42M183.68,476.44L188.01,473.77M186.83,457.23L187.79,456.78M128.09,509.26L127.74,508.4M127.74,508.4L131.31,502.3M131.33,511.64L134.53,509.67M211.04,485.64L209.48,480.8M168.53,449.39L170.48,454.98M186.83,457.23L184.48,456.16M201.49,449.48L203.17,454.13M195.91,462.76L193.37,461.23M207.34,468.36L209.68,473.75M212.85,474.14L215.86,472.98M202.74,468.57L207.34,468.36M194.56,451.26L190.82,449.11" fill="none" stroke="#27dc27" stroke-width="1.05" stroke-linecap="round" opacity="1"/>
<path d="M176,455.65h0.01M135.89,505.63h0.01M193.96,494.86h0.01M146.58,474.6h0.01M214.24,486.28h0.01M209.64,496.92h0.01M192.16,457.52h0.01M187.83,467.47h0.01M188.16,512.44h0.01M147.24,455.51h0.01M196.8,492.26h0.01M186.83,457.23h0.01M193.37,461.23h0.01M165.39,482.38h0.01M199.79,510.99h0.01M143.52,483.69h0.01M211.72,478.77h0.01M123.16,480.2h0.01M143.63,511.77h0.01M138.03,499.31h0.01M149.17,497.73h0.01M152.14,466.81h0.01M176.34,474.31h0.01M158.93,484.75h0.01M178.22,480.6h0.01M135.15,469.3h0.01M131.33,511.64h0.01M184.92,504.17h0.01M122.03,488.36h0.01M127.59,492.77h0.01M156.82,473.11h0.01M140.88,512.54h0.01M194.71,493.28h0.01M209.68,473.75h0.01M123.15,461.21h0.01M172.04,486.06h0.01M184.48,456.16h0.01M136.08,455.73h0.01M161.3,476.58h0.01M135.12,480.08h0.01M198.7,456.19h0.01M215.7,480.56h0.01M131.54,478.38h0.01M161.3,461.39h0.01M170.64,511.99h0.01M163.94,506.63h0.01M204.04,477.5h0.01M189.38,474.89h0.01M160.93,486.79h0.01M211.04,485.64h0.01M188.24,490.66h0.01M135.41,494.97h0.01M125.25,474.33h0.01M215.35,457.8h0.01M151.83,484.29h0.01M182.17,485.25h0.01M157.1,481.28h0.01M195.72,468.08h0.01M209.49,494.89h0.01M151.85,474.76h0.01M130.86,501.05h0.01M199.89,494.83h0.01M203.64,505.24h0.01M123.24,512.05h0.01M169.79,461.98h0.01M207.34,468.36h0.01M186.54,468.33h0.01M124.62,453.62h0.01M210.43,465.59h0.01M123.24,491.92h0.01M147.58,490.48h0.01M171.46,504.6h0.01M146.52,514.46h0.01M169.82,455.78h0.01M151.86,481.52h0.01M196.02,485.19h0.01M134.53,509.67h0.01M180.16,491.79h0.01M161.6,462.15h0.01" fill="none" stroke="#3a62e0" stroke-width="1" stroke-linecap="round" opacity="0.8"/>
<rect x="201.1" y="512" width="12.9" height="0.9" fill="#ffffff" stroke="none" stroke-width="1"/>
<rect x="204.2" y="509" width="7.6" height="2.4" fill="#9a9a9a" stroke="none" stroke-width="1"/>
</g>
<clipPath id="clip11"><rect x="121.2" y="517.2" width="95.8" height="63.5"/></clipPath>
<g clip-path="url(#clip11)">
<rect x="121.2" y="517.2" width="95.8" height="63.5" fill="#000" stroke="none" stroke-width="1"/>
<path d="M214.78,556.04L221.79,558.97M214.78,556.04L219.49,552.2M207.26,581.8L208.04,584.35M208.83,576.93L213.48,578.11M181.24,546.27L184.43,547.14M184.43,547.14L186.69,539.14M117.24,533.53L121.41,535.88M159.02,510.04L160.23,516.35M207.26,581.8L200.56,579.68M215.19,541.06L217.56,545.5M213.48,578.11L217.12,575.39M217.12,575.39L220.82,579.16M216.55,573.21L222.86,569.45M216.68,564.6L212.74,568.83M213.65,559.72L208.56,564.04M208.56,564.04L212.74,568.83M208.83,576.93L208.21,573.23M167.8,539.6L168.07,539.27M174.1,547.42L177.44,542.94M177.44,542.94L173.49,538.8M126.98,546.2L122.17,548.01M123.97,540.51L123.19,540.26M116.57,544.28L122.17,548.01M192.41,581.51L195.43,583.9M192.41,581.51L187.51,583.77M155.34,563.33L152.07,565.27M156.31,558.23L156.37,558.41M148.26,557.71L147.74,558.56M140.51,540.12L140.59,542.99M142.79,538.05L148.38,539.98M153.64,543.56L149.22,547.3M153.64,543.56L152.87,539.21M148.31,551.38L149.09,550.69M149.22,547.3L149.09,550.69M156.31,551.86L158.64,546.16M167.8,539.6L162.54,541.61M162.54,541.61L161.63,544.49M169.81,543.9L165.58,549M165.58,549L161.63,544.49M161.63,544.49L158.64,546.16M125.43,531.97L129.31,534.49M129.31,534.49L129.58,537.16M131.81,543.49L127.68,546.63M129.58,537.16L132.6,539.05M174.1,547.42L173.98,548.35M173.98,548.35L178.39,552.15M160.72,566.23L155.34,563.33M156.37,558.41L164.97,560.94M164.66,562.36L164.97,560.94M167.78,571.46L166.67,571.81M167.78,571.46L168.71,567.68M164.66,562.36L168.71,567.68M158.1,519.46L160.43,516.66M151.85,513.42L153.75,519.17M151.26,525.6L155.41,527.19M185.7,565.35L185.86,565.68M168.71,567.68L174.42,564.95M203.93,535.98L206.92,533M212.22,553.85L206.31,551.68M206.13,557.54L206.31,551.68M213.32,556.41L212.84,556.08M202.67,559.32L206.13,557.54M203.8,563.33L208.56,564.04M212.01,548.48L212.22,553.85M217.56,545.5L219.62,546.09M204.14,548.39L206.31,551.68M198.84,531.28L200.37,528.03M195.67,574.78L192.37,580.98M183.32,579.06L188.48,576.48M183.32,579.06L183.27,581.55M175.96,578.63L175.27,584.46M171.12,573.48L171.18,575.97M160.45,584.08L163.4,578.67M179.82,573.8L175.96,578.63M192.46,555.81L199.28,552.53M192.05,547.1L199.33,552.14M191.67,559.82L192.46,555.81M203.09,573.55L205.82,572.24M220.83,521.44L218.18,521.45M218.18,521.45L214.98,518.23M158.89,536.52L162.2,531.41M154.65,532.09L155.41,527.19M174.96,535.52L169.78,531.97M120.71,553.88L122.1,553.97M122.1,553.97L129.25,559.42M155.02,583.14L154.71,578.23M150.02,526.03L148.15,532.44M136.09,534.36L132.3,531.08M140.64,529.57L140.29,528.32M140.29,528.32L134.97,527.62M132.3,531.08L132.77,528.32M129.31,534.49L132.3,531.08M136.36,538.3L136.09,534.36M143.86,533.8L140.64,529.57M166.29,559.29L168.66,558.58M164.97,560.94L166.29,559.29M173.98,548.35L170.31,551.02M174.42,564.95L168.66,558.58M178.94,552.99L175.13,556.79M182.87,554.3L183.27,556.62M183.27,556.62L178.17,562.44M178.17,562.44L175.13,556.79M170.29,556.66L175.13,556.79M184.43,547.14L186.49,550.79M187.64,560.82L191.67,559.82M187.64,560.82L185.7,565.35M147.27,518.05L148.97,514.72M142.42,520.95L141.5,520.05M141.5,520.05L140.45,513.33M132.88,553.17L133.22,554.09M133.22,554.09L140.06,553.8M136.62,546.3L139.87,544.72M132.01,557.87L129.25,559.42M131.81,543.49L136.62,546.3M140.59,542.99L139.87,544.72M132.01,557.87L136.44,562.21M140.06,553.8L141.72,557.36M141.32,566.02L144.71,559.43M144.71,559.43L141.72,557.36M192.05,547.1L192.5,544.14M192.5,544.14L198.4,544.88M210.87,532.89L213.49,527.3M210.87,532.89L216.48,536.01M217.1,527.05L220.35,528.72M215.19,541.06L216.48,536.01M218.18,521.45L217.1,527.05M198.5,519.85L195.94,521.58M195.31,521.38L190.47,514.75M188.63,522.97L184.9,520.98M212.1,521.41L206.49,518.55M206.49,518.55L203.72,521.25M214.98,518.23L212.1,521.41M194.3,565.61L192.73,567.84M194.3,565.61L199.27,567.45M199.27,567.45L198.24,570.4M203.07,565.91L199.27,567.45M117.82,580.14L123.54,577.75M123.54,577.75L122.73,573.66M117.64,571.38L122.73,573.66M111.75,563.53L119.33,564.9M117.64,571.38L119.33,564.9M118.84,556.73L120.65,564.22M147.92,567.29L148.14,570.44M154.71,578.23L152.42,576.17M152.26,573.35L152.42,576.17M128.13,524.96L124.25,526.98M130.97,518.53L135.5,520.53M123.8,517.29L122.99,514.74M120.65,564.22L124.72,564.83M124.09,578.1L129.96,576.82M130.66,577.24L132.15,585.01M201.93,538.99L195.91,537.99M195.91,537.99L195.87,532.14M193.11,529.84L195.87,532.14M174.96,535.52L177.69,533.4M170.6,529.82L164.43,525.4M180.24,508.3L182.78,515.95M182.78,515.95L184.81,517.05M145.18,577.26L145.19,577.23M188.63,522.97L188.85,528.42M193.11,529.84L191.2,530.2M178.2,533.66L184.04,532.07M180.39,525.06L179.84,525.13M179.84,525.13L176.28,527.19M164.43,525.4L167,521.21M167,521.21L162.25,516.75M176.47,516.62L176.38,517.04" fill="none" stroke="#27dc27" stroke-width="0.5" stroke-linecap="round" opacity="0.75"/>
<path d="M207.26,581.8L208.83,576.93M216.78,584.56L213.48,578.11M221.48,564.99L216.68,564.6M213.32,556.41L213.65,559.72M216.68,564.6L213.65,559.72M181.24,546.27L177.65,542.91M186.69,539.14L181.93,539.36M181.93,539.36L177.65,542.91M116.94,543.6L123.19,540.26M160.23,516.35L152.1,512.99M200.56,579.68L197.2,583.73M206.5,543.53L210.51,541.09M206.5,543.53L206.66,545.54M210.51,541.09L215.19,541.06M212.01,548.48L217.56,545.5M216.55,573.21L217.12,575.39M216.55,573.21L212.33,570.58M208.21,573.23L212.33,570.58M167.8,539.6L169.81,543.9M169.81,543.9L174.1,547.42M168.07,539.27L173.49,538.8M126.98,546.2L123.97,540.51M187.51,583.77L183.27,581.55M183.27,581.55L179.83,584.29M155.34,563.33L156.37,558.41M156.31,558.23L148.26,557.71M147.74,558.56L150.83,565.18M152.07,565.27L150.83,565.18M158.89,536.52L158.84,537.02M158.89,536.52L154.65,532.09M154.65,532.09L150.67,534.17M158.84,537.02L152.87,539.21M150.67,534.17L152,538.77M152.87,539.21L152,538.77M140.59,542.99L147.89,545.46M148.38,539.98L152,538.77M147.89,545.46L149.22,547.3M156.31,558.23L157.21,553.38M148.26,557.71L148.31,551.38M149.09,550.69L156.31,551.86M157.21,553.38L156.31,551.86M153.64,543.56L158.64,546.16M158.84,537.02L162.54,541.61M123.97,540.51L129.58,537.16M126.98,546.2L127.68,546.63M181.24,546.27L178.39,552.15M177.44,542.94L177.65,542.91M160.72,566.23L164.66,562.36M160.72,566.23L160.74,570.49M160.74,570.49L166.67,571.81M158.1,519.46L153.75,519.17M160.23,516.35L160.43,516.66M151.26,525.6L152.05,521.23M159.22,526.35L158.1,519.46M185.56,571.02L185.86,565.68M185.7,565.35L177.77,564.71M177.77,564.71L176.93,565.5M176.93,565.5L177.3,571.19M177.3,571.19L179.82,573.8M179.82,573.8L180,573.86M171.12,573.48L167.78,571.46M171.12,573.48L177.3,571.19M174.42,564.95L176.93,565.5M206.5,543.53L202.74,538.83M210.51,541.09L210.63,532.97M206.92,533L210.63,532.97M212.84,556.08L206.13,557.54M212.84,556.08L212.22,553.85M202.61,559.56L202.67,559.32M202.61,559.56L203.8,563.33M204.14,548.39L206.66,545.54M203.93,535.98L198.84,531.28M206.92,533L204.49,527.74M200.37,528.03L204.49,527.74M200.56,579.68L199.91,576.53M183.32,579.06L180,573.86M185.56,571.02L189.18,573.09M189.18,573.09L188.48,576.48M192.37,580.98L188.48,576.48M169.07,580.31L171.18,575.97M169.07,580.31L170.24,583.25M171.18,575.97L175.96,578.63M164.83,578.31L166.67,571.81M164.83,578.31L169.07,580.31M163.4,578.67L164.83,578.31M192.46,555.81L188.25,550.69M188.25,550.69L192.05,547.1M199.28,552.53L199.33,552.14M202.67,559.32L199.28,552.53M191.67,559.82L194.07,561.79M204.14,548.39L201.02,549.95M201.02,549.95L199.33,552.14M203.8,563.33L203.07,565.91M208.21,573.23L205.82,572.24M203.07,565.91L205.82,572.24M199.91,576.53L203.09,573.55M214.98,518.23L215.3,514.67M168.07,539.27L167.6,534.04M159.22,526.35L161.4,527.19M173.49,538.8L174.96,535.52M120.71,553.88L118.02,554.95M118.84,556.73L127.73,561.5M127.73,561.5L129.25,559.42M122.17,548.01L120.71,553.88M127.68,546.63L128.85,549.73M128.85,549.73L122.1,553.97M154.6,570.21L160.16,571.03M163.4,578.67L159.29,574.93M150.67,534.17L148.15,532.44M151.26,525.6L150.02,526.03M142.79,538.05L143.86,533.8M148.15,532.44L143.86,533.8M136.09,534.36L140.64,529.57M134.97,527.62L132.77,528.32M132.6,539.05L136.36,538.3M150.02,526.03L143.09,523.54M143.09,523.54L140.29,528.32M162.61,553.81L165.66,549.16M162.61,553.81L166.29,559.29M170.29,556.66L170.31,551.02M170.29,556.66L168.66,558.58M165.66,549.16L170.31,551.02M157.21,553.38L162.61,553.81M165.58,549L165.66,549.16M178.94,552.99L182.87,554.3M178.39,552.15L178.94,552.99M186.49,550.79L182.87,554.3M186.49,550.79L188.25,550.69M187.64,560.82L183.27,556.62M177.77,564.71L178.17,562.44M152.05,521.23L147.27,518.05M143.09,523.54L142.42,520.95M147.27,518.05L142.42,520.95M135.5,520.53L134.97,527.62M132.88,553.17L136.62,546.3M140.06,553.8L142.84,551.05M142.84,551.05L139.87,544.72M128.85,549.73L132.88,553.17M132.01,557.87L133.22,554.09M148.31,551.38L142.84,551.05M136.44,562.21L141.72,557.36M147.74,558.56L144.71,559.43M150.83,565.18L147.92,567.29M147.92,567.29L141.32,566.02M201.02,549.95L198.4,544.88M202.74,538.83L201.93,538.99M198.4,544.88L201.93,538.99M217.94,535.54L216.48,536.01M213.49,527.3L217.1,527.05M210.63,532.97L210.87,532.89M223.08,538.48L217.94,535.54M198.5,519.85L199.21,515.3M199.21,515.3L195.41,509.74M195.31,521.38L195.94,521.58M204.82,512.86L199.21,515.3M188.63,522.97L195.31,521.38M184.9,520.98L184.81,517.05M187.67,514.79L184.81,517.05M205.47,525.02L203.72,521.25M205.47,525.02L211.53,524.35M211.53,524.35L212.1,521.41M196.18,523.95L200.37,528.03M204.49,527.74L205.47,525.02M198.5,519.85L203.72,521.25M213.49,527.3L211.53,524.35M192.71,571.84L194.88,573.23M192.71,571.84L192.73,567.84M194.88,573.23L198.24,570.4M195.67,574.78L194.88,573.23M189.18,573.09L192.71,571.84M185.86,565.68L192.73,567.84M203.09,573.55L198.24,570.4M119.33,564.9L120.65,564.22M154.6,570.21L152.26,573.35M148.14,570.44L152.26,573.35M123.8,517.29L118.91,521.74M123.8,517.29L129.37,519.68M129.37,519.68L128.13,524.96M130.97,518.53L129.37,519.68M132.77,528.32L128.13,524.96M125.43,531.97L124.25,526.98M118.46,528.81L120.98,526.36M130.97,518.53L132.01,514.36M122.73,573.66L125.63,569.5M125.63,569.5L124.72,564.83M127.73,561.5L127.26,562.44M127.26,562.44L124.72,564.83M136.44,562.21L138.3,565.84M141.32,566.02L139.46,566.75M138.3,565.84L139.46,566.75M138.3,565.84L132.29,567.24M125.63,569.5L130.11,570.97M132.29,567.24L130.11,570.97M124.09,578.1L123.54,577.75M129.96,576.82L130.6,571.68M124.09,578.1L125.47,582.52M125.47,582.52L132.15,585.01M186.69,539.14L187.82,538.58M187.82,538.58L191.41,540.31M191.41,540.31L195.91,537.99M198.84,531.28L195.87,532.14M196.18,523.95L193.11,529.84M181.93,539.36L178.2,533.66M178.2,533.66L177.69,533.4M161.4,527.19L164.43,525.4M169.78,531.97L170.6,529.82M125.47,582.52L122.73,587.41M139.31,568.38L136.98,572.3M136.98,572.3L137.09,576.88M145.04,574.63L145.19,577.23M139.03,579.46L137.09,576.88M139.03,579.46L145.18,577.26M139.46,566.75L139.31,568.38M130.6,571.68L136.98,572.3M130.66,577.24L137.09,576.88M152.42,576.17L145.19,577.23M138.15,583.36L139.03,579.46M148.32,583.98L145.18,577.26M188.85,528.42L191.2,530.2M188.85,528.42L184.42,529.29M191.2,530.2L187.8,538.13M187.8,538.13L184.04,532.07M184.42,529.29L184.04,532.07M180.39,525.06L184.42,529.29M187.82,538.58L187.8,538.13M177.69,533.4L176.28,527.19M176.28,527.19L175.26,526.99M160.43,516.66L162.25,516.75M162.25,516.75L166.95,510.49M171.22,521.97L176.38,517.04M171.22,521.97L168.03,520.93M168.03,520.93L170.02,514.98M175.3,514.73L176.47,516.62M179.84,525.13L176.38,517.04M175.26,526.99L171.22,521.97M167,521.21L168.03,520.93M182.78,515.95L176.47,516.62" fill="none" stroke="#27dc27" stroke-width="0.66" stroke-linecap="round" opacity="0.95"/>
<path d="M214.78,556.04L213.32,556.41M121.41,535.88L123.19,540.26M212.01,548.48L206.66,545.54M212.33,570.58L212.74,568.83M140.51,540.12L142.79,538.05M148.38,539.98L147.89,545.46M121.41,535.88L125.43,531.97M131.81,543.49L132.6,539.05M159.22,526.35L155.41,527.19M152.05,521.23L153.75,519.17M185.56,571.02L180,573.86M202.74,538.83L203.93,535.98M192.41,581.51L192.37,580.98M199.91,576.53L195.67,574.78M202.61,559.56L194.07,561.79M167.6,534.04L162.2,531.41M162.2,531.41L161.4,527.19M167.6,534.04L169.78,531.97M160.74,570.49L160.16,571.03M152.07,565.27L154.6,570.21M160.16,571.03L159.29,574.93M159.29,574.93L154.71,578.23M140.51,540.12L136.36,538.3M135.5,520.53L141.5,520.05M217.94,535.54L220.48,530.38M196.18,523.95L195.94,521.58M207.46,513.4L206.49,518.55M194.07,561.79L194.3,565.61M124.25,526.98L120.98,526.36M120.98,526.36L118.91,521.74M127.26,562.44L132.29,567.24M130.6,571.68L130.11,570.97M129.96,576.82L130.66,577.24M192.5,544.14L191.41,540.31M139.31,568.38L145.04,574.63M148.14,570.44L145.04,574.63M184.9,520.98L180.39,525.06M170.6,529.82L175.26,526.99" fill="none" stroke="#27dc27" stroke-width="1.05" stroke-linecap="round" opacity="1"/>
<path d="M191.67,559.82h0.01M129.25,559.42h0.01M180,573.86h0.01M147.74,558.56h0.01M176.28,527.19h0.01M153.64,543.56h0.01M175.26,526.99h0.01M143.09,523.54h0.01M158.84,537.02h0.01M175.13,556.79h0.01M194.07,561.79h0.01M128.13,524.96h0.01M139.87,544.72h0.01M171.18,575.97h0.01M124.25,526.98h0.01M199.91,576.53h0.01M188.85,528.42h0.01M166.67,571.81h0.01M145.18,577.26h0.01M150.67,534.17h0.01M132.77,528.32h0.01M192.5,544.14h0.01M203.93,535.98h0.01M163.4,578.67h0.01M174.42,564.95h0.01M199.28,552.53h0.01M188.63,522.97h0.01M130.11,570.97h0.01M188.25,550.69h0.01M137.09,576.88h0.01M140.29,528.32h0.01M198.4,544.88h0.01M136.98,572.3h0.01M122.1,553.97h0.01M195.87,532.14h0.01M184.42,529.29h0.01M185.86,565.68h0.01M152.42,576.17h0.01M186.69,539.14h0.01M203.72,521.25h0.01M186.49,550.79h0.01M148.14,570.44h0.01M162.54,541.61h0.01M165.66,549.16h0.01M132.6,539.05h0.01M136.36,538.3h0.01M150.83,565.18h0.01M140.59,542.99h0.01M214.98,518.23h0.01M148.26,557.71h0.01M200.56,579.68h0.01M140.51,540.12h0.01M154.6,570.21h0.01M158.64,546.16h0.01M164.83,578.31h0.01M212.33,570.58h0.01M136.44,562.21h0.01M142.42,520.95h0.01M130.97,518.53h0.01M130.66,577.24h0.01M192.73,567.84h0.01M152.87,539.21h0.01M155.41,527.19h0.01M140.06,553.8h0.01M208.21,573.23h0.01M147.27,518.05h0.01M154.71,578.23h0.01M198.5,519.85h0.01M216.48,536.01h0.01M181.93,539.36h0.01M162.2,531.41h0.01M178.2,533.66h0.01M191.41,540.31h0.01M210.87,532.89h0.01M198.84,531.28h0.01M145.19,577.23h0.01" fill="none" stroke="#3a62e0" stroke-width="1" stroke-linecap="round" opacity="0.8"/>
<rect x="201.1" y="577.1" width="12.9" height="0.9" fill="#ffffff" stroke="none" stroke-width="1"/>
<rect x="204.2" y="574.1" width="7.6" height="2.4" fill="#9a9a9a" stroke="none" stroke-width="1"/>
</g>
<clipPath id="clip20"><rect x="218.5" y="452.2" width="95.7" height="63.4"/></clipPath>
<g clip-path="url(#clip20)">
<rect x="218.5" y="452.2" width="95.7" height="63.4" fill="#000" stroke="none" stroke-width="1"/>
<path d="M315.78,482.48L315.28,482.29M315.78,482.48L322.26,482.5M314.93,481.33L319.55,473.08M313.31,469.99L313.92,463.84M313.92,463.84L318.8,461.56M312.27,452.39L311.94,447.29M319.82,452.38L312.27,452.39M318.51,458.61L310.5,455.37M312.96,500.05L305.93,496.59M310.12,461.7L309.17,456.77M312.96,500.05L312.67,501.91M315.56,495.76L318.51,495.14M312.67,501.91L318.98,506.84M299.52,507.59L298.31,508.78M298.31,508.78L297.69,511.4M302.6,483.18L302.59,481.89M311.4,470.93L307.6,470.96M305.36,465.7L307.6,470.96M302.59,481.89L297.03,477.32M306.27,472.57L297.3,472.54M305.36,465.7L304.77,465.46M300.59,449.79L298.28,458.46M304.77,465.46L298.23,458.51M298.28,458.46L298.23,458.51M295.41,464.5L295.77,461.84M301.39,498.28L300.73,500.1M290.44,499.44L299.37,501.19M300.73,500.1L299.37,501.19M305.93,496.59L301.39,498.28M302.6,483.18L297.3,488.95M309.78,504.44L312.67,501.91M289.23,503.94L289.73,505.75M293.57,481.22L295,487.8M273.76,509.39L268.69,513.19M277.11,505.94L276.73,505.81M294.44,513.82L288.95,509.08M284.54,512.47L285.72,512.41M215.78,493.77L220.36,488.82M220.36,488.82L213.14,483.76M222.37,507.73L220.22,507.83M215.46,498.5L225.52,497.5M225.4,504.38L226.08,498.78M220.36,488.82L220.71,488.76M219.38,477.29L220.79,476.7M220.79,476.7L223.73,486M223.73,486L220.71,488.76M294.17,514.62L298.45,520.4M294.44,513.82L294.17,514.62M285.72,512.41L289.66,518.04M302.61,516.63L302.61,516.94M212.8,513.22L218.42,510.1M240.47,507.99L241.11,507.73M229.7,513.37L232.7,506.62M236.54,513.67L240.47,507.99M226.08,498.78L233.11,500.51M238.27,495.57L236.93,495.73M236.93,495.73L235.61,498.81M231.44,491.42L225.72,486.16M314.19,513.26L311.41,515.24M285.34,477.64L286.96,481.04M287.53,488.1L286.61,485.35M297.16,471.92L287.73,468.91M287.16,475.32L287.27,469.31M287.88,462L284.82,459.49M281.69,452.1L289.21,451.35M255.45,508.2L252.25,511.73M263.52,519.61L260.92,514.12M257.45,521.79L256.24,516.71M274.3,506.9L266.45,505.28M268,497.97L266.4,498.81M266.45,505.28L266.4,498.81M287.42,488.33L288.95,497.91M269.37,488.87L267.36,492.31M257.53,499.56L257.1,500.26M257.53,499.56L257.9,496.21M243.73,497.83L247.32,493.54M256.53,487.97L256.66,492.11M264.62,505.75L257.1,500.26M265.62,492L267.36,492.31M265.62,492L257.9,496.21M258.18,485.6L256.53,487.97M260.06,484.64L265.62,492M217.94,446.46L215.36,453.58M255.43,473.28L251.85,476.83M244.22,471L246.07,468.58M245.18,486.33L247.03,481.34M261.46,477.67L255.43,473.28M261.59,482.94L260.06,484.64M232.58,491.36L233.24,490.24M268.02,483.87L269.69,486.25M268.02,483.87L271.67,478.74M269.69,486.25L276.96,485.99M276.96,485.99L277.45,484.89M269.37,488.87L269.69,486.25M286.61,485.35L277.45,484.89M254.23,456.12L254.3,454.29M272.65,450.56L273.16,448.79M272.65,450.56L270.02,452.87M270.02,452.87L274.73,459.1M274.73,459.1L278.47,455.69M284.82,459.49L283.1,459.69M281.69,452.1L279.88,455.88M229.32,477.72L231.91,476.87M242.27,475.45L236.62,477.37M235.99,477.99L236.62,477.37M246.64,464.49L240.01,461.32M249,460.72L246.93,454.62M240.01,461.32L241.34,454.3M246.93,454.62L241.62,453.9M241.62,453.9L241.34,454.3M237.19,462.82L240.01,461.32M246.07,468.58L246.64,464.49M255.37,472.34L256.07,470.57M257.68,463.22L256.41,464.28M234.55,448.63L231.25,455.72M261.46,477.67L263.13,476.35M256.07,470.57L265.01,469.85M263.07,461.33L265.23,469.6M278.92,473.32L271.49,473.48M278.92,473.32L279.55,466.68M215.36,453.58L219.08,454.26M222.95,472.83L226.53,464.9M270.65,462.44L270.39,470.53M219.08,454.26L222.28,457.54M226.53,464.9L225.95,463.37" fill="none" stroke="#27dc27" stroke-width="0.5" stroke-linecap="round" opacity="0.75"/>
<path d="M315.28,482.29L314.93,481.33M313.31,469.99L319.41,472.03M312.27,452.39L310.5,455.37M310.5,455.37L309.79,455.78M309.79,455.78L302.83,447.68M312.96,500.05L315.56,495.76M310.4,488.87L315.56,495.76M310.4,488.87L309.77,488.86M309.77,488.86L306.94,491.28M305.93,496.59L306.94,491.28M313.92,463.84L310.12,461.7M309.79,455.78L309.17,456.77M305.88,508.93L306.16,512.26M305.88,508.93L299.52,507.59M297.69,511.4L302.61,516.63M306.16,512.26L302.61,516.63M299.94,520.32L302.61,516.94M309.43,520.4L302.61,516.94M315.78,482.48L320.91,491.6M310.4,488.87L315.28,482.29M314.93,481.33L313.31,480.12M313.31,469.99L311.4,470.93M311.4,470.93L313.31,480.12M309.77,488.86L302.6,483.18M302.59,481.89L306.2,478.57M310.12,461.7L305.36,465.7M306.2,478.57L306.27,472.57M307.6,470.96L306.27,472.57M297.03,477.32L296.43,474.95M304.77,465.46L297.26,470.51M297.26,470.51L297.16,471.92M297.16,471.92L297.3,472.54M309.17,456.77L298.28,458.46M297.26,470.51L295.41,464.5M298.23,458.51L298.17,458.53M298.17,458.53L295.77,461.84M277.3,517.19L278.51,518.12M299.73,492.24L301.39,498.28M299.73,492.24L297.6,490.22M297.6,490.22L290.27,499.02M290.27,499.02L290.44,499.44M306.94,491.28L299.73,492.24M297.3,488.95L297.6,490.22M299.52,507.59L299.37,501.19M298.31,508.78L289.73,505.75M289.23,503.94L290.44,499.44M305.88,508.93L309.32,505.65M309.78,504.44L309.32,505.65M297.3,488.95L295,487.8M277.3,517.19L273.76,509.39M267.58,518.94L268.69,513.19M279.97,518.36L284.54,512.47M284.54,512.47L277.11,505.94M276.73,505.81L274.55,507.05M289.73,505.75L288.95,509.08M297.69,511.4L294.44,513.82M277.11,505.94L289.23,503.94M285.72,512.41L288.95,509.08M225.34,517.6L228.05,514.37M228.22,514.35L228.05,514.37M228.22,514.35L233.75,520.59M209.56,474.15L219.38,477.29M222.37,507.73L225.4,504.38M220.22,507.83L215.46,498.5M225.52,497.5L226.08,498.78M225.66,496.98L220.71,488.76M229.7,513.37L236.54,513.67M229.7,513.37L228.22,514.35M233.75,520.59L237.52,517.19M237.52,517.19L236.54,513.67M294.17,514.62L289.66,518.04M210.59,506.94L218.91,508.9M218.91,508.9L218.42,510.1M218.88,518.31L218.42,510.1M220.22,507.83L218.91,508.9M222.37,507.73L228.05,514.37M232.7,506.62L232.45,506.27M232.45,506.27L233.11,500.51M235.61,498.81L233.11,500.51M235.61,498.81L241.18,507.65M241.18,507.65L241.11,507.73M225.4,504.38L232.45,506.27M243.73,497.83L245.26,502.49M243.73,497.83L238.27,495.57M242.9,506.67L245.26,502.49M242.9,506.67L241.18,507.65M221.37,475.79L220.79,476.7M221.37,475.79L221.37,474.61M221.37,474.61L216.37,468.28M225.66,496.98L231.44,491.42M223.73,486L225.72,486.16M236.93,495.73L232.58,491.36M221.37,475.79L229.32,477.72M228.5,483.52L225.72,486.16M318.32,513.01L314.19,513.26M311.41,515.24L310.54,518.86M309.32,505.65L314.19,513.26M306.16,512.26L311.41,515.24M296.43,474.95L287.16,475.32M293.57,481.22L286.96,481.04M287.16,475.32L285.34,477.64M287.53,488.1L295,487.8M286.96,481.04L286.61,485.35M287.27,469.31L287.73,468.91M295.41,464.5L287.77,468.83M287.73,468.91L287.77,468.83M295.77,461.84L287.88,462M287.77,468.83L287.88,462M298.17,458.53L289.74,453.31M289.74,453.31L284.82,459.49M289.74,453.31L289.21,451.35M237.52,517.19L245.05,519.87M241.11,507.73L245.33,519.52M260.92,514.12L256.24,516.71M261.38,511.39L255.45,508.2M256.24,516.71L252.14,512.69M252.14,512.69L252.25,511.73M268.69,513.19L263.16,510.82M263.16,510.82L261.38,511.39M255.89,501.35L255.45,508.2M247.02,518.81L252.14,512.69M274.55,507.05L274.3,506.9M263.16,510.82L264.62,505.75M266.45,505.28L264.62,505.75M287.42,488.33L280.31,491.33M288.95,497.91L283.94,497.48M287.53,488.1L287.42,488.33M276.73,505.81L277.7,501.23M277.7,501.23L283.94,497.48M268,497.97L269.12,495.64M277.7,501.23L275.07,495.37M269.12,495.64L275.07,495.37M278.03,490.86L276.52,492.43M278.03,490.86L280.31,491.33M275.07,495.37L276.52,492.43M269.12,495.64L267.36,492.31M276.52,492.43L269.37,488.87M257.67,452.06L254.3,454.29M254.3,454.29L249.12,452.97M249.62,448.88L249.12,452.97M247.32,493.54L256.18,500.95M247.34,493.34L256.66,492.11M257.9,496.21L256.66,492.11M256.18,500.95L257.1,500.26M255.89,501.35L256.18,500.95M238.27,495.57L243.69,486.47M246.29,487.43L247.34,493.34M246.29,487.43L245.18,486.33M245.18,486.33L243.69,486.47M246.29,487.43L256.53,487.97M258.18,485.6L260.06,484.64M244.18,471.51L242.27,475.45M244.18,471.51L251.85,476.83M242.27,475.45L247.03,481.34M247.03,481.34L250.98,479.09M250.98,479.09L251.85,476.83M255.43,473.28L255.37,472.34M255.37,472.34L246.07,468.58M233.17,483.96L233.24,490.24M233.17,483.96L236.32,480.28M233.24,490.24L240.91,485.54M228.5,483.52L233.17,483.96M243.69,486.47L240.91,485.54M271.67,478.74L277.39,480.64M277.39,480.64L277.45,484.89M261.59,482.94L268.02,483.87M278.03,490.86L276.96,485.99M285.34,477.64L281.05,477.24M257.68,463.22L254.23,456.12M257.67,452.06L264.65,457.19M263.07,461.33L264.5,459.65M264.5,459.65L264.65,457.19M263.42,445.75L266.76,454.55M270.02,452.87L266.76,454.55M272.65,450.56L278.47,455.69M283.1,459.69L279.88,455.88M278.47,455.69L279.88,455.88M217.94,446.46L225.81,450.48M228.7,446L225.81,450.48M236.32,480.28L235.99,477.99M244.22,471L236.07,467.51M246.64,464.49L249.02,462.74M249.02,462.74L249,460.72M237.19,462.82L235.89,467.27M236.07,467.51L235.89,467.27M256.41,464.28L256.07,470.57M249.12,452.97L246.93,454.62M237.19,462.82L229.43,457.18M231.25,455.72L229.43,457.18M231.25,455.72L241.34,454.3M239.87,447.55L241.62,453.9M271.67,478.74L270.7,476.27M270.7,476.27L263.13,476.35M263.13,476.35L265.01,469.85M265.01,469.85L265.23,469.6M281.05,477.24L278.92,473.32M270.7,476.27L271.49,473.48M287.27,469.31L279.55,466.68M283.1,459.69L279.09,465.91M279.55,466.68L279.09,465.91M225.81,450.48L226.01,451.98M219.08,454.26L226.01,451.98M229.43,457.18L229.03,457.21M226.01,451.98L229.03,457.21M230.72,471.22L231.71,468.22M230.72,471.22L222.95,472.83M231.71,468.22L226.53,464.9M231.91,476.87L230.72,471.22M235.89,467.27L231.71,468.22M279.07,465.9L270.61,470.72M279.07,465.9L273.66,462.24M270.65,462.44L273.66,462.24M271.49,473.48L270.61,470.72M279.09,465.91L279.07,465.9M264.5,459.65L270.65,462.44M265.23,469.6L270.39,470.53M227.8,458.61L222.28,457.54M227.8,458.61L225.95,463.37M222.28,457.54L218.1,460.15M225.95,463.37L219.21,463.74M219.21,463.74L218.1,460.15M214.3,455.76L218.1,460.15M216.43,466.86L219.21,463.74" fill="none" stroke="#27dc27" stroke-width="0.66" stroke-linecap="round" opacity="0.95"/>
<path d="M313.31,480.12L306.2,478.57M296.43,474.95L297.3,472.54M277.3,517.19L268.92,520.21M309.78,504.44L300.73,500.1M297.03,477.32L293.57,481.22M273.76,509.39L274.55,507.05M219.38,477.29L212.96,483.32M225.52,497.5L225.66,496.98M232.7,506.62L240.47,507.99M231.44,491.42L232.58,491.36M229.32,477.72L228.5,483.52M280.6,449.15L281.69,452.1M289.57,448.72L289.21,451.35M260.92,514.12L261.38,511.39M242.9,506.67L252.25,511.73M245.26,502.49L255.89,501.35M274.3,506.9L268,497.97M280.31,491.33L283.94,497.48M290.27,499.02L288.95,497.91M257.41,448.21L257.67,452.06M247.32,493.54L247.34,493.34M266.4,498.81L257.53,499.56M244.22,471L244.18,471.51M258.18,485.6L250.98,479.09M261.46,477.67L261.59,482.94M236.32,480.28L240.91,485.54M281.05,477.24L277.39,480.64M257.68,463.22L263.07,461.33M264.65,457.19L266.76,454.55M231.91,476.87L235.99,477.99M236.07,467.51L236.62,477.37M256.41,464.28L249.02,462.74M254.23,456.12L249,460.72M221.37,474.61L222.95,472.83M270.39,470.53L270.61,470.72M274.73,459.1L273.66,462.24M229.03,457.21L227.8,458.61" fill="none" stroke="#27dc27" stroke-width="1.05" stroke-linecap="round" opacity="1"/>
<path d="M302.59,481.89h0.01M246.64,464.49h0.01M299.37,501.19h0.01M229.03,457.21h0.01M286.96,481.04h0.01M225.4,504.38h0.01M306.16,512.26h0.01M283.1,459.69h0.01M225.95,463.37h0.01M312.27,452.39h0.01M297.26,470.51h0.01M265.23,469.6h0.01M260.92,514.12h0.01M254.3,454.29h0.01M266.45,505.28h0.01M256.07,470.57h0.01M245.26,502.49h0.01M257.53,499.56h0.01M235.61,498.81h0.01M284.54,512.47h0.01M298.17,458.53h0.01M286.61,485.35h0.01M256.53,487.97h0.01M287.42,488.33h0.01M249,460.72h0.01M228.5,483.52h0.01M225.52,497.5h0.01M297.16,471.92h0.01M310.4,488.87h0.01M289.23,503.94h0.01M231.44,491.42h0.01M297.03,477.32h0.01M309.78,504.44h0.01M269.12,495.64h0.01M311.41,515.24h0.01M218.91,508.9h0.01M233.17,483.96h0.01M254.23,456.12h0.01M309.17,456.77h0.01M263.16,510.82h0.01M288.95,509.08h0.01M232.45,506.27h0.01M258.18,485.6h0.01M297.3,472.54h0.01M250.98,479.09h0.01M277.39,480.64h0.01M264.62,505.75h0.01M249.02,462.74h0.01M313.31,469.99h0.01M310.12,461.7h0.01M222.37,507.73h0.01M238.27,495.57h0.01M236.07,467.51h0.01M247.34,493.34h0.01M255.89,501.35h0.01M227.8,458.61h0.01M278.03,490.86h0.01M288.95,497.91h0.01M260.06,484.64h0.01M314.19,513.26h0.01M306.27,472.57h0.01M235.99,477.99h0.01M283.94,497.48h0.01M265.01,469.85h0.01M290.27,499.02h0.01M305.93,496.59h0.01" fill="none" stroke="#3a62e0" stroke-width="1" stroke-linecap="round" opacity="0.8"/>
<rect x="298.3" y="512" width="12.9" height="0.9" fill="#ffffff" stroke="none" stroke-width="1"/>
<rect x="301.4" y="509" width="7.6" height="2.4" fill="#9a9a9a" stroke="none" stroke-width="1"/>
</g>
<clipPath id="clip21"><rect x="218.5" y="517.2" width="95.7" height="63.5"/></clipPath>
<g clip-path="url(#clip21)">
<rect x="218.5" y="517.2" width="95.7" height="63.5" fill="#000" stroke="none" stroke-width="1"/>
<path d="M233.77,526.57L234.39,526.98M217.31,535.11L214.01,530.66M223.22,516.18L222.37,519.03M223.22,516.18L230.43,515.92M232.55,521.08L225.57,522.25M225.57,522.25L222.37,519.03M311.74,562.54L318,564.97M242.63,529.33L243.01,531.91M251.35,525.96L244.9,523.13M242.63,529.33L240.49,527.01M243.01,531.91L240.25,533.2M233.08,527.18L230.88,531.55M251.18,529.71L256.35,533.33M259.95,532.69L261.15,524.5M249.76,517.14L245.6,513.38M252.77,517.75L249.76,517.14M216.07,527.86L220.26,527.58M220.26,527.58L218.8,521.1M222.54,544.28L223.53,538.75M225.48,545.6L227.07,544.82M219.2,545.56L222.54,544.28M219.2,545.56L218.68,551.64M217.45,544.6L219.2,545.56M224.99,530.96L225.47,537.63M304.19,576.06L300.05,582.74M308.11,581.23L304.27,585.24M226.7,548.91L231.6,551.42M227.07,544.82L234.15,545.71M231.6,551.42L234.15,545.71M232.04,552.92L229.85,557M317.68,569.14L312.39,571.23M312.39,571.23L311.82,574.52M309.76,568.22L312.39,571.23M241.27,540.29L235.41,542.4M232.53,536.98L232.29,537.65M246.71,532.7L248.02,540.18M243.37,541.25L248.02,540.18M240.25,533.2L240.16,533.33M311.94,536.09L316.65,540.25M314.63,543.67L316.65,540.25M314.63,543.67L308.67,545.07M308.31,540.58L308.67,545.07M315.37,551.17L308.53,545.32M314.63,543.67L317.15,547.75M310.55,553.56L305.76,547.48M302.74,545.46L304.92,547.69M301.51,539.11L304.99,538.86M294.59,543.73L294.38,539.6M298.29,537.07L296.22,537.87M294.38,539.6L296.22,537.87M223.12,515.9L218.96,511.4M301.73,570.01L300.92,569.39M300.92,569.39L300.94,563.68M300.92,569.39L297.01,570.39M255.67,544.6L256.5,540.04M259.95,532.69L261.43,533.51M255.31,536.48L256.5,540.04M233.6,574.54L236.89,578.78M228.47,575.96L232.31,582.98M236.89,578.78L236.5,581.65M294.7,543.88L295.81,549.65M298.38,561.8L297.27,557.08M291.61,545.24L284.7,545.31M283.6,548.04L283.63,546.45M283.63,546.45L284.7,545.31M261.86,533.98L268.47,533.21M272.64,539.7L272.45,539.18M271.43,538.77L272.45,539.18M306.27,532.67L306.17,532.75M306.17,532.75L299.62,534.46M298.62,527.68L298.64,527.66M298.29,537.07L299.62,534.46M314.49,531.75L312.7,527.58M268.71,511.82L265.42,516.29M265.42,516.29L261.79,513.92M279.93,515.57L275.79,508.55M252.77,517.75L254.15,511.2M248.14,540.27L251.06,545.47M218.68,551.64L215.79,554.08M262.67,548.05L257.77,553.07M272,544.24L266.81,551.57M266.64,551.55L266.81,551.57M257.77,553.07L261.43,558.33M281.77,534.86L282.32,536.66M280.57,539.51L282.32,536.66M280.49,533.79L281.76,528.05M276.05,534.18L272.45,539.18M300.13,520.01L301.96,518.82M262.54,522.8L262.73,522.18M268.47,533.21L269.93,529.35M267.08,528.6L269.93,529.35M229.85,557L232.28,559.71M238.41,553.69L240.04,556.55M240.04,556.55L238.83,560.24M232.28,559.71L238.83,560.24M251.06,545.47L248.46,548.64M242.6,545.36L239.48,547.87M239.48,547.87L239.97,549.65M250.99,556.63L251.18,556.09M251.18,556.09L248.44,548.71M248.44,548.71L245.25,550.52M256.38,552.85L251.18,556.09M248.46,548.64L248.44,548.71M217.9,583.3L222.24,581.46M290.11,575.24L289.6,575.57M287.66,580.72L289.6,575.57M297.01,570.39L294.33,570.09M258.99,564.55L252.41,561.28M261.43,558.33L261.44,558.58M250.99,556.63L252.17,558.73M290.46,523.4L289.95,523.45M287.22,519.82L287.16,515.25M281.9,520.22L287.22,519.82M281.47,514.78L287.16,515.25M279.66,516.12L279.13,518.74M281.76,528.05L278.14,525.16M279.13,518.74L277.98,520.03M276.05,534.18L273.03,528.8M265.19,520.2L269.95,521.58M316.7,519.01L312.9,523.32M312.9,523.32L308.17,520.49M256.05,569.66L251.48,568.89M252.41,561.28L249.87,565.44M251.48,568.89L249.87,565.44M247.21,557.4L244.63,564.28M249.87,565.44L244.63,564.28M242.32,565.02L242.63,566.77M237.67,565.95L236.62,572.16M238.83,560.24L240.28,564.13M244.63,564.28L242.32,565.02M247.7,573.54L251.48,568.89M246.96,573.4L242.63,566.77M241.5,576.13L236.89,578.78M233.6,574.54L234.82,572.95M237.67,565.95L231.96,566.08M231.63,567.24L231.96,566.08M225.95,557.81L225.36,558.6M215.79,554.08L217.19,558.14M225.36,558.6L224.33,563.74M228.42,575.95L226.42,572.04M222.24,581.46L222.76,580.72M281.94,581.23L287.66,580.72M281.71,577.27L284.49,574.83M294.32,563.54L290.28,562.14M285.54,549.36L287.88,556.27M290.63,556.91L287.88,556.27M281.94,581.23L281.38,581.97M250.02,577.77L256.38,574.63M284.49,574.83L282.41,569.91M287.51,567.22L282.41,569.91M282.84,557.56L280.56,551.43M273.22,543.5L275.74,551.76M272.24,555.13L272.47,555.21M264.65,581.95L269.33,581.59M262.2,577.09L258.98,576.99M271.35,580.91L269.33,581.59M264.31,572.24L266.76,570.4M266.76,570.4L269.55,570.97M257.19,568.87L264.31,572.24M262.2,577.09L263.4,575.03M302.08,516.5L306.22,512.04M282.1,569.85L276.58,573.24M269.55,570.97L273.05,569.97M268.54,562.63L274.01,566.86M273.76,557.88L281.72,559.86M274.01,566.86L275.2,565.63M273.07,557.21L273.76,557.88M287.5,564.79L281.94,561.03" fill="none" stroke="#27dc27" stroke-width="0.5" stroke-linecap="round" opacity="0.75"/>
<path d="M234.39,526.98L240.49,527.01M236.87,521.15L234.34,522.39M236.87,521.15L240.46,521.88M240.46,521.88L240.49,527.01M230.43,515.92L231.82,513.2M236.87,521.15L238.43,513.69M234.34,522.39L232.55,521.08M215.23,537.42L217.31,535.11M210.18,546.14L217.45,544.6M217.45,544.6L215.23,537.42M233.77,526.57L233.08,527.18M233.08,527.18L225.63,525.8M225.57,522.25L225.63,525.8M311.74,562.54L311.17,559.63M319.94,559.71L315.89,557.96M315.89,557.96L311.17,559.63M317.26,550.52L316.04,551.2M315.89,557.96L316.04,551.2M251.18,529.71L246.71,532.7M242.63,529.33L244.9,523.13M246.71,532.7L243.01,531.91M234.39,526.98L240.25,533.2M225.63,525.8L223.12,529.51M224.99,530.96L230.88,531.55M256.35,533.33L259.95,532.69M251.35,525.96L251.57,525.68M251.57,525.68L261.15,524.5M249.76,517.14L243.92,521.83M243.4,521.56L243.92,521.83M243.4,521.56L243.33,514.59M244.9,523.13L243.92,521.83M252.77,517.75L253.03,518.12M253.03,518.12L251.57,525.68M217.9,534.97L217.31,535.11M217.9,534.97L222.25,529.56M222.37,519.03L218.8,521.1M222.25,529.56L223.12,529.51M222.54,544.28L225.48,545.6M223.53,538.75L225.47,537.63M227.07,544.82L231.14,538.02M225.47,537.63L231.14,538.02M226.7,548.91L223.37,553.36M226.7,548.91L225.48,545.6M218.68,551.64L223.37,553.36M217.9,534.97L223.53,538.75M304.19,576.06L307.5,576.76M307.5,576.76L308.11,581.23M231.6,551.42L232.04,552.92M320.83,576.55L313.65,576.48M313.65,576.48L311.82,574.52M311.74,562.54L309.76,567.18M309.76,567.18L309.76,568.22M314.52,583.01L313.65,576.48M309.76,568.22L301.73,570.01M301.73,570.01L303.13,574.56M303.13,574.56L304.19,576.06M307.5,576.76L311.82,574.52M313.51,583.86L308.11,581.23M315.37,551.17L310.55,553.56M310.55,553.56L309.08,558.13M309.76,567.18L303.77,562.15M303.77,562.15L306.66,558.25M306.66,558.25L309.08,558.13M241.27,540.29L240.16,533.33M240.16,533.33L232.53,536.98M235.41,542.4L232.29,537.65M230.88,531.55L232.53,536.98M231.14,538.02L232.29,537.65M235.25,544.76L234.15,545.71M235.25,544.76L235.41,542.4M308.67,545.07L308.53,545.32M308.53,545.32L305.76,547.48M308.31,540.58L304.99,538.86M302.74,545.46L301.51,539.11M304.92,547.69L305.76,547.48M294.7,543.88L294.59,543.73M294.7,543.88L302.74,545.46M298.29,537.07L301.51,539.11M217.02,511.53L212.98,515.45M223.22,516.18L223.12,515.9M303.77,562.15L300.94,563.68M298.88,582.85L295.86,579.82M295.86,579.82L295.6,579.14M295.6,579.14L297.05,576.78M297.05,576.78L297.01,570.39M262.09,545.84L255.67,544.6M262.09,545.84L262.75,544.8M263.7,539.25L256.5,540.04M256.35,533.33L255.31,536.48M248.02,540.18L248.14,540.27M248.14,540.27L255.31,536.48M261.86,533.98L261.43,533.51M261.86,533.98L263.75,539.15M263.75,539.15L263.7,539.25M233.6,574.54L228.47,575.96M232.31,582.98L236.5,581.65M303.11,550.09L302.84,554.35M302.84,554.35L297.27,557.08M297.27,557.08L293.5,554.9M293.5,554.9L293.54,553.23M306.66,558.25L302.84,554.35M298.38,561.8L300.94,563.68M294.59,543.73L291.61,545.24M289.75,550.04L291.61,545.24M289.75,550.04L293.54,553.23M272.64,539.7L273.27,543.37M272.64,539.7L280.57,539.51M273.27,543.37L280.25,544.08M280.57,539.51L280.25,544.08M289.75,550.04L285.54,549.36M285.54,549.36L283.6,548.04M263.75,539.15L271.43,538.77M262.75,544.8L272,544.24M272,544.24L273.22,543.5M273.27,543.37L273.22,543.5M306.09,528.22L298.64,527.66M306.09,528.22L306.27,532.67M299.62,534.46L298.62,527.68M311.94,536.09L311.88,535.26M296.22,537.87L292.64,530.76M292.64,530.76L294.49,527.78M294.49,527.78L298.62,527.68M320.46,525.16L313.45,525.42M314.49,531.75L320.6,531.71M312.7,527.58L313.45,525.42M306.28,527.99L312.7,527.58M306.28,527.99L306.09,528.22M279.93,515.57L281.47,514.78M223.12,515.9L227.27,509.16M253.03,518.12L257.19,518.61M257.19,518.61L259.36,514.27M255.67,544.6L253.42,545.63M295.86,579.82L289.47,583.81M262.67,548.05L262.09,545.84M253.42,545.63L256.38,552.85M257.77,553.07L256.38,552.85M262.67,548.05L266.64,551.55M266.64,551.55L261.43,558.33M290.57,538.58L288.14,532.74M290.57,538.58L286.41,540.22M286.41,540.22L282.32,536.66M288.14,532.74L281.77,534.86M294.38,539.6L290.57,538.58M288.51,531.89L292.64,530.76M284.7,545.31L286.41,540.22M280.25,544.08L283.63,546.45M280.49,533.79L281.77,534.86M288.51,531.89L286.01,526.56M281.76,528.05L286.01,526.56M280.49,533.79L276.05,534.18M279.93,515.57L279.66,516.12M271.6,514.14L279.66,516.12M298.64,527.66L300.13,520.01M306.17,520.9L301.96,518.82M257.19,518.61L262.73,522.18M265.42,516.29L265.19,520.2M265.19,520.2L262.73,522.18M261.15,524.5L262.54,522.8M261.43,533.51L267.08,528.6M262.54,522.8L267.08,528.6M232.04,552.92L238.41,553.69M243.37,541.25L242.6,545.36M235.25,544.76L239.48,547.87M238.41,553.69L239.97,549.65M250.99,556.63L247.21,557.4M247.21,557.4L244.02,555.96M244.02,555.96L245.25,550.52M240.04,556.55L244.02,555.96M239.97,549.65L245.25,550.52M225.23,586.6L222.24,581.46M295.6,579.14L290.11,575.24M290.11,575.24L291.32,571.16M294.33,570.09L291.32,571.16M298.38,561.8L294.32,563.54M294.33,570.09L294.32,563.54M258.99,564.55L262.4,562.09M262.4,562.09L262.24,560.66M252.17,558.73L261.44,558.58M252.17,558.73L252.41,561.28M272.24,555.13L262.24,560.66M272.24,555.13L266.81,551.57M290.46,523.4L293.96,519.14M293.96,519.14L291.66,513.72M287.16,515.25L290.96,513.22M294.49,527.78L290.46,523.4M300.13,520.01L293.96,519.14M286.01,526.56L286.38,525.93M286.38,525.93L289.95,523.45M281.9,520.22L286.38,525.93M281.9,520.22L279.13,518.74M298.56,511.95L302.08,516.5M302.08,516.5L301.96,518.82M278.14,525.16L277.98,520.03M278.14,525.16L273.03,528.8M277.98,520.03L272.92,520.18M273.03,528.8L271.97,528.47M271.97,528.47L269.95,521.58M272.92,520.18L269.95,521.58M271.6,514.14L272.92,520.18M269.93,529.35L271.97,528.47M313.45,525.42L312.9,523.32M306.17,520.9L308.17,520.49M256.05,569.66L257.19,568.87M257.19,568.87L258.99,564.55M240.28,564.13L237.67,565.95M240.28,564.13L242.32,565.02M242.63,566.77L239.84,573.09M236.62,572.16L239.84,573.09M247.7,573.54L246.96,573.4M241.78,575.21L246.96,573.4M241.78,575.21L239.84,573.09M241.5,576.13L241.78,575.21M234.82,572.95L236.62,572.16M234.82,572.95L231.63,567.24M232.28,559.71L231.5,565.33M231.5,565.33L231.96,566.08M217.19,558.14L225.36,558.6M231.5,565.33L224.33,563.74M217.19,558.14L215.85,563.65M222.25,566.11L224.33,563.74M223.1,580.54L222.76,580.72M223.1,580.54L228.42,575.95M226.42,572.04L223.19,569.92M218.69,573.72L223.19,569.92M231.35,584.97L223.1,580.54M228.47,575.96L228.42,575.95M231.63,567.24L226.42,572.04M281.94,581.23L281.71,577.27M293.5,554.9L290.63,556.91M290.28,562.14L290.63,556.91M274.61,587.75L274.22,582.42M274.22,582.42L281.38,581.97M282.78,586.55L281.38,581.97M273.08,581.23L274.22,582.42M273.08,581.23L276.71,574.09M281.71,577.27L276.71,574.09M255.94,581.68L251,581.92M255.94,581.68L258.98,576.99M249.92,581.51L251,581.92M256.38,574.63L258.98,576.99M256.05,569.66L256.38,574.63M214.44,570.59L218.5,573.74M214.29,577.92L218.5,573.74M218.69,573.72L218.5,573.74M291.32,571.16L287.51,567.22M290.28,562.14L287.5,564.79M287.51,567.22L287.5,564.79M287.88,556.27L282.84,557.56M275.74,551.76L272.47,555.21M275.74,551.76L280.56,551.43M262.4,562.09L264.72,563.59M264.72,563.59L268.54,562.63M268.54,562.63L273.07,557.21M272.47,555.21L273.07,557.21M264.65,581.95L262.18,585.76M269.33,581.59L268.56,589.2M262.2,577.09L264.65,581.95M273.08,581.23L271.35,580.91M264.31,572.24L263.4,575.03M263.4,575.03L269.99,577.37M269.55,570.97L269.99,577.37M271.35,580.91L269.99,577.37M249.18,590.92L248.47,582.51M248.47,582.51L244.05,583.08M241.5,576.13L244.05,583.08M236.5,581.65L241.4,585.07M316.7,519.01L315.09,514.58M308.17,520.49L311.49,515.73M311.49,515.73L306.22,512.04M276.71,574.09L276.58,573.24M282.41,569.91L282.1,569.85M276.58,573.24L273.05,569.97M273.05,569.97L274.01,566.86M275.2,565.63L279.07,565.01M275.2,565.63L273.76,557.88M279.07,565.01L281.94,561.03M281.94,561.03L281.72,559.86M282.1,569.85L279.07,565.01M282.84,557.56L281.72,559.86" fill="none" stroke="#27dc27" stroke-width="0.66" stroke-linecap="round" opacity="0.95"/>
<path d="M233.77,526.57L234.34,522.39M230.43,515.92L232.55,521.08M251.18,529.71L251.35,525.96M223.12,529.51L224.99,530.96M240.46,521.88L243.4,521.56M222.25,529.56L220.26,527.58M223.37,553.36L225.95,557.81M225.95,557.81L229.85,557M316.04,551.2L315.37,551.17M311.17,559.63L309.08,558.13M243.37,541.25L241.27,540.29M311.94,536.09L308.31,540.58M218.8,521.1L214.19,520.71M303.13,574.56L297.05,576.78M262.75,544.8L263.7,539.25M303.11,550.09L295.81,549.65M295.81,549.65L293.54,553.23M304.92,547.69L303.11,550.09M268.47,533.21L271.43,538.77M311.88,535.26L306.27,532.67M304.99,538.86L306.17,532.75M311.88,535.26L314.49,531.75M251.06,545.47L253.42,545.63M288.51,531.89L288.14,532.74M306.28,527.99L306.17,520.9M248.46,548.64L242.6,545.36M217.9,583.3L214.43,580.64M289.47,583.81L287.66,580.72M262.24,560.66L261.44,558.58M289.95,523.45L287.22,519.82M222.25,566.11L216.41,564.26M222.76,580.72L218.69,573.72M222.25,566.11L223.19,569.92M289.6,575.57L284.49,574.83M250.02,577.77L249.92,581.51M247.7,573.54L250.02,577.77M260.49,585.97L255.94,581.68M255.45,589.74L251,581.92M283.6,548.04L280.56,551.43M264.72,563.59L266.76,570.4M249.92,581.51L248.47,582.51M315.09,514.58L311.49,515.73" fill="none" stroke="#27dc27" stroke-width="1.05" stroke-linecap="round" opacity="1"/>
<path d="M222.25,529.56h0.01M251.18,556.09h0.01M302.84,554.35h0.01M276.58,573.24h0.01M218.68,551.64h0.01M281.71,577.27h0.01M252.41,561.28h0.01M272.92,520.18h0.01M239.84,573.09h0.01M278.14,525.16h0.01M268.54,562.63h0.01M262.24,560.66h0.01M225.36,558.6h0.01M284.7,545.31h0.01M287.88,556.27h0.01M301.51,539.11h0.01M235.41,542.4h0.01M225.95,557.81h0.01M273.05,569.97h0.01M272.47,555.21h0.01M264.31,572.24h0.01M251.18,529.71h0.01M272.24,555.13h0.01M303.13,574.56h0.01M262.73,522.18h0.01M220.26,527.58h0.01M253.42,545.63h0.01M289.6,575.57h0.01M273.03,528.8h0.01M306.28,527.99h0.01M293.5,554.9h0.01M279.13,518.74h0.01M226.42,572.04h0.01M256.5,540.04h0.01M252.17,558.73h0.01M266.76,570.4h0.01M269.99,577.37h0.01M255.67,544.6h0.01M262.4,562.09h0.01M222.37,519.03h0.01M288.51,531.89h0.01M311.82,574.52h0.01M219.2,545.56h0.01M251.35,525.96h0.01M242.32,565.02h0.01M232.53,536.98h0.01M240.49,527.01h0.01M225.57,522.25h0.01M229.85,557h0.01M244.9,523.13h0.01M286.01,526.56h0.01M272.45,539.18h0.01M308.31,540.58h0.01M306.27,532.67h0.01M227.07,544.82h0.01M295.86,579.82h0.01M261.44,558.58h0.01M304.92,547.69h0.01M290.63,556.91h0.01M291.32,571.16h0.01M301.73,570.01h0.01M267.08,528.6h0.01M242.63,529.33h0.01M280.56,551.43h0.01M297.27,557.08h0.01M276.71,574.09h0.01M240.16,533.33h0.01M273.07,557.21h0.01M253.03,518.12h0.01M247.21,557.4h0.01M244.02,555.96h0.01M236.87,521.15h0.01M257.77,553.07h0.01M312.7,527.58h0.01M266.64,551.55h0.01M248.44,548.71h0.01M308.53,545.32h0.01M299.62,534.46h0.01M287.5,564.79h0.01M218.8,521.1h0.01" fill="none" stroke="#3a62e0" stroke-width="1" stroke-linecap="round" opacity="0.8"/>
<rect x="298.3" y="577.1" width="12.9" height="0.9" fill="#ffffff" stroke="none" stroke-width="1"/>
<rect x="301.4" y="574.1" width="7.6" height="2.4" fill="#9a9a9a" stroke="none" stroke-width="1"/>
</g>
<text x="27" y="591.3" font-size="10.2" fill="#33dd33" stroke="#33dd33">WGA</text>
<text x="60" y="591.3" font-size="10.2" fill="#2a2ae6" stroke="#2a2ae6">DAPI</text>
<text x="337.8" y="450.6" font-size="17.5" fill="#111" stroke="#111">E</text>
<path d="M381.65,575.1V572.87M407.01,575.1V558.64M432.37,575.1V527.95M457.73,575.1V519.3M483.09,575.1V513.44M508.45,575.1V528.79M533.81,575.1V546.08M559.17,575.1V562.27M584.53,575.1V570.92M609.89,575.1V573.43M635.25,575.1V574.26" fill="none" stroke="#d9d9d9" stroke-width="2.4"/>
<path d="M385.55,575.1V557.52M410.91,575.1V466.29M436.27,575.1V470.2M461.63,575.1V538.83M486.99,575.1V565.34M512.35,575.1V573.98M537.71,575.1V574.82" fill="none" stroke="#f2373c" stroke-width="2.4"/>
<path d="M389.45,575.1V573.71M414.81,575.1V561.99M440.17,575.1V526.55M465.53,575.1V514M490.89,575.1V512.6M516.25,575.1V524.88M541.61,575.1V547.76M566.97,575.1V566.17M592.33,575.1V572.31M617.69,575.1V573.98M643.05,575.1V574.82" fill="none" stroke="#a3a3a3" stroke-width="2.4"/>
<path d="M393.35,575.1V574.54M418.71,575.1V526.55M444.07,575.1V488.61M469.43,575.1V492.24M494.79,575.1V533.25M520.15,575.1V564.5M545.51,575.1V573.43M570.87,575.1V574.82" fill="none" stroke="#dd99ff" stroke-width="2.4"/>
<path d="M397.25,575.1V574.26M422.61,575.1V563.66M447.97,575.1V536.6M473.33,575.1V528.79M498.69,575.1V530.18M524.05,575.1V533.25M549.41,575.1V541.9M574.77,575.1V548.87M600.13,575.1V558.36M625.49,575.1V566.17M650.85,575.1V564.78" fill="none" stroke="#7b7b7b" stroke-width="2.4"/>
<path d="M401.15,575.1V574.82M426.51,575.1V550.55M451.87,575.1V513.44M477.23,575.1V496.7M502.59,575.1V504.51M527.95,575.1V543.29M553.31,575.1V566.73M578.67,575.1V573.71M604.03,575.1V574.82" fill="none" stroke="#b32cf0" stroke-width="2.4"/>
<polyline points="381.65,572.87 407.01,558.64 432.37,527.95 457.73,519.3 483.09,513.44 508.45,528.79 533.81,546.08 559.17,562.27 584.53,570.92 609.89,573.43 635.25,574.26" fill="none" stroke="#d9d9d9" stroke-width="1.4" stroke-dasharray="4 2.4"/>
<polyline points="385.55,557.52 410.91,466.29 436.27,470.2 461.63,538.83 486.99,565.34 512.35,573.98 537.71,574.82 563.07,575.1 588.43,575.1 613.79,575.1 639.15,575.1" fill="none" stroke="#f2373c" stroke-width="1.4" stroke-dasharray="4 2.4"/>
<polyline points="389.45,573.71 414.81,561.99 440.17,526.55 465.53,514 490.89,512.6 516.25,524.88 541.61,547.76 566.97,566.17 592.33,572.31 617.69,573.98 643.05,574.82" fill="none" stroke="#a3a3a3" stroke-width="1.4" stroke-dasharray="4 2.4"/>
<polyline points="393.35,574.54 418.71,526.55 444.07,488.61 469.43,492.24 494.79,533.25 520.15,564.5 545.51,573.43 570.87,574.82 596.23,575.1 621.59,575.1 646.95,575.1" fill="none" stroke="#dd99ff" stroke-width="1.4" stroke-dasharray="4 2.4"/>
<polyline points="397.25,574.26 422.61,563.66 447.97,536.6 473.33,528.79 498.69,530.18 524.05,533.25 549.41,541.9 574.77,548.87 600.13,558.36 625.49,566.17 650.85,564.78" fill="none" stroke="#7b7b7b" stroke-width="1.4" stroke-dasharray="4 2.4"/>
<polyline points="401.15,574.82 426.51,550.55 451.87,513.44 477.23,496.7 502.59,504.51 527.95,543.29 553.31,566.73 578.67,573.71 604.03,574.82 629.39,575.1 654.75,575.1" fill="none" stroke="#b32cf0" stroke-width="1.4" stroke-dasharray="4 2.4"/>
<line x1="379.6" y1="435.6" x2="379.6" y2="575.6" stroke="#111" stroke-width="1.3"/>
<line x1="379.1" y1="575.1" x2="657.8" y2="575.1" stroke="#111" stroke-width="1.3"/>
<line x1="374.6" y1="575.1" x2="379.6" y2="575.1" stroke="#111" stroke-width="1.3"/>
<text x="372" y="578.3" font-size="9.2" text-anchor="end" fill="#111" stroke="#111">0</text>
<line x1="374.6" y1="547.2" x2="379.6" y2="547.2" stroke="#111" stroke-width="1.3"/>
<text x="372" y="550.4" font-size="9.2" text-anchor="end" fill="#111" stroke="#111">10</text>
<line x1="374.6" y1="519.3" x2="379.6" y2="519.3" stroke="#111" stroke-width="1.3"/>
<text x="372" y="522.5" font-size="9.2" text-anchor="end" fill="#111" stroke="#111">20</text>
<line x1="374.6" y1="491.4" x2="379.6" y2="491.4" stroke="#111" stroke-width="1.3"/>
<text x="372" y="494.6" font-size="9.2" text-anchor="end" fill="#111" stroke="#111">30</text>
<line x1="374.6" y1="463.5" x2="379.6" y2="463.5" stroke="#111" stroke-width="1.3"/>
<text x="372" y="466.7" font-size="9.2" text-anchor="end" fill="#111" stroke="#111">40</text>
<line x1="374.6" y1="435.6" x2="379.6" y2="435.6" stroke="#111" stroke-width="1.3"/>
<text x="372" y="438.8" font-size="9.2" text-anchor="end" fill="#111" stroke="#111">50</text>
<line x1="391.4" y1="575.1" x2="391.4" y2="579.1" stroke="#111" stroke-width="1.3"/>
<text x="395" y="586.1" font-size="9.3" text-anchor="end" fill="#111" stroke="#111" transform="rotate(-45 395 586.1)">0-500</text>
<line x1="416.76" y1="575.1" x2="416.76" y2="579.1" stroke="#111" stroke-width="1.3"/>
<text x="420.36" y="586.1" font-size="9.3" text-anchor="end" fill="#111" stroke="#111" transform="rotate(-45 420.36 586.1)">500-1000</text>
<line x1="442.12" y1="575.1" x2="442.12" y2="579.1" stroke="#111" stroke-width="1.3"/>
<text x="445.72" y="586.1" font-size="9.3" text-anchor="end" fill="#111" stroke="#111" transform="rotate(-45 445.72 586.1)">1000-1500</text>
<line x1="467.48" y1="575.1" x2="467.48" y2="579.1" stroke="#111" stroke-width="1.3"/>
<text x="471.08" y="586.1" font-size="9.3" text-anchor="end" fill="#111" stroke="#111" transform="rotate(-45 471.08 586.1)">1500-2000</text>
<line x1="492.84" y1="575.1" x2="492.84" y2="579.1" stroke="#111" stroke-width="1.3"/>
<text x="496.44" y="586.1" font-size="9.3" text-anchor="end" fill="#111" stroke="#111" transform="rotate(-45 496.44 586.1)">2000-2500</text>
<line x1="518.2" y1="575.1" x2="518.2" y2="579.1" stroke="#111" stroke-width="1.3"/>
<text x="521.8" y="586.1" font-size="9.3" text-anchor="end" fill="#111" stroke="#111" transform="rotate(-45 521.8 586.1)">2500-3000</text>
<line x1="543.56" y1="575.1" x2="543.56" y2="579.1" stroke="#111" stroke-width="1.3"/>
<text x="547.16" y="586.1" font-size="9.3" text-anchor="end" fill="#111" stroke="#111" transform="rotate(-45 547.16 586.1)">3000-3500</text>
<line x1="568.92" y1="575.1" x2="568.92" y2="579.1" stroke="#111" stroke-width="1.3"/>
<text x="572.52" y="586.1" font-size="9.3" text-anchor="end" fill="#111" stroke="#111" transform="rotate(-45 572.52 586.1)">3500-4000</text>
<line x1="594.28" y1="575.1" x2="594.28" y2="579.1" stroke="#111" stroke-width="1.3"/>
<text x="597.88" y="586.1" font-size="9.3" text-anchor="end" fill="#111" stroke="#111" transform="rotate(-45 597.88 586.1)">4000-4500</text>
<line x1="619.64" y1="575.1" x2="619.64" y2="579.1" stroke="#111" stroke-width="1.3"/>
<text x="623.24" y="586.1" font-size="9.3" text-anchor="end" fill="#111" stroke="#111" transform="rotate(-45 623.24 586.1)">4500-5000</text>
<line x1="645" y1="575.1" x2="645" y2="579.1" stroke="#111" stroke-width="1.3"/>
<text x="648.6" y="586.1" font-size="9.3" text-anchor="end" fill="#111" stroke="#111" transform="rotate(-45 648.6 586.1)">&gt;5000</text>
<text x="340.2" y="512" font-size="10.1" text-anchor="middle" fill="#111" stroke="#111" transform="rotate(-90 340.2 512)">Frequency distribution</text>
<text x="352" y="512" font-size="10.2" text-anchor="middle" fill="#111" stroke="#111" transform="rotate(-90 352 512)">of myofibers (%)</text>
<line x1="580" y1="441.9" x2="591" y2="441.9" stroke="#d9d9d9" stroke-width="2.6"/>
<text x="595.6" y="445.3" font-size="9.6" fill="#111" stroke="#111">Ctrl</text>
<line x1="580" y1="456.6" x2="591" y2="456.6" stroke="#a3a3a3" stroke-width="2.6"/>
<text x="595.6" y="460" font-size="9.6" fill="#111" stroke="#111">Irisin (0.5mg/kg)</text>
<line x1="580" y1="472" x2="591" y2="472" stroke="#7b7b7b" stroke-width="2.6"/>
<text x="595.6" y="475.4" font-size="9.6" fill="#111" stroke="#111">Irisin (1mg/kg)</text>
<line x1="580" y1="486.9" x2="591" y2="486.9" stroke="#f2373c" stroke-width="2.6"/>
<text x="595.6" y="490.3" font-size="9.6" fill="#111" stroke="#111">Dex</text>
<line x1="580" y1="502.1" x2="591" y2="502.1" stroke="#dd99ff" stroke-width="2.6"/>
<text x="595.6" y="505.5" font-size="9.6" fill="#111" stroke="#111">Dex +Irisin(0.5mg/kg)</text>
<line x1="580" y1="518.3" x2="591" y2="518.3" stroke="#b32cf0" stroke-width="2.6"/>
<text x="595.6" y="521.7" font-size="9.6" fill="#111" stroke="#111">Dex +Irisin (1mg/kg)</text>
<text x="7" y="626.9" font-size="17.5" fill="#111" stroke="#111">F</text>
<polygon points="88.42,734.65 89.25,733.31 89.93,731.97 90.64,730.63 91.02,729.29 91.54,727.95 91.84,726.61 92.48,725.27 92.92,723.93 92.86,722.59 93.22,721.25 93.25,719.9 93.43,718.56 93.77,717.22 93.51,715.88 93.65,714.54 93.74,713.2 94.26,711.86 94.35,710.52 94.51,709.18 94.59,707.84 94.34,706.5 94.02,705.16 94.03,703.82 93.54,702.48 93.62,701.14 93.06,699.8 93.16,698.46 92.63,697.12 92.27,695.78 91.89,694.44 91.83,693.1 91.37,691.76 91.11,690.41 90.53,689.07 90.52,687.73 90.32,686.39 90.14,685.05 90.13,683.71 89.83,682.37 89.49,681.03 89.42,679.69 89.49,678.35 89.1,677.01 89.33,675.67 89.27,674.33 88.97,672.99 88.86,671.65 88.88,670.31 88.83,668.97 88.86,667.63 88.72,666.29 88.91,664.95 88.35,663.61 88.28,662.26 88.14,660.92 88.27,659.58 88.04,658.24 88.12,656.9 87.97,655.56 86.39,655.56 86.28,656.9 86.32,658.24 86.15,659.58 86.21,660.92 86.07,662.26 85.99,663.61 85.56,664.95 85.67,666.29 85.55,667.63 85.55,668.97 85.49,670.31 85.49,671.65 85.39,672.99 85.16,674.33 85.09,675.67 85.24,677.01 84.94,678.35 84.97,679.69 84.89,681.03 84.6,682.37 84.33,683.71 84.27,685.05 84.1,686.39 83.9,687.73 83.8,689.07 83.3,690.41 83.03,691.76 82.61,693.1 82.48,694.44 82.12,695.78 81.77,697.12 81.31,698.46 81.28,699.8 80.8,701.14 80.8,702.48 80.42,703.82 80.37,705.16 80.1,706.5 79.88,707.84 79.95,709.18 80.1,710.52 80.19,711.86 80.59,713.2 80.69,714.54 80.83,715.88 80.69,717.22 80.98,718.56 81.15,719.9 81.22,721.25 81.52,722.59 81.55,723.93 81.98,725.27 82.55,726.61 82.88,727.95 83.36,729.29 83.76,730.63 84.48,731.97 85.18,733.31 85.98,734.65" fill="#d5d5d5" stroke="#d5d5d5" stroke-width="0.6" stroke-linejoin="round"/>
<polygon points="112.26,737.84 113.03,737.08 113.29,736.32 114.06,735.56 114.6,734.8 114.98,734.04 115.38,733.28 115.82,732.52 116.2,731.76 116.63,731 116.92,730.25 117.41,729.49 117.42,728.73 117.89,727.97 117.6,727.21 118.06,726.45 118.07,725.69 118.28,724.93 118.21,724.17 118.32,723.41 118.47,722.65 118.41,721.89 117.93,721.13 117.97,720.37 117.91,719.61 117.77,718.85 117.21,718.09 116.94,717.33 116.75,716.57 116.84,715.81 116.19,715.05 116.09,714.29 116.1,713.53 115.63,712.77 115.48,712.01 115.08,711.26 115.06,710.5 114.92,709.74 114.31,708.98 114.47,708.22 114.38,707.46 114.05,706.7 113.61,705.94 113.7,705.18 113.26,704.42 113.33,703.66 113.47,702.9 113.06,702.14 112.96,701.38 112.78,700.62 112.63,699.86 112.86,699.1 112.53,698.34 112.49,697.58 112.54,696.82 112.25,696.06 112.44,695.3 112.16,694.54 112.31,693.78 112.3,693.03 109.93,693.03 109.9,693.78 109.99,694.54 109.77,695.3 109.88,696.06 109.66,696.82 109.67,697.58 109.62,698.34 109.37,699.1 109.5,699.86 109.36,700.62 109.21,701.38 109.11,702.14 108.8,702.9 108.86,703.66 108.88,704.42 108.54,705.18 108.56,705.94 108.19,706.7 107.9,707.46 107.77,708.22 107.82,708.98 107.33,709.74 107.17,710.5 107.09,711.26 106.75,712.01 106.58,712.77 106.17,713.53 106.1,714.29 105.95,715.05 105.42,715.81 105.4,716.57 105.19,717.33 104.93,718.09 104.49,718.85 104.35,719.61 104.26,720.37 104.24,721.13 103.87,721.89 103.77,722.65 103.83,723.41 103.94,724.17 103.93,724.93 104.11,725.69 104.16,726.45 104.52,727.21 104.36,727.97 104.74,728.73 104.82,729.49 105.26,730.25 105.58,731 105.98,731.76 106.36,732.52 106.77,733.28 107.16,734.04 107.55,734.8 108.11,735.56 108.84,736.32 109.2,737.08 109.93,737.84" fill="#f0363c" stroke="#f0363c" stroke-width="0.6" stroke-linejoin="round"/>
<polygon points="136.77,735.07 137.16,734.01 138.02,732.96 138.56,731.91 139.15,730.85 139.47,729.8 139.65,728.74 140.1,727.69 140.19,726.64 140.41,725.58 140.83,724.53 141.03,723.48 141,722.42 141.35,721.37 141.35,720.32 141.82,719.26 142.02,718.21 142.01,717.16 142.31,716.1 141.99,715.05 142.27,714 142.11,712.94 142.36,711.89 142.26,710.83 142.35,709.78 142.65,708.73 142.32,707.67 142.12,706.62 142.03,705.57 141.96,704.51 141.87,703.46 141.59,702.41 141.67,701.35 141.35,700.3 141.12,699.25 140.82,698.19 140.78,697.14 140.43,696.08 139.97,695.03 140.01,693.98 139.91,692.92 139.45,691.87 139.42,690.82 138.92,689.76 138.8,688.71 138.5,687.66 138.36,686.6 138.39,685.55 138.13,684.5 138.2,683.44 137.86,682.39 137.49,681.33 137.5,680.28 137.6,679.23 137.24,678.17 136.92,677.12 136.89,676.07 136.66,675.01 136.98,673.96 136.84,672.91 134.44,672.91 134.29,673.96 134.48,675.01 134.27,676.07 134.21,677.12 133.94,678.17 133.65,679.23 133.68,680.28 133.64,681.33 133.34,682.39 133.06,683.44 133.07,684.5 132.85,685.55 132.84,686.6 132.69,687.66 132.41,688.71 132.26,689.76 131.84,690.82 131.75,691.87 131.36,692.92 131.22,693.98 131.18,695.03 130.79,696.08 130.47,697.14 130.37,698.19 130.08,699.25 129.85,700.3 129.55,701.35 129.56,702.41 129.32,703.46 129.22,704.51 129.12,705.57 129.02,706.62 128.84,707.67 128.57,708.73 128.8,709.78 128.88,710.83 128.83,711.89 129.02,712.94 128.93,714 129.15,715.05 128.95,716.1 129.19,717.16 129.23,718.21 129.42,719.26 129.8,720.32 129.85,721.37 130.15,722.42 130.18,723.48 130.38,724.53 130.75,725.58 130.98,726.64 131.11,727.69 131.5,728.74 131.7,729.8 132.03,730.85 132.63,731.91 133.19,732.96 133.97,734.01 134.42,735.07" fill="#a2a2a2" stroke="#a2a2a2" stroke-width="0.6" stroke-linejoin="round"/>
<polygon points="161.23,735.07 161.86,734.25 162.2,733.43 162.87,732.61 163.61,731.79 164.17,730.97 164.21,730.16 164.5,729.34 164.67,728.52 165.11,727.7 165.16,726.88 165.62,726.06 165.96,725.25 166.02,724.43 166.47,723.61 166.51,722.79 166.3,721.97 166.64,721.15 166.56,720.34 166.71,719.52 166.71,718.7 166.99,717.88 166.93,717.06 166.78,716.24 166.85,715.42 166.85,714.61 166.5,713.79 166.34,712.97 166.3,712.15 166.46,711.33 166.36,710.51 166.09,709.7 165.97,708.88 165.71,708.06 165.24,707.24 164.86,706.42 164.9,705.6 164.62,704.79 164.29,703.97 163.98,703.15 163.87,702.33 163.72,701.51 163.44,700.69 163.28,699.88 163.18,699.06 163.21,698.24 162.89,697.42 162.57,696.6 162.39,695.78 162.33,694.97 162.05,694.15 161.91,693.33 161.91,692.51 161.55,691.69 161.6,690.87 161.4,690.05 161.46,689.24 161.36,688.42 161.21,687.6 161.09,686.78 158.93,686.78 158.82,687.6 158.68,688.42 158.57,689.24 158.58,690.05 158.39,690.87 158.38,691.69 158.09,692.51 158.05,693.33 157.9,694.15 157.67,694.97 157.58,695.78 157.4,696.6 157.12,697.42 156.85,698.24 156.81,699.06 156.69,699.88 156.52,700.69 156.28,701.51 156.12,702.33 155.98,703.15 155.69,703.97 155.39,704.79 155.12,705.6 155.08,706.42 154.74,707.24 154.34,708.06 154.09,708.88 153.94,709.7 153.71,710.51 153.61,711.33 153.68,712.15 153.62,712.97 153.47,713.79 153.19,714.61 153.16,715.42 153.17,716.24 153.06,717.06 153.04,717.88 153.26,718.7 153.28,719.52 153.41,720.34 153.37,721.15 153.63,721.97 153.5,722.79 153.56,723.61 153.94,724.43 154.06,725.25 154.38,726.06 154.77,726.88 154.88,727.7 155.26,728.52 155.45,729.34 155.73,730.16 155.89,730.97 156.45,731.79 157.13,732.61 157.77,733.43 158.17,734.25 158.78,735.07" fill="#dd8cff" stroke="#dd8cff" stroke-width="0.6" stroke-linejoin="round"/>
<polygon points="185.93,735.34 186.62,733.73 187.73,732.12 188.49,730.51 188.9,728.9 189.06,727.29 189.85,725.68 189.77,724.07 190.3,722.46 190.64,720.85 191.03,719.23 190.96,717.62 191.5,716.01 191.78,714.4 191.59,712.79 191.92,711.18 191.71,709.57 191.99,707.96 191.9,706.35 192.4,704.74 192.02,703.13 192.15,701.51 191.95,699.9 191.84,698.29 191.26,696.68 190.98,695.07 191.01,693.46 190.56,691.85 190.61,690.24 190.16,688.63 189.93,687.02 189.85,685.41 189.35,683.79 188.85,682.18 188.59,680.57 188.49,678.96 188.19,677.35 187.95,675.74 187.55,674.13 187.46,672.52 187.17,670.91 187.12,669.3 187.02,667.69 186.56,666.07 186.5,664.46 186.45,662.85 186.46,661.24 186.16,659.63 186.23,658.02 186.18,656.41 186.23,654.8 185.9,653.19 185.98,651.58 185.69,649.97 185.79,648.35 185.57,646.74 185.87,645.13 185.54,643.52 185.65,641.91 185.36,640.3 183.63,640.3 183.4,641.91 183.45,643.52 183.19,645.13 183.38,646.74 183.21,648.35 183.26,649.97 183.05,651.58 183.08,653.19 182.83,654.8 182.84,656.41 182.78,658.02 182.81,659.63 182.57,661.24 182.55,662.85 182.48,664.46 182.39,666.07 182.02,667.69 181.9,669.3 181.81,670.91 181.56,672.52 181.44,674.13 181.07,675.74 180.82,677.35 180.52,678.96 180.36,680.57 180.09,682.18 179.66,683.79 179.22,685.41 179.07,687.02 178.82,688.63 178.42,690.24 178.39,691.85 178,693.46 177.95,695.07 177.69,696.68 177.21,698.29 177.1,699.9 176.92,701.51 176.97,703.13 176.67,704.74 177.03,706.35 177,707.96 177.22,709.57 177.1,711.18 177.36,712.79 177.29,714.4 177.55,716.01 178,717.62 178.01,719.23 178.35,720.85 178.66,722.46 179.15,724.07 179.22,725.68 179.89,727.29 180.13,728.9 180.54,730.51 181.34,732.12 182.39,733.73 183.14,735.34" fill="#7c7c7c" stroke="#7c7c7c" stroke-width="0.6" stroke-linejoin="round"/>
<circle cx="184.5" cy="636.14" r="1.4" fill="#7c7c7c" stroke="none" stroke-width="1"/>
<circle cx="184.5" cy="630.87" r="1.4" fill="#7c7c7c" stroke="none" stroke-width="1"/>
<polygon points="209.86,733.54 210.78,732.74 211.04,731.95 211.99,731.15 212.36,730.35 213.02,729.55 213.53,728.76 213.64,727.96 213.76,727.16 213.93,726.36 214.11,725.57 214.67,724.77 214.75,723.97 214.84,723.18 215.43,722.38 215.27,721.58 215.46,720.78 215.51,719.99 215.79,719.19 215.88,718.39 216.01,717.6 215.96,716.8 216.08,716 216.18,715.2 216.25,714.41 216.2,713.61 216.25,712.81 216.69,712.01 216.72,711.22 216.23,710.42 216.01,709.62 215.97,708.83 216.08,708.03 215.98,707.23 215.46,706.43 215.6,705.64 215.17,704.84 215.28,704.04 215.05,703.25 214.94,702.45 214.29,701.65 214.27,700.85 214.02,700.06 213.76,699.26 213.01,698.46 212.96,697.66 212.93,696.87 212.35,696.07 212.27,695.27 211.85,694.48 211.67,693.68 211.24,692.88 210.73,692.08 210.53,691.29 210.4,690.49 210.33,689.69 210.55,688.9 210.25,688.1 210.2,687.3 209.93,686.5 207.68,686.5 207.45,687.3 207.37,688.1 207.12,688.9 207.23,689.69 207.14,690.49 207.01,691.29 206.8,692.08 206.36,692.88 205.97,693.68 205.76,694.48 205.38,695.27 205.24,696.07 204.75,696.87 204.64,697.66 204.51,698.46 203.91,699.26 203.64,700.06 203.37,700.85 203.28,701.65 202.73,702.45 202.57,703.25 202.32,704.04 202.35,704.84 202.01,705.64 202.07,706.43 201.66,707.23 201.55,708.03 201.59,708.83 201.52,709.62 201.32,710.42 200.95,711.22 200.98,712.01 201.3,712.81 201.35,713.61 201.32,714.41 201.39,715.2 201.49,716 201.61,716.8 201.61,717.6 201.73,718.39 201.83,719.19 202.06,719.99 202.13,720.78 202.3,721.58 202.23,722.38 202.71,723.18 202.84,723.97 202.97,724.77 203.43,725.57 203.62,726.36 203.81,727.16 203.96,727.96 204.11,728.76 204.6,729.55 205.23,730.35 205.68,731.15 206.52,731.95 206.88,732.74 207.7,733.54" fill="#ad4cf0" stroke="#ad4cf0" stroke-width="0.6" stroke-linejoin="round"/>
<circle cx="208.8" cy="682.2" r="1.4" fill="#ad4cf0" stroke="none" stroke-width="1"/>
<circle cx="208.8" cy="670.13" r="1.4" fill="#ad4cf0" stroke="none" stroke-width="1"/>
<line x1="133" y1="708.98" x2="138.2" y2="708.98" stroke="#222" stroke-width="1"/>
<line x1="181.9" y1="704.12" x2="187.1" y2="704.12" stroke="#222" stroke-width="1"/>
<line x1="67.2" y1="601.45" x2="67.2" y2="740.7" stroke="#111" stroke-width="1.3"/>
<line x1="66.7" y1="740.2" x2="218.3" y2="740.2" stroke="#111" stroke-width="1.3"/>
<line x1="62.2" y1="740.2" x2="67.2" y2="740.2" stroke="#111" stroke-width="1.3"/>
<text x="59.8" y="743.5" font-size="9.5" text-anchor="end" fill="#111" stroke="#111">0</text>
<line x1="62.2" y1="712.45" x2="67.2" y2="712.45" stroke="#111" stroke-width="1.3"/>
<text x="59.8" y="715.75" font-size="9.5" text-anchor="end" fill="#111" stroke="#111">2000</text>
<line x1="62.2" y1="684.7" x2="67.2" y2="684.7" stroke="#111" stroke-width="1.3"/>
<text x="59.8" y="688" font-size="9.5" text-anchor="end" fill="#111" stroke="#111">4000</text>
<line x1="62.2" y1="656.95" x2="67.2" y2="656.95" stroke="#111" stroke-width="1.3"/>
<text x="59.8" y="660.25" font-size="9.5" text-anchor="end" fill="#111" stroke="#111">6000</text>
<line x1="62.2" y1="629.2" x2="67.2" y2="629.2" stroke="#111" stroke-width="1.3"/>
<text x="59.8" y="632.5" font-size="9.5" text-anchor="end" fill="#111" stroke="#111">8000</text>
<line x1="62.2" y1="601.45" x2="67.2" y2="601.45" stroke="#111" stroke-width="1.3"/>
<text x="59.8" y="604.75" font-size="9.5" text-anchor="end" fill="#111" stroke="#111">10000</text>
<line x1="87.2" y1="740.2" x2="87.2" y2="744.2" stroke="#111" stroke-width="1.3"/>
<text x="89.1" y="751.2" font-size="8.4" text-anchor="end" fill="#111" stroke="#111" transform="rotate(-35 89.1 751.2)">Ctrl</text>
<line x1="111.1" y1="740.2" x2="111.1" y2="744.2" stroke="#111" stroke-width="1.3"/>
<text x="112" y="751.7" font-size="8.4" text-anchor="end" fill="#111" stroke="#111" transform="rotate(-35 112 751.7)">Dex</text>
<line x1="135.6" y1="740.2" x2="135.6" y2="744.2" stroke="#111" stroke-width="1.3"/>
<text x="140.6" y="751.2" font-size="8.4" text-anchor="end" fill="#111" stroke="#111" transform="rotate(-35 140.6 751.2)">Irisin (0.5mg/kg)</text>
<line x1="160" y1="740.2" x2="160" y2="744.2" stroke="#111" stroke-width="1.3"/>
<text x="166.8" y="751.2" font-size="8.4" text-anchor="end" fill="#111" stroke="#111" transform="rotate(-35 166.8 751.2)">Dex+Irisin(0.5mg/kg)</text>
<line x1="184.5" y1="740.2" x2="184.5" y2="744.2" stroke="#111" stroke-width="1.3"/>
<text x="189.1" y="751.2" font-size="8.4" text-anchor="end" fill="#111" stroke="#111" transform="rotate(-35 189.1 751.2)">Irisin (1mg/kg)</text>
<line x1="208.8" y1="740.2" x2="208.8" y2="744.2" stroke="#111" stroke-width="1.3"/>
<text x="216.5" y="749.7" font-size="8.4" text-anchor="end" fill="#111" stroke="#111" transform="rotate(-35 216.5 749.7)">Dex+Irisin (1mg/kg)</text>
<text x="28.5" y="670.6" font-size="9.6" text-anchor="middle" fill="#111" stroke="#111" transform="rotate(-90 28.5 670.6)">Myofiber CSA(μm<tspan font-size="7.4" dy="-4">2</tspan><tspan dy="4">)</tspan></text>
<polyline points="87.2,649 87.2,646 111.1,646 111.1,674.8" fill="none" stroke="#aaaaaa" stroke-width="1"/>
<text x="100" y="644.4" font-size="13" text-anchor="middle" font-weight="normal" fill="#222" stroke="#222" stroke-width="0.15">**</text>
<polyline points="115.9,636.7 115.9,630.4 159.8,630.4 159.8,662.6" fill="none" stroke="#222" stroke-width="1"/>
<text x="137.9" y="629.2" font-size="13" text-anchor="middle" font-weight="normal" fill="#222" stroke="#222" stroke-width="0.15">**</text>
<polyline points="115.9,624 115.9,617.5 209.4,617.5 209.4,640.2" fill="none" stroke="#222" stroke-width="1"/>
<text x="163.1" y="616.4" font-size="13" text-anchor="middle" font-weight="normal" fill="#222" stroke="#222" stroke-width="0.15">**</text>
<filter id="b1" x="-20%" y="-50%" width="140%" height="200%"><feGaussianBlur stdDeviation="0.8"/></filter>
<filter id="b05" x="-20%" y="-50%" width="140%" height="200%"><feGaussianBlur stdDeviation="0.45"/></filter>
<text x="337.4" y="629.5" font-size="17.5" fill="#111" stroke="#111">G</text>
<text x="423.2" y="636.8" font-size="10.3" text-anchor="middle" fill="#111" stroke="#111">Ctrl</text>
<line x1="388.3" y1="640.6" x2="455.6" y2="640.6" stroke="#222" stroke-width="1"/>
<text x="495.8" y="637.1" font-size="10" text-anchor="middle" fill="#111" stroke="#111">Irisin(0.5mg/kg)</text>
<line x1="461" y1="640.9" x2="530.5" y2="640.9" stroke="#222" stroke-width="1"/>
<text x="570.2" y="637.1" font-size="10" text-anchor="middle" fill="#111" stroke="#111">Irisin(1mg/kg)</text>
<line x1="537.3" y1="641.1" x2="600.5" y2="641.1" stroke="#222" stroke-width="1"/>
<text x="406.8" y="651.8" font-size="10.2" text-anchor="middle" fill="#111" stroke="#111">Veh</text>
<text x="442.7" y="651.8" font-size="10.2" text-anchor="middle" fill="#111" stroke="#111">Dex</text>
<text x="478.5" y="651.8" font-size="10.2" text-anchor="middle" fill="#111" stroke="#111">Veh</text>
<text x="514" y="651.8" font-size="10.2" text-anchor="middle" fill="#111" stroke="#111">Dex</text>
<text x="550.3" y="651.8" font-size="10.2" text-anchor="middle" fill="#111" stroke="#111">Veh</text>
<text x="585.4" y="651.8" font-size="10.2" text-anchor="middle" fill="#111" stroke="#111">Dex</text>
<text x="627" y="651.5" font-size="7.6" fill="#111" stroke="#111">kDa</text>
<rect x="379.6" y="656.8" width="232.6" height="18.6" fill="#efefef" stroke="#3c3c3c" stroke-width="1.2"/>
<line x1="616" y1="667.2" x2="625.6" y2="667.2" stroke="#222" stroke-width="1.1"/>
<text x="629" y="670.5" font-size="9.3" fill="#111" stroke="#111">42</text>
<rect x="379.6" y="681.2" width="232.6" height="18.2" fill="#efefef" stroke="#3c3c3c" stroke-width="1.2"/>
<line x1="616" y1="685.4" x2="625.6" y2="685.4" stroke="#222" stroke-width="1.1"/>
<text x="629" y="688.7" font-size="9.3" fill="#111" stroke="#111">40</text>
<rect x="379.6" y="706" width="232.6" height="18.2" fill="#e0e0e0" stroke="#3c3c3c" stroke-width="1.2"/>
<line x1="616" y1="717.6" x2="625.6" y2="717.6" stroke="#222" stroke-width="1.1"/>
<text x="629" y="720.9" font-size="9.3" fill="#111" stroke="#111">69</text>
<rect x="379.6" y="731" width="232.6" height="16.9" fill="#efefef" stroke="#3c3c3c" stroke-width="1.2"/>
<line x1="616" y1="737.8" x2="625.6" y2="737.8" stroke="#222" stroke-width="1.1"/>
<text x="629" y="741.1" font-size="9.3" fill="#111" stroke="#111">69</text>
<rect x="379.6" y="754.6" width="232.6" height="17.7" fill="#efefef" stroke="#3c3c3c" stroke-width="1.2"/>
<line x1="616" y1="764.2" x2="625.6" y2="764.2" stroke="#222" stroke-width="1.1"/>
<text x="629" y="767.5" font-size="9.3" fill="#111" stroke="#111">39</text>
<text x="356.7" y="668.9" font-size="9.7" text-anchor="middle" fill="#111" stroke="#111">Atrogin-1</text>
<text x="357.4" y="693.2" font-size="9.7" text-anchor="middle" fill="#111" stroke="#111">MuRF-1</text>
<text x="356.3" y="712.7" font-size="9.7" text-anchor="middle" fill="#111" stroke="#111">P-AKT</text>
<text x="353.4" y="724.1" font-size="9.7" text-anchor="middle" fill="#111" stroke="#111">(Ser 473)</text>
<text x="354" y="744.1" font-size="9.7" text-anchor="middle" fill="#111" stroke="#111">AKT</text>
<text x="354" y="768.8" font-size="9.7" text-anchor="middle" fill="#111" stroke="#111">GAPDH</text>
<path d="M388.6,662.4 C388.94,670.67 422.26,670.67 422.6,662.4 Z" fill="#9c9c9c" opacity="0.9" filter="url(#b1)"/>
<path d="M388.6,662.4 C388.94,670.67 422.26,670.67 422.6,662.4 L422,663 C420.9,667 390.3,667 389.2,663 Z" fill="#151515" filter="url(#b05)"/>
<path d="M425.3,661.8 C425.67,672.47 461.73,672.47 462.1,661.8 Z" fill="#6a6a6a" opacity="0.9" filter="url(#b1)"/>
<path d="M425.3,661.8 C425.67,672.47 461.73,672.47 462.1,661.8 L461.5,662.4 C460.26,667.73 427.14,667.73 425.9,662.4 Z" fill="#050505" filter="url(#b05)"/>
<path d="M463,662.4 C463.34,670.93 496.66,670.93 497,662.4 Z" fill="#989898" opacity="0.9" filter="url(#b1)"/>
<path d="M463,662.4 C463.34,670.93 496.66,670.93 497,662.4 L496.4,663 C495.3,667.13 464.7,667.13 463.6,663 Z" fill="#151515" filter="url(#b05)"/>
<path d="M499,662.4 C499.34,671.2 532.66,671.2 533,662.4 Z" fill="#9a9a9a" opacity="0.9" filter="url(#b1)"/>
<path d="M499,662.4 C499.34,671.2 532.66,671.2 533,662.4 L532.4,663 C531.3,667.4 500.7,667.4 499.6,663 Z" fill="#151515" filter="url(#b05)"/>
<path d="M537.4,662.6 C537.72,670.33 568.68,670.33 569,662.6 Z" fill="#a4a4a4" opacity="0.9" filter="url(#b1)"/>
<path d="M537.4,662.6 C537.72,670.33 568.68,670.33 569,662.6 L568.4,663.2 C567.42,666.93 538.98,666.93 538,663.2 Z" fill="#1a1a1a" filter="url(#b05)"/>
<path d="M571.8,662.2 C572.14,671.27 605.46,671.27 605.8,662.2 Z" fill="#a0a0a0" opacity="0.9" filter="url(#b1)"/>
<path d="M571.8,662.2 C572.14,671.27 605.46,671.27 605.8,662.2 L605.2,662.8 C604.1,667.47 573.5,667.47 572.4,662.8 Z" fill="#151515" filter="url(#b05)"/>
<ellipse cx="597" cy="673" rx="4.5" ry="1.3" fill="#555" filter="url(#b05)"/>
<rect x="388.5" y="686.1" width="27" height="3" rx="1.5" fill="#3a3a3a" opacity="1" filter="url(#b1)"/>
<path d="M388.5,691.2 C388.77,696.8 415.23,696.8 415.5,691.2 Z" fill="#555555" opacity="0.9" filter="url(#b1)"/>
<path d="M388.5,691.2 C388.77,696.8 415.23,696.8 415.5,691.2 L414.9,691.8 C414.15,694.2 389.85,694.2 389.1,691.8 Z" fill="#555555" filter="url(#b05)"/>
<rect x="427" y="685.2" width="28" height="4.8" rx="2.4" fill="#000000" opacity="1" filter="url(#b1)"/>
<path d="M427,691.2 C427.28,696.8 454.72,696.8 455,691.2 Z" fill="#2e2e2e" opacity="0.9" filter="url(#b1)"/>
<path d="M427,691.2 C427.28,696.8 454.72,696.8 455,691.2 L454.4,691.8 C453.6,693.6 428.4,693.6 427.6,691.8 Z" fill="#2e2e2e" filter="url(#b05)"/>
<rect x="466.5" y="686.6" width="26" height="2" rx="1" fill="#d0d0d0" opacity="1" filter="url(#b1)"/>
<path d="M466.5,691.2 C466.76,696.8 492.24,696.8 492.5,691.2 Z" fill="#d2d2d2" opacity="0.9" filter="url(#b1)"/>
<path d="M466.5,691.2 C466.76,696.8 492.24,696.8 492.5,691.2 L491.9,691.8 C491.2,695.16 467.8,695.16 467.1,691.8 Z" fill="#d2d2d2" filter="url(#b05)"/>
<rect x="503.5" y="686.5" width="28" height="2.2" rx="1.1" fill="#9a9a9a" opacity="1" filter="url(#b1)"/>
<path d="M503.5,691.2 C503.78,696.8 531.22,696.8 531.5,691.2 Z" fill="#909090" opacity="0.9" filter="url(#b1)"/>
<path d="M503.5,691.2 C503.78,696.8 531.22,696.8 531.5,691.2 L530.9,691.8 C530.1,694.68 504.9,694.68 504.1,691.8 Z" fill="#909090" filter="url(#b05)"/>
<rect x="542" y="686" width="28" height="3.2" rx="1.6" fill="#222222" opacity="1" filter="url(#b1)"/>
<path d="M542,691.2 C542.28,696.8 569.72,696.8 570,691.2 Z" fill="#4a4a4a" opacity="0.9" filter="url(#b1)"/>
<path d="M542,691.2 C542.28,696.8 569.72,696.8 570,691.2 L569.4,691.8 C568.6,694.2 543.4,694.2 542.6,691.8 Z" fill="#4a4a4a" filter="url(#b05)"/>
<rect x="580.5" y="686.5" width="27" height="2.2" rx="1.1" fill="#b0b0b0" opacity="1" filter="url(#b1)"/>
<path d="M580.5,691.2 C580.77,696.8 607.23,696.8 607.5,691.2 Z" fill="#b4b4b4" opacity="0.9" filter="url(#b1)"/>
<path d="M580.5,691.2 C580.77,696.8 607.23,696.8 607.5,691.2 L606.9,691.8 C606.15,694.8 581.85,694.8 581.1,691.8 Z" fill="#b4b4b4" filter="url(#b05)"/>
<ellipse cx="556.5" cy="687.4" rx="4" ry="1.5" fill="#000" filter="url(#b05)"/>
<rect x="388.7" y="714.2" width="26.6" height="3.2" rx="1.6" fill="#2a2a2a" opacity="1" filter="url(#b1)"/>
<rect x="427.5" y="714.4" width="27" height="2.8" rx="1.4" fill="#505050" opacity="1" filter="url(#b1)"/>
<rect x="465.1" y="712.9" width="28.8" height="5.8" rx="2.9" fill="#000000" opacity="1" filter="url(#b1)"/>
<rect x="504" y="714.2" width="27" height="3.2" rx="1.6" fill="#343434" opacity="1" filter="url(#b1)"/>
<rect x="542" y="713.9" width="28" height="3.8" rx="1.9" fill="#181818" opacity="1" filter="url(#b1)"/>
<rect x="581.4" y="714" width="25.2" height="3.6" rx="1.8" fill="#202020" opacity="1" filter="url(#b1)"/>
<rect x="388" y="738.6" width="28" height="3.6" rx="1.8" fill="#0e0e0e" opacity="1" filter="url(#b05)"/>
<rect x="426.8" y="738.6" width="28.4" height="3.6" rx="1.8" fill="#111111" opacity="1" filter="url(#b05)"/>
<rect x="465.1" y="738.6" width="28.8" height="3.6" rx="1.8" fill="#111111" opacity="1" filter="url(#b05)"/>
<rect x="503.3" y="738.5" width="28.4" height="3.8" rx="1.9" fill="#0e0e0e" opacity="1" filter="url(#b05)"/>
<rect x="542.3" y="738.7" width="27.4" height="3.4" rx="1.7" fill="#141414" opacity="1" filter="url(#b05)"/>
<rect x="581.4" y="739" width="25.2" height="2.8" rx="1.4" fill="#2e2e2e" opacity="1" filter="url(#b05)"/>
<circle cx="433.8" cy="744.8" r="0.7" fill="#222" stroke="none" stroke-width="1"/>
<rect x="387.3" y="761.4" width="29.4" height="4" rx="2" fill="#0c0c0c" opacity="1" filter="url(#b05)"/>
<rect x="425.1" y="761.4" width="31.8" height="4" rx="2" fill="#0c0c0c" opacity="1" filter="url(#b05)"/>
<rect x="465.5" y="761.4" width="28" height="4" rx="2" fill="#0c0c0c" opacity="1" filter="url(#b05)"/>
<rect x="503.5" y="761.4" width="28" height="4" rx="2" fill="#0c0c0c" opacity="1" filter="url(#b05)"/>
<rect x="541.3" y="761.4" width="29.4" height="4" rx="2" fill="#0c0c0c" opacity="1" filter="url(#b05)"/>
<rect x="580.9" y="761.4" width="26.2" height="4" rx="2" fill="#0c0c0c" opacity="1" filter="url(#b05)"/>
<text x="9" y="810.1" font-size="17.5" fill="#111" stroke="#111">H</text>
<line x1="76.6" y1="823.7" x2="76.6" y2="938.2" stroke="#111" stroke-width="1.3"/>
<line x1="72.6" y1="937.7" x2="191.4" y2="937.7" stroke="#111" stroke-width="1.3"/>
<line x1="72.1" y1="937.7" x2="76.6" y2="937.7" stroke="#111" stroke-width="1.3"/>
<text x="68.8" y="940.9" font-size="9.8" text-anchor="end" fill="#111" stroke="#111">0.0</text>
<line x1="72.1" y1="909.2" x2="76.6" y2="909.2" stroke="#111" stroke-width="1.3"/>
<text x="68.8" y="912.4" font-size="9.8" text-anchor="end" fill="#111" stroke="#111">0.5</text>
<line x1="72.1" y1="880.7" x2="76.6" y2="880.7" stroke="#111" stroke-width="1.3"/>
<text x="68.8" y="883.9" font-size="9.8" text-anchor="end" fill="#111" stroke="#111">1.0</text>
<line x1="72.1" y1="852.2" x2="76.6" y2="852.2" stroke="#111" stroke-width="1.3"/>
<text x="68.8" y="855.4" font-size="9.8" text-anchor="end" fill="#111" stroke="#111">1.5</text>
<line x1="72.1" y1="823.7" x2="76.6" y2="823.7" stroke="#111" stroke-width="1.3"/>
<text x="68.8" y="826.9" font-size="9.8" text-anchor="end" fill="#111" stroke="#111">2.0</text>
<line x1="94" y1="937.7" x2="94" y2="941.9" stroke="#111" stroke-width="1.3"/>
<line x1="134.3" y1="937.7" x2="134.3" y2="941.9" stroke="#111" stroke-width="1.3"/>
<line x1="174" y1="937.7" x2="174" y2="941.9" stroke="#111" stroke-width="1.3"/>
<text x="38.4" y="873.8" font-size="11.3" text-anchor="middle" fill="#111" stroke="#111" transform="rotate(-90 38.4 873.8)">Fold change of Atrogin-1</text>
<text x="51.9" y="875.7" font-size="11.3" text-anchor="middle" fill="#111" stroke="#111" transform="rotate(-90 51.9 875.7)">protein level</text>
<text x="94.6" y="955.5" font-size="10" text-anchor="end" fill="#111" stroke="#111" transform="rotate(-45 94.6 955.5)">Ctrl</text>
<text x="139.1" y="950.5" font-size="10" text-anchor="end" fill="#111" stroke="#111" transform="rotate(-45 139.1 950.5)">Irisin(0.5mg/kg)</text>
<text x="179.4" y="951" font-size="10" text-anchor="end" fill="#111" stroke="#111" transform="rotate(-45 179.4 951)">Irisin (1mg/kg)</text>
<circle cx="82.4" cy="880.7" r="2.1" fill="#a9a9a9" stroke="none" stroke-width="1"/>
<circle cx="85.2" cy="880.7" r="2.1" fill="#a9a9a9" stroke="none" stroke-width="1"/>
<circle cx="88" cy="880.7" r="2.1" fill="#a9a9a9" stroke="none" stroke-width="1"/>
<circle cx="90.8" cy="880.7" r="2.1" fill="#a9a9a9" stroke="none" stroke-width="1"/>
<circle cx="100.7" cy="848.1" r="2.1" fill="#e8343a" stroke="none" stroke-width="1"/>
<circle cx="100.7" cy="855.05" r="2.1" fill="#e8343a" stroke="none" stroke-width="1"/>
<circle cx="97.4" cy="861.61" r="2.1" fill="#e8343a" stroke="none" stroke-width="1"/>
<circle cx="104" cy="861.32" r="2.1" fill="#e8343a" stroke="none" stroke-width="1"/>
<line x1="100.7" y1="859.04" x2="100.7" y2="852.77" stroke="#e8343a" stroke-width="1"/>
<line x1="98.5" y1="859.04" x2="102.9" y2="859.04" stroke="#e8343a" stroke-width="1"/>
<line x1="98.5" y1="852.77" x2="102.9" y2="852.77" stroke="#e8343a" stroke-width="1"/>
<line x1="95.9" y1="856.19" x2="105.5" y2="856.19" stroke="#111" stroke-width="1.1"/>
<circle cx="123.4" cy="867.59" r="2.1" fill="#a9a9a9" stroke="none" stroke-width="1"/>
<circle cx="130.4" cy="867.59" r="2.1" fill="#a9a9a9" stroke="none" stroke-width="1"/>
<circle cx="126.9" cy="881.27" r="2.1" fill="#a9a9a9" stroke="none" stroke-width="1"/>
<circle cx="126.9" cy="904.64" r="2.1" fill="#a9a9a9" stroke="none" stroke-width="1"/>
<line x1="126.9" y1="888.68" x2="126.9" y2="871.58" stroke="#a9a9a9" stroke-width="1"/>
<line x1="124.7" y1="888.68" x2="129.1" y2="888.68" stroke="#a9a9a9" stroke-width="1"/>
<line x1="124.7" y1="871.58" x2="129.1" y2="871.58" stroke="#a9a9a9" stroke-width="1"/>
<line x1="122.1" y1="880.13" x2="131.7" y2="880.13" stroke="#111" stroke-width="1.1"/>
<circle cx="141" cy="877.62" r="2.1" fill="#e8343a" stroke="none" stroke-width="1"/>
<circle cx="137.4" cy="884.12" r="2.1" fill="#e8343a" stroke="none" stroke-width="1"/>
<circle cx="144.6" cy="885.83" r="2.1" fill="#e8343a" stroke="none" stroke-width="1"/>
<circle cx="141" cy="892.1" r="2.1" fill="#e8343a" stroke="none" stroke-width="1"/>
<line x1="141" y1="888.11" x2="141" y2="882.41" stroke="#e8343a" stroke-width="1"/>
<line x1="138.8" y1="888.11" x2="143.2" y2="888.11" stroke="#e8343a" stroke-width="1"/>
<line x1="138.8" y1="882.41" x2="143.2" y2="882.41" stroke="#e8343a" stroke-width="1"/>
<line x1="136.2" y1="885.26" x2="145.8" y2="885.26" stroke="#111" stroke-width="1.1"/>
<circle cx="165.5" cy="864.17" r="2.1" fill="#a9a9a9" stroke="none" stroke-width="1"/>
<circle cx="165.5" cy="880.7" r="2.1" fill="#a9a9a9" stroke="none" stroke-width="1"/>
<circle cx="165.5" cy="885.83" r="2.1" fill="#a9a9a9" stroke="none" stroke-width="1"/>
<circle cx="165.5" cy="898.94" r="2.1" fill="#a9a9a9" stroke="none" stroke-width="1"/>
<line x1="165.5" y1="889.25" x2="165.5" y2="874.43" stroke="#a9a9a9" stroke-width="1"/>
<line x1="163.3" y1="889.25" x2="167.7" y2="889.25" stroke="#a9a9a9" stroke-width="1"/>
<line x1="163.3" y1="874.43" x2="167.7" y2="874.43" stroke="#a9a9a9" stroke-width="1"/>
<line x1="160.7" y1="881.84" x2="170.3" y2="881.84" stroke="#111" stroke-width="1.1"/>
<circle cx="184.6" cy="875" r="2.1" fill="#e8343a" stroke="none" stroke-width="1"/>
<circle cx="178" cy="877.62" r="2.1" fill="#e8343a" stroke="none" stroke-width="1"/>
<circle cx="181.3" cy="884.69" r="2.1" fill="#e8343a" stroke="none" stroke-width="1"/>
<circle cx="181.3" cy="889.25" r="2.1" fill="#e8343a" stroke="none" stroke-width="1"/>
<line x1="181.3" y1="883.55" x2="181.3" y2="878.99" stroke="#e8343a" stroke-width="1"/>
<line x1="179.1" y1="883.55" x2="183.5" y2="883.55" stroke="#e8343a" stroke-width="1"/>
<line x1="179.1" y1="878.99" x2="183.5" y2="878.99" stroke="#e8343a" stroke-width="1"/>
<line x1="176.5" y1="881.27" x2="186.1" y2="881.27" stroke="#111" stroke-width="1.1"/>
<polyline points="86.6,877 86.6,838.7 100.7,838.7 100.7,844.5" fill="none" stroke="#222" stroke-width="1"/>
<text x="93.4" y="840.9" font-size="13" text-anchor="middle" font-weight="normal" fill="#222" stroke="#222" stroke-width="0.15">*</text>
<polyline points="100.7,826.3 100.7,821.9 141,821.9 141,875.6" fill="none" stroke="#222" stroke-width="1"/>
<text x="124.2" y="823.3" font-size="13" text-anchor="middle" font-weight="normal" fill="#222" stroke="#222" stroke-width="0.15">**</text>
<polyline points="100.7,812.8 100.7,805.1 181.3,805.1 181.3,870.6" fill="none" stroke="#222" stroke-width="1"/>
<text x="143.7" y="808.9" font-size="13" text-anchor="middle" font-weight="normal" fill="#222" stroke="#222" stroke-width="0.15">*</text>
<circle cx="195.8" cy="831" r="1.8" fill="#a9a9a9" stroke="none" stroke-width="1"/>
<circle cx="195.8" cy="845.4" r="1.8" fill="#e8343a" stroke="none" stroke-width="1"/>
<text x="201.1" y="834.3" font-size="9.6" fill="#111" stroke="#111">Veh</text>
<text x="201.1" y="848.7" font-size="9.6" fill="#111" stroke="#111">Dex</text>
<line x1="289.8" y1="825.28" x2="289.8" y2="938.9" stroke="#111" stroke-width="1.3"/>
<line x1="285.8" y1="938.4" x2="411.4" y2="938.4" stroke="#111" stroke-width="1.3"/>
<line x1="285.3" y1="938.4" x2="289.8" y2="938.4" stroke="#111" stroke-width="1.3"/>
<text x="282" y="941.6" font-size="9.8" text-anchor="end" fill="#111" stroke="#111">0.0</text>
<line x1="285.3" y1="910.12" x2="289.8" y2="910.12" stroke="#111" stroke-width="1.3"/>
<text x="282" y="913.32" font-size="9.8" text-anchor="end" fill="#111" stroke="#111">1.0</text>
<line x1="285.3" y1="881.84" x2="289.8" y2="881.84" stroke="#111" stroke-width="1.3"/>
<text x="282" y="885.04" font-size="9.8" text-anchor="end" fill="#111" stroke="#111">2.0</text>
<line x1="285.3" y1="853.56" x2="289.8" y2="853.56" stroke="#111" stroke-width="1.3"/>
<text x="282" y="856.76" font-size="9.8" text-anchor="end" fill="#111" stroke="#111">3.0</text>
<line x1="285.3" y1="825.28" x2="289.8" y2="825.28" stroke="#111" stroke-width="1.3"/>
<text x="282" y="828.48" font-size="9.8" text-anchor="end" fill="#111" stroke="#111">4.0</text>
<line x1="309.6" y1="938.4" x2="309.6" y2="942.6" stroke="#111" stroke-width="1.3"/>
<line x1="352" y1="938.4" x2="352" y2="942.6" stroke="#111" stroke-width="1.3"/>
<line x1="392.9" y1="938.4" x2="392.9" y2="942.6" stroke="#111" stroke-width="1.3"/>
<text x="248" y="872" font-size="11.3" text-anchor="middle" fill="#111" stroke="#111" transform="rotate(-90 248 872)">Fold change of MuRF-1</text>
<text x="261.9" y="878.3" font-size="11.3" text-anchor="middle" fill="#111" stroke="#111" transform="rotate(-90 261.9 878.3)">protein level</text>
<text x="312.1" y="956.2" font-size="10" text-anchor="end" fill="#111" stroke="#111" transform="rotate(-45 312.1 956.2)">Ctrl</text>
<text x="356.8" y="951.2" font-size="10" text-anchor="end" fill="#111" stroke="#111" transform="rotate(-45 356.8 951.2)">Irisin(0.5mg/kg)</text>
<text x="400.2" y="951.7" font-size="10" text-anchor="end" fill="#111" stroke="#111" transform="rotate(-45 400.2 951.7)">Irisin (1mg/kg)</text>
<circle cx="298" cy="910.12" r="2.1" fill="#a9a9a9" stroke="none" stroke-width="1"/>
<circle cx="300.8" cy="910.12" r="2.1" fill="#a9a9a9" stroke="none" stroke-width="1"/>
<circle cx="303.6" cy="910.12" r="2.1" fill="#a9a9a9" stroke="none" stroke-width="1"/>
<circle cx="306.4" cy="910.12" r="2.1" fill="#a9a9a9" stroke="none" stroke-width="1"/>
<circle cx="316.7" cy="852.99" r="2.1" fill="#e8343a" stroke="none" stroke-width="1"/>
<circle cx="316.7" cy="857.8" r="2.1" fill="#e8343a" stroke="none" stroke-width="1"/>
<circle cx="316.7" cy="880.43" r="2.1" fill="#e8343a" stroke="none" stroke-width="1"/>
<circle cx="316.7" cy="901.07" r="2.1" fill="#e8343a" stroke="none" stroke-width="1"/>
<line x1="316.7" y1="882.69" x2="316.7" y2="861.48" stroke="#e8343a" stroke-width="1"/>
<line x1="314.5" y1="882.69" x2="318.9" y2="882.69" stroke="#e8343a" stroke-width="1"/>
<line x1="314.5" y1="861.48" x2="318.9" y2="861.48" stroke="#e8343a" stroke-width="1"/>
<line x1="311.9" y1="871.94" x2="321.5" y2="871.94" stroke="#111" stroke-width="1.1"/>
<circle cx="344.2" cy="903.9" r="2.1" fill="#a9a9a9" stroke="none" stroke-width="1"/>
<circle cx="344.2" cy="921.43" r="2.1" fill="#a9a9a9" stroke="none" stroke-width="1"/>
<circle cx="344.2" cy="925.67" r="2.1" fill="#a9a9a9" stroke="none" stroke-width="1"/>
<circle cx="344.2" cy="934.16" r="2.1" fill="#a9a9a9" stroke="none" stroke-width="1"/>
<line x1="344.2" y1="927.65" x2="344.2" y2="915.78" stroke="#a9a9a9" stroke-width="1"/>
<line x1="342" y1="927.65" x2="346.4" y2="927.65" stroke="#a9a9a9" stroke-width="1"/>
<line x1="342" y1="915.78" x2="346.4" y2="915.78" stroke="#a9a9a9" stroke-width="1"/>
<line x1="339.4" y1="922" x2="349" y2="922" stroke="#111" stroke-width="1.1"/>
<circle cx="358.6" cy="905.88" r="2.1" fill="#e8343a" stroke="none" stroke-width="1"/>
<circle cx="358.6" cy="918.04" r="2.1" fill="#e8343a" stroke="none" stroke-width="1"/>
<circle cx="361.6" cy="921.43" r="2.1" fill="#e8343a" stroke="none" stroke-width="1"/>
<circle cx="355.6" cy="925.67" r="2.1" fill="#e8343a" stroke="none" stroke-width="1"/>
<line x1="358.6" y1="921.43" x2="358.6" y2="913.8" stroke="#e8343a" stroke-width="1"/>
<line x1="356.4" y1="921.43" x2="360.8" y2="921.43" stroke="#e8343a" stroke-width="1"/>
<line x1="356.4" y1="913.8" x2="360.8" y2="913.8" stroke="#e8343a" stroke-width="1"/>
<line x1="353.8" y1="917.76" x2="363.4" y2="917.76" stroke="#111" stroke-width="1.1"/>
<circle cx="385.5" cy="895.41" r="2.1" fill="#a9a9a9" stroke="none" stroke-width="1"/>
<circle cx="385.5" cy="905.88" r="2.1" fill="#a9a9a9" stroke="none" stroke-width="1"/>
<circle cx="385.5" cy="910.12" r="2.1" fill="#a9a9a9" stroke="none" stroke-width="1"/>
<circle cx="385.5" cy="924.83" r="2.1" fill="#a9a9a9" stroke="none" stroke-width="1"/>
<line x1="385.5" y1="914.36" x2="385.5" y2="902.2" stroke="#a9a9a9" stroke-width="1"/>
<line x1="383.3" y1="914.36" x2="387.7" y2="914.36" stroke="#a9a9a9" stroke-width="1"/>
<line x1="383.3" y1="902.2" x2="387.7" y2="902.2" stroke="#a9a9a9" stroke-width="1"/>
<line x1="380.7" y1="908.14" x2="390.3" y2="908.14" stroke="#111" stroke-width="1.1"/>
<circle cx="399.6" cy="903.9" r="2.1" fill="#e8343a" stroke="none" stroke-width="1"/>
<circle cx="399.6" cy="924.26" r="2.1" fill="#e8343a" stroke="none" stroke-width="1"/>
<circle cx="396.3" cy="927.65" r="2.1" fill="#e8343a" stroke="none" stroke-width="1"/>
<circle cx="402.9" cy="927.65" r="2.1" fill="#e8343a" stroke="none" stroke-width="1"/>
<line x1="399.6" y1="925.11" x2="399.6" y2="913.8" stroke="#e8343a" stroke-width="1"/>
<line x1="397.4" y1="925.11" x2="401.8" y2="925.11" stroke="#e8343a" stroke-width="1"/>
<line x1="397.4" y1="913.8" x2="401.8" y2="913.8" stroke="#e8343a" stroke-width="1"/>
<line x1="394.8" y1="919.45" x2="404.4" y2="919.45" stroke="#111" stroke-width="1.1"/>
<polyline points="303.2,907.5 303.2,842.7 316.7,842.7 316.7,850.4" fill="none" stroke="#222" stroke-width="1"/>
<text x="310.6" y="844.1" font-size="13" text-anchor="middle" font-weight="normal" fill="#222" stroke="#222" stroke-width="0.15">*</text>
<polyline points="316.7,838.7 316.7,829.6 400.6,829.6 400.6,897.5" fill="none" stroke="#222" stroke-width="1"/>
<text x="356" y="830.7" font-size="13" text-anchor="middle" font-weight="normal" fill="#222" stroke="#222" stroke-width="0.15">*</text>
<circle cx="414" cy="832" r="1.8" fill="#a9a9a9" stroke="none" stroke-width="1"/>
<circle cx="414" cy="845.4" r="1.8" fill="#e8343a" stroke="none" stroke-width="1"/>
<text x="419.3" y="835.3" font-size="9.6" fill="#111" stroke="#111">Veh</text>
<text x="419.3" y="848.7" font-size="9.6" fill="#111" stroke="#111">Dex</text>
<line x1="504.7" y1="821.9" x2="504.7" y2="936.6" stroke="#111" stroke-width="1.3"/>
<line x1="500.7" y1="936.1" x2="615.5" y2="936.1" stroke="#111" stroke-width="1.3"/>
<line x1="500.2" y1="936.1" x2="504.7" y2="936.1" stroke="#111" stroke-width="1.3"/>
<text x="496.9" y="939.3" font-size="9.8" text-anchor="end" fill="#111" stroke="#111">0.0</text>
<line x1="500.2" y1="907.55" x2="504.7" y2="907.55" stroke="#111" stroke-width="1.3"/>
<text x="496.9" y="910.75" font-size="9.8" text-anchor="end" fill="#111" stroke="#111">0.5</text>
<line x1="500.2" y1="879" x2="504.7" y2="879" stroke="#111" stroke-width="1.3"/>
<text x="496.9" y="882.2" font-size="9.8" text-anchor="end" fill="#111" stroke="#111">1.0</text>
<line x1="500.2" y1="850.45" x2="504.7" y2="850.45" stroke="#111" stroke-width="1.3"/>
<text x="496.9" y="853.65" font-size="9.8" text-anchor="end" fill="#111" stroke="#111">1.5</text>
<line x1="500.2" y1="821.9" x2="504.7" y2="821.9" stroke="#111" stroke-width="1.3"/>
<text x="496.9" y="825.1" font-size="9.8" text-anchor="end" fill="#111" stroke="#111">2.0</text>
<line x1="522.2" y1="936.1" x2="522.2" y2="940.3" stroke="#111" stroke-width="1.3"/>
<line x1="562.5" y1="936.1" x2="562.5" y2="940.3" stroke="#111" stroke-width="1.3"/>
<line x1="601.7" y1="936.1" x2="601.7" y2="940.3" stroke="#111" stroke-width="1.3"/>
<text x="465.4" y="872.4" font-size="11.3" text-anchor="middle" fill="#111" stroke="#111" transform="rotate(-90 465.4 872.4)">Fold change of P-AKT/AKT</text>
<text x="479.3" y="875.5" font-size="11.3" text-anchor="middle" fill="#111" stroke="#111" transform="rotate(-90 479.3 875.5)">protein level</text>
<text x="519" y="952" font-size="10" text-anchor="end" fill="#111" stroke="#111" transform="rotate(-45 519 952)">Ctrl</text>
<text x="562.6" y="946.4" font-size="10" text-anchor="end" fill="#111" stroke="#111" transform="rotate(-45 562.6 946.4)">Irisin(0.5mg/kg)</text>
<text x="603.9" y="947.5" font-size="10" text-anchor="end" fill="#111" stroke="#111" transform="rotate(-45 603.9 947.5)">Irisin (1mg/kg)</text>
<circle cx="510.6" cy="879" r="2.1" fill="#a9a9a9" stroke="none" stroke-width="1"/>
<circle cx="513.4" cy="879" r="2.1" fill="#a9a9a9" stroke="none" stroke-width="1"/>
<circle cx="516.2" cy="879" r="2.1" fill="#a9a9a9" stroke="none" stroke-width="1"/>
<circle cx="519" cy="879" r="2.1" fill="#a9a9a9" stroke="none" stroke-width="1"/>
<circle cx="529.5" cy="896.13" r="2.1" fill="#e8343a" stroke="none" stroke-width="1"/>
<circle cx="529.5" cy="906.41" r="2.1" fill="#e8343a" stroke="none" stroke-width="1"/>
<circle cx="526.5" cy="909.26" r="2.1" fill="#e8343a" stroke="none" stroke-width="1"/>
<circle cx="532.5" cy="914.4" r="2.1" fill="#e8343a" stroke="none" stroke-width="1"/>
<line x1="529.5" y1="910.98" x2="529.5" y2="904.12" stroke="#e8343a" stroke-width="1"/>
<line x1="527.3" y1="910.98" x2="531.7" y2="910.98" stroke="#e8343a" stroke-width="1"/>
<line x1="527.3" y1="904.12" x2="531.7" y2="904.12" stroke="#e8343a" stroke-width="1"/>
<line x1="524.7" y1="907.55" x2="534.3" y2="907.55" stroke="#111" stroke-width="1.1"/>
<circle cx="555" cy="840.74" r="2.1" fill="#a9a9a9" stroke="none" stroke-width="1"/>
<circle cx="552" cy="870.44" r="2.1" fill="#a9a9a9" stroke="none" stroke-width="1"/>
<circle cx="558" cy="872.15" r="2.1" fill="#a9a9a9" stroke="none" stroke-width="1"/>
<circle cx="555" cy="880.14" r="2.1" fill="#a9a9a9" stroke="none" stroke-width="1"/>
<line x1="555" y1="883.57" x2="555" y2="856.73" stroke="#a9a9a9" stroke-width="1"/>
<line x1="552.8" y1="883.57" x2="557.2" y2="883.57" stroke="#a9a9a9" stroke-width="1"/>
<line x1="552.8" y1="856.73" x2="557.2" y2="856.73" stroke="#a9a9a9" stroke-width="1"/>
<line x1="550.2" y1="869.86" x2="559.8" y2="869.86" stroke="#111" stroke-width="1.1"/>
<circle cx="569.2" cy="894.99" r="2.1" fill="#e8343a" stroke="none" stroke-width="1"/>
<circle cx="569.2" cy="906.41" r="2.1" fill="#e8343a" stroke="none" stroke-width="1"/>
<circle cx="566.2" cy="910.4" r="2.1" fill="#e8343a" stroke="none" stroke-width="1"/>
<circle cx="572.2" cy="914.4" r="2.1" fill="#e8343a" stroke="none" stroke-width="1"/>
<line x1="569.2" y1="910.98" x2="569.2" y2="902.98" stroke="#e8343a" stroke-width="1"/>
<line x1="567" y1="910.98" x2="571.4" y2="910.98" stroke="#e8343a" stroke-width="1"/>
<line x1="567" y1="902.98" x2="571.4" y2="902.98" stroke="#e8343a" stroke-width="1"/>
<line x1="564.4" y1="907.55" x2="574" y2="907.55" stroke="#111" stroke-width="1.1"/>
<circle cx="593.7" cy="867.58" r="2.1" fill="#a9a9a9" stroke="none" stroke-width="1"/>
<circle cx="593.7" cy="877.86" r="2.1" fill="#a9a9a9" stroke="none" stroke-width="1"/>
<circle cx="593.7" cy="883.57" r="2.1" fill="#a9a9a9" stroke="none" stroke-width="1"/>
<circle cx="593.7" cy="900.13" r="2.1" fill="#a9a9a9" stroke="none" stroke-width="1"/>
<line x1="593.7" y1="889.28" x2="593.7" y2="876.14" stroke="#a9a9a9" stroke-width="1"/>
<line x1="591.5" y1="889.28" x2="595.9" y2="889.28" stroke="#a9a9a9" stroke-width="1"/>
<line x1="591.5" y1="876.14" x2="595.9" y2="876.14" stroke="#a9a9a9" stroke-width="1"/>
<line x1="588.9" y1="882.43" x2="598.5" y2="882.43" stroke="#111" stroke-width="1.1"/>
<circle cx="609.5" cy="867.58" r="2.1" fill="#e8343a" stroke="none" stroke-width="1"/>
<circle cx="606.5" cy="883.57" r="2.1" fill="#e8343a" stroke="none" stroke-width="1"/>
<circle cx="612.5" cy="887.57" r="2.1" fill="#e8343a" stroke="none" stroke-width="1"/>
<circle cx="609.5" cy="894.99" r="2.1" fill="#e8343a" stroke="none" stroke-width="1"/>
<line x1="609.5" y1="889.85" x2="609.5" y2="879" stroke="#e8343a" stroke-width="1"/>
<line x1="607.3" y1="889.85" x2="611.7" y2="889.85" stroke="#e8343a" stroke-width="1"/>
<line x1="607.3" y1="879" x2="611.7" y2="879" stroke="#e8343a" stroke-width="1"/>
<line x1="604.7" y1="884.71" x2="614.3" y2="884.71" stroke="#111" stroke-width="1.1"/>
<polyline points="515.4,869 515.4,864.5 530.5,864.5 530.5,894" fill="none" stroke="#222" stroke-width="1"/>
<text x="523.2" y="866.9" font-size="13" text-anchor="middle" font-weight="normal" fill="#222" stroke="#222" stroke-width="0.15">*</text>
<polyline points="531.6,842 531.6,832.6 609.5,832.6 609.5,864.5" fill="none" stroke="#222" stroke-width="1"/>
<text x="570.8" y="834.1" font-size="13" text-anchor="middle" font-weight="normal" fill="#222" stroke="#222" stroke-width="0.15">**</text>
<circle cx="627" cy="828" r="1.8" fill="#a9a9a9" stroke="none" stroke-width="1"/>
<circle cx="627" cy="842" r="1.8" fill="#e8343a" stroke="none" stroke-width="1"/>
<text x="632.3" y="831.3" font-size="9.6" fill="#111" stroke="#111">Veh</text>
<text x="632.3" y="845.3" font-size="9.6" fill="#111" stroke="#111">Dex</text>
</svg>
</body></html>
